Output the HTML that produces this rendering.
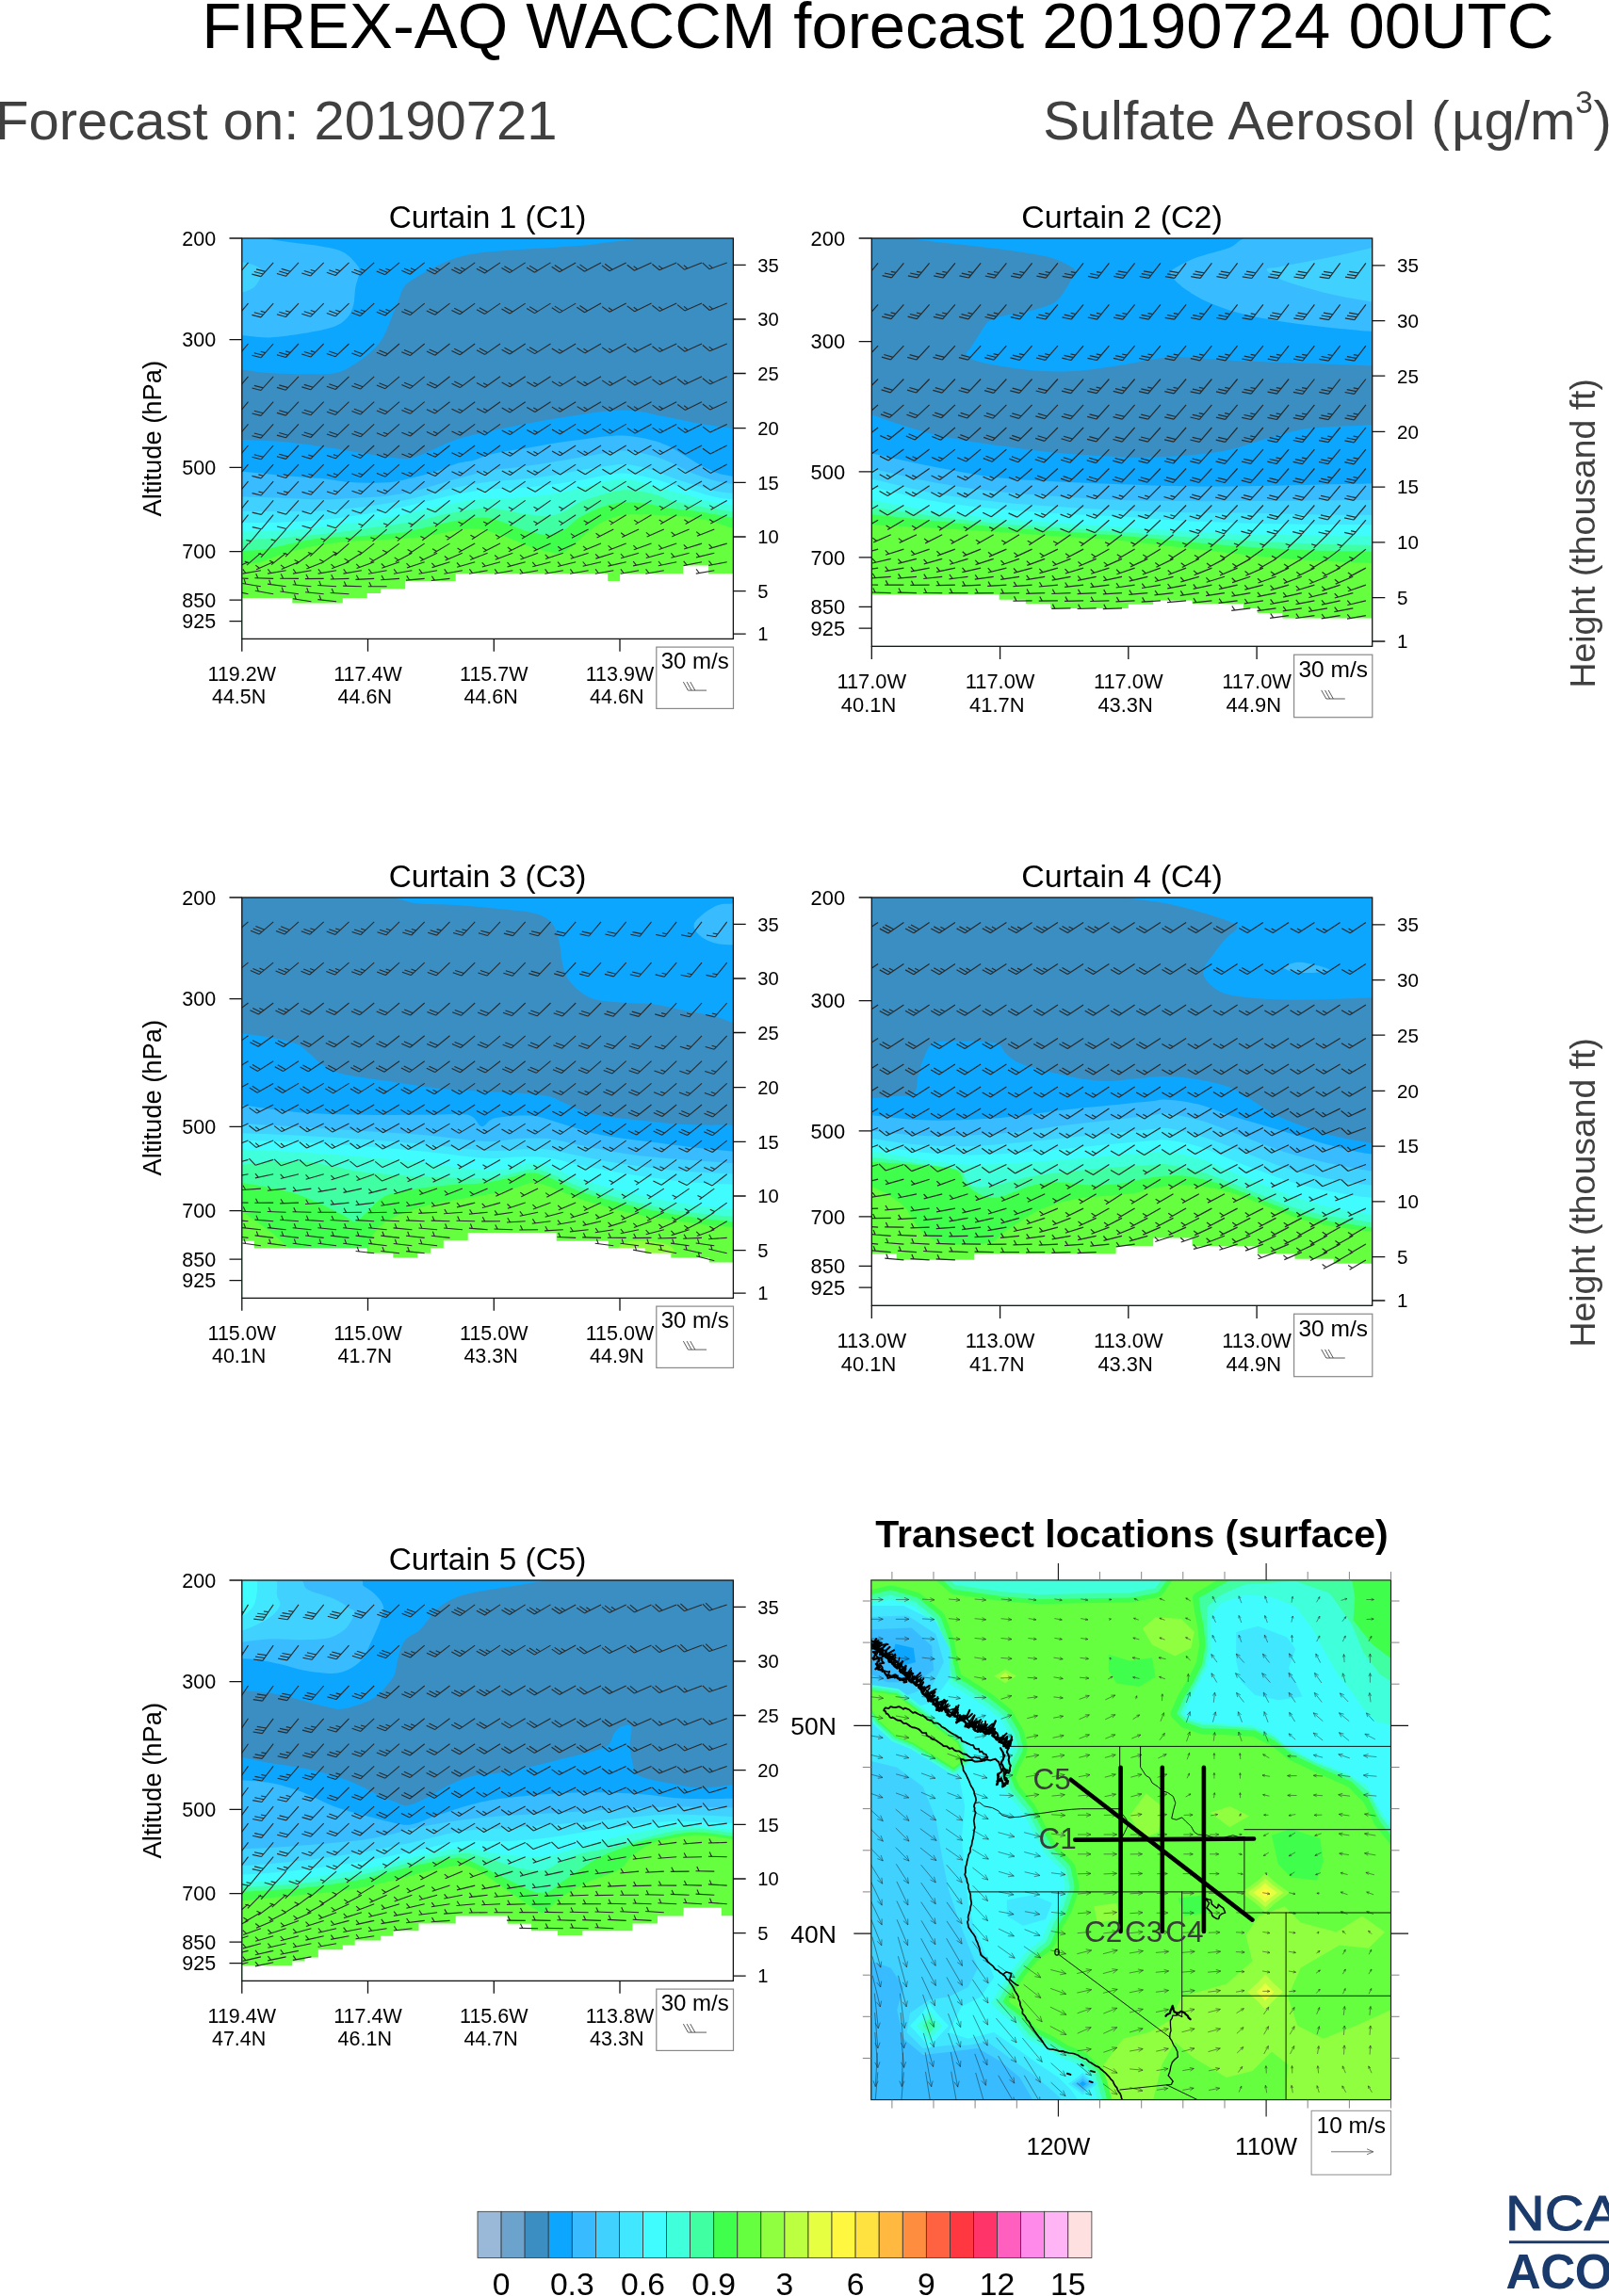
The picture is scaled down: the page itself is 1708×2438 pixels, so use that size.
<!DOCTYPE html>
<html><head><meta charset="utf-8"><title>FIREX-AQ WACCM forecast</title>
<style>html,body{margin:0;padding:0;background:#fff}svg{display:block;will-change:transform}text{font-family:"Liberation Sans",sans-serif}</style></head><body>
<svg width="1708" height="2438" viewBox="0 0 1708 2438">
<rect width="1708" height="2438" fill="#fff"/>
<text x="214.3" y="51.3" font-size="68.8" text-anchor="start" fill="#000" >FIREX-AQ WACCM forecast 20190724 00UTC</text>
<text x="-5" y="148" font-size="58" text-anchor="start" fill="#404040" >Forecast on: 20190721</text>
<text x="1107.2" y="148" font-size="58.2" text-anchor="start" fill="#404040" letter-spacing="0.28">Sulfate Aerosol (</text>
<text x="1541" y="148" font-size="58.2" text-anchor="start" fill="#404040" >µ</text>
<text x="1575.5" y="148" font-size="58.2" text-anchor="start" fill="#404040" >g/m</text>
<text x="1672.3" y="120.3" font-size="33.5" text-anchor="start" fill="#404040" >3</text>
<text x="1691.5" y="148" font-size="58.2" text-anchor="start" fill="#404040" >)</text>
<g transform="translate(256.8 253)">
<clipPath id="cp1"><rect x="0" y="0" width="521.6" height="425.4"/></clipPath>
<g clip-path="url(#cp1)">
<rect x="0" y="0" width="521.6" height="425.4" fill="#0DA6FF"/>
<path d="M0 -6.5 C7.6 -5 25.4 0.2 38.9 2.6 C52.4 5 69.7 6.1 81 8.1 C92.4 10.1 100.2 11.3 107 14.6 C113.7 17.8 118.6 24 121.6 27.6 C124.5 31.1 125 31.6 124.8 35.7 C124.6 39.7 121.7 45.9 120.6 51.9 C119.5 57.8 119.8 65.9 118.3 71.3 C116.9 76.7 115.4 80.5 111.8 84.3 C108.3 88.1 105.1 91.2 97.3 94 C89.4 96.8 76.2 99.3 64.8 101.1 C53.5 103 40 105 29.2 105.4 C18.4 105.7 5.9 103.5 0 103.1 C-5.9 102.7 -5.4 121.4 -6.5 103.1 C-7.6 84.8 -7.6 11.8 -6.5 -6.5 C-5.4 -24.7 -7.6 -8 0 -6.5Z" fill="#38BCFF"/>
<path d="M-6.5 25.3 C-5.4 19.9 -3.2 24.7 0 25.3 C3.2 25.8 9.5 27.1 13 28.5 C16.5 30 20 31.8 21.1 34 C22.2 36.3 20.8 39.2 19.5 42.1 C18.1 45.1 16.2 49.3 13 51.9 C9.7 54.5 3.2 56.7 0 57.7 C-3.2 58.7 -5.4 63.1 -6.5 57.7 C-7.6 52.3 -7.6 30.7 -6.5 25.3Z" fill="#40D1FF"/>
<path d="M431.2 -3.9 C413.3 -3.6 431.7 -1.4 424.7 0 C417.6 1.4 400.4 2.9 389 4.2 C377.7 5.6 372.8 6.8 356.6 8.1 C340.4 9.5 309 11.1 291.8 12.3 C274.5 13.6 263.7 14.1 252.9 15.6 C242.1 17 235.6 18.3 226.9 21.1 C218.3 23.9 208.6 28.6 201 32.4 C193.4 36.2 186.4 40.5 181.5 43.8 C176.7 47 174.5 47.8 171.8 51.9 C169.1 55.9 167.5 62.7 165.3 68.1 C163.2 73.5 161.3 78.3 158.8 84.3 C156.4 90.2 154 98.1 150.7 103.7 C147.5 109.4 144 113.7 139.4 118.3 C134.8 122.9 129.1 127.3 123.2 131.3 C117.2 135.2 110.8 139.8 103.7 142 C96.7 144.2 92.9 144 81 144.3 C69.2 144.5 45.9 144.1 32.4 143.3 C18.9 142.5 7 140 0 139.4 C-7 138.7 -8.1 127 -9.7 139.4 C-11.3 151.8 -11.3 201.5 -9.7 214 C-8.1 226.4 -9.7 213.5 0 214 C9.7 214.4 32.4 215 48.6 216.5 C64.8 218.1 82.7 220.9 97.3 223 C111.8 225.2 123.7 227.7 136.2 229.5 C148.6 231.4 163.7 233.6 171.8 234.1 C179.9 234.5 179.9 233.6 184.8 232.1 C189.6 230.7 194 228.3 201 225.3 C208 222.3 216.9 217.3 226.9 214 C237 210.6 251.5 207.5 261.3 205.2 C271.1 202.9 277.5 202 285.6 200.3 C293.7 198.7 301.8 197 309.9 195.5 C318 194 326.2 192.6 334.2 191.3 C342.3 189.9 350.2 188.6 358.2 187.4 C366.3 186.2 375 184.9 382.5 184.1 C390.1 183.3 396.8 182.5 403.6 182.5 C410.4 182.5 417.1 183.3 423.1 184.1 C429 184.9 432.5 186 439.3 187.4 C446 188.7 455.5 190.6 463.6 192.2 C471.7 193.9 478.2 195.5 487.9 197.1 C497.6 198.7 514.3 201 521.6 202 C528.9 202.9 530 236.5 531.6 202.6 C533.3 168.7 548.4 32.8 531.6 -1.6 C514.9 -36 449 -4.2 431.2 -3.9Z" fill="#3B8EC2"/>
<path d="M-10 247.7 C-8.3 247.7 -8.9 247 0 247.7 C8.9 248.4 29.2 250.6 43.4 251.9 C57.6 253.1 74.1 254 85.3 255.1 C96.4 256.3 102.1 257.9 110.5 258.7 C119 259.4 127.4 259.7 135.8 259.7 C144.3 259.7 154.1 259.4 161.1 258.7 C168.1 257.9 170.7 256.8 177.6 255.1 C184.6 253.5 194.5 251.3 202.9 248.6 C211.4 246 221.2 241.3 228.2 239.2 C235.2 237.1 239.6 237.5 245.1 236 C250.6 234.5 254.5 231.9 261.3 230.2 C268 228.4 277.5 226.8 285.6 225.3 C293.7 223.8 301.8 222.8 309.9 221.4 C318 220.1 326.2 218.4 334.2 217.2 C342.3 216 350.2 215 358.2 214 C366.3 212.9 375 211.5 382.5 210.7 C390.1 210 396.8 209.3 403.6 209.4 C410.4 209.6 417.1 210.7 423.1 211.7 C429 212.7 433.9 213.8 439.3 215.6 C444.7 217.3 450.1 219.4 455.5 222.1 C460.9 224.8 466.3 228.5 471.7 231.8 C477.1 235 482.5 238.6 487.9 241.5 C493.2 244.4 498.2 247.1 503.8 249 C509.4 250.9 517 252.2 521.6 252.9 C526.2 253.5 529.9 252.9 531.6 252.9 L531.6 430.4 L-10 430.4 Z" fill="#38BCFF"/>
<path d="M-10 274.6 C-8.3 274.6 -8.9 274.4 0 274.6 C8.9 274.8 29.2 275.4 43.4 275.9 C57.6 276.3 72.7 277.2 85.3 277.2 C97.8 277.2 109.1 276.3 119 275.9 C128.8 275.4 135.8 275.3 144.3 274.6 C152.7 273.8 161.2 272.9 169.5 271.3 C177.9 269.8 186.1 267.4 194.5 265.2 C202.9 262.9 211.4 260.1 219.8 257.7 C228.2 255.3 238.2 252.7 245.1 250.9 C252 249.1 253.2 248 261.3 246.7 C269.4 245.4 282.9 244.5 293.7 243.1 C304.5 241.7 315.4 240 326.1 238.3 C336.9 236.5 348.8 234.4 358.2 232.8 C367.6 231.1 375 229.7 382.5 228.5 C390.1 227.4 396.8 225.7 403.6 225.6 C410.4 225.5 417.1 226.9 423.1 227.9 C429 228.9 433.9 230.1 439.3 231.8 C444.7 233.5 450.1 235.8 455.5 238.3 C460.9 240.7 466.3 243.9 471.7 246.4 C477.1 248.8 482.5 251 487.9 252.9 C493.2 254.7 498.2 256.4 503.8 257.7 C509.4 259.1 517 260.4 521.6 261 C526.2 261.5 529.9 261 531.6 261 L531.6 430.4 L-10 430.4 Z" fill="#40D1FF"/>
<path d="M-10 289.8 C-8.3 289.8 -8.9 289.8 0 289.8 C8.9 289.9 29.2 290.2 43.4 290.1 C57.6 290.1 72.7 290.1 85.3 289.5 C97.8 288.8 109.1 287.3 119 286.2 C128.8 285.2 135.8 284.2 144.3 283 C152.7 281.8 161.2 280.5 169.5 278.8 C177.9 277.1 186.1 275.1 194.5 273 C202.9 270.8 211.4 268.1 219.8 266.1 C228.2 264.2 238.2 262.5 245.1 261.3 C252 260 253.2 259.6 261.3 258.7 C269.4 257.8 282.9 257.2 293.7 256.1 C304.5 255 315.4 253.8 326.1 252.2 C336.9 250.6 348.8 248 358.2 246.4 C367.6 244.8 375 243.6 382.5 242.5 C390.1 241.4 396.8 239.9 403.6 239.9 C410.4 239.9 417.1 241.2 423.1 242.5 C429 243.7 433.9 245.5 439.3 247.3 C444.7 249.2 450.1 251.8 455.5 253.8 C460.9 255.8 466.3 257.6 471.7 259.3 C477.1 261.1 482.5 262.7 487.9 264.2 C493.2 265.7 498.2 267.3 503.8 268.4 C509.4 269.5 517 270.3 521.6 270.7 C526.2 271.1 529.9 270.7 531.6 270.7 L531.6 430.4 L-10 430.4 Z" fill="#40E7FF"/>
<path d="M-10 302.1 C-8.3 302.1 -8.9 302.2 0 302.1 C8.9 302 29.2 302 43.4 301.5 C57.6 300.9 72.7 300 85.3 298.9 C97.8 297.8 109.1 296.1 119 294.7 C128.8 293.3 135.8 292 144.3 290.5 C152.7 288.9 161.2 287.4 169.5 285.6 C177.9 283.8 186.1 281.8 194.5 279.8 C202.9 277.8 211.4 275.4 219.8 273.6 C228.2 271.8 238.2 269.9 245.1 268.7 C252 267.6 253.2 267.1 261.3 266.5 C269.4 265.9 282.9 265.9 293.7 265.2 C304.5 264.4 315.4 263.3 326.1 261.9 C336.9 260.6 348.8 258.7 358.2 257.1 C367.6 255.5 375 253.5 382.5 252.2 C390.1 251 396.8 249.6 403.6 249.6 C410.4 249.6 417.1 251.1 423.1 252.2 C429 253.3 433.9 254.6 439.3 256.1 C444.7 257.6 450.1 259.3 455.5 261 C460.9 262.6 466.3 264.2 471.7 265.8 C477.1 267.4 482.5 269.2 487.9 270.7 C493.2 272.2 498.2 273.8 503.8 274.9 C509.4 276 517 276.8 521.6 277.2 C526.2 277.5 529.9 277.2 531.6 277.2 L531.6 430.4 L-10 430.4 Z" fill="#40FCFF"/>
<path d="M-10 311.5 C-8.3 311.5 -8.9 311.7 0 311.5 C8.9 311.3 29.2 311 43.4 310.2 C57.6 309.4 72.7 308 85.3 306.7 C97.8 305.3 109.1 303.5 119 302.1 C128.8 300.7 135.8 299.6 144.3 298.2 C152.7 296.9 161.2 295.8 169.5 294 C177.9 292.3 186.1 289.8 194.5 287.9 C202.9 286 211.4 284.4 219.8 282.7 C228.2 281 238.2 278.8 245.1 277.8 C252 276.8 253.2 276.9 261.3 276.5 C269.4 276.1 282.9 276.3 293.7 275.6 C304.5 274.8 315.4 273.9 326.1 272.3 C336.9 270.7 348.8 268 358.2 265.8 C367.6 263.7 375 261.1 382.5 259.3 C390.1 257.6 396.8 255.6 403.6 255.5 C410.4 255.3 417.1 257.3 423.1 258.7 C429 260 433.9 261.9 439.3 263.6 C444.7 265.2 450.1 267 455.5 268.4 C460.9 269.9 466.3 270.8 471.7 272.3 C477.1 273.8 482.5 275.7 487.9 277.2 C493.2 278.6 498.2 280 503.8 281.1 C509.4 282.1 517 283.2 521.6 283.7 C526.2 284.1 529.9 283.7 531.6 283.7 L531.6 430.4 L-10 430.4 Z" fill="#40FFDB"/>
<path d="M-10 320 C-8.3 320 -8.9 320.2 0 320 C8.9 319.7 29.2 319.3 43.4 318.3 C57.6 317.4 72.7 315.5 85.3 314.1 C97.8 312.7 109.1 311.2 119 309.9 C128.8 308.6 135.8 307.5 144.3 306.3 C152.7 305.2 161.2 304.5 169.5 303.1 C177.9 301.8 186.1 300.1 194.5 298.2 C202.9 296.4 211.4 293.8 219.8 292.1 C228.2 290.4 238.2 288.8 245.1 287.9 C252 287 255.9 286.5 261.3 286.6 C266.7 286.7 272.1 287.7 277.5 288.5 C282.9 289.4 288.3 290.8 293.7 291.8 C299.1 292.7 304.5 293.5 309.9 294 C315.3 294.6 320.7 295.6 326.1 295 C331.5 294.4 337 292.6 342.3 290.1 C347.7 287.7 351.5 283.4 358.2 280.4 C364.9 277.4 375 274.5 382.5 272.3 C390.1 270.1 396.8 268 403.6 267.4 C410.4 266.9 417.1 268.3 423.1 269.1 C429 269.9 433.9 270.7 439.3 272.3 C444.7 273.9 450.1 277.2 455.5 278.8 C460.9 280.4 466.3 281 471.7 282 C477.1 283.1 482.5 284.4 487.9 285.3 C493.2 286.2 498.2 286.7 503.8 287.5 C509.4 288.4 517 289.7 521.6 290.1 C526.2 290.6 529.9 290.1 531.6 290.1 L531.6 430.4 L-10 430.4 Z" fill="#40FFA2"/>
<path d="M-10 332 C-8.3 332 -6.1 332.3 0 332 C6.1 331.6 16.5 331.6 26.6 330 C36.6 328.4 50.5 324.5 60.3 322.6 C70.1 320.6 75.5 319.3 85.3 318.3 C95 317.4 109.1 317.3 119 316.7 C128.8 316.1 135.8 315.5 144.3 314.8 C152.7 314.1 161.2 313.7 169.5 312.5 C177.9 311.3 186.1 309.2 194.5 307.3 C202.9 305.5 211.4 303.2 219.8 301.5 C228.2 299.8 238.2 298 245.1 297.3 C252 296.5 255.9 296.2 261.3 296.9 C266.7 297.6 272.1 299.6 277.5 301.5 C282.9 303.3 288.3 306.1 293.7 308 C299.1 309.9 304.5 311.7 309.9 312.8 C315.3 314 320.7 315.3 326.1 314.8 C331.5 314.2 337 312.6 342.3 309.6 C347.7 306.6 351.5 300.7 358.2 296.6 C364.9 292.6 375 288 382.5 285.3 C390.1 282.6 396.8 281.1 403.6 280.4 C410.4 279.7 417.1 280.5 423.1 281.1 C429 281.6 433.9 282.7 439.3 283.7 C444.7 284.6 450.1 286.1 455.5 286.9 C460.9 287.7 466.3 287.9 471.7 288.5 C477.1 289.2 482.5 290 487.9 290.8 C493.2 291.6 498.2 292.4 503.8 293.4 C509.4 294.4 517 296.1 521.6 296.6 C526.2 297.2 529.9 296.6 531.6 296.6 L531.6 430.4 L-10 430.4 Z" fill="#40FF4C"/>
<path d="M-10 345.9 C-8.3 345.9 -4.7 346.2 0 345.9 C4.7 345.6 10.9 346.1 18.2 344.3 C25.4 342.5 35 337.8 43.4 335.2 C51.9 332.6 60.4 330.2 68.7 328.4 C77.1 326.6 85.3 325.3 93.7 324.2 C102.1 323 110.5 322.2 119 321.6 C127.4 321 135.8 321 144.3 320.6 C152.7 320.2 161.2 319.6 169.5 319 C177.9 318.3 186.1 318 194.5 316.7 C202.9 315.5 211.4 312.9 219.8 311.5 C228.2 310.2 238.2 308.7 245.1 308.6 C252 308.5 255.9 309.6 261.3 310.9 C266.7 312.1 272.1 314.1 277.5 316.1 C282.9 318 288.3 320.4 293.7 322.6 C299.1 324.7 304.5 327.3 309.9 329 C315.3 330.8 321.3 332.1 326.1 332.9 C331 333.7 335.1 334.8 339.1 333.9 C343.1 333 345.6 330.9 350.1 327.4 C354.6 323.9 360.9 317.2 366.3 312.8 C371.7 308.5 376.3 304.6 382.5 301.5 C388.7 298.4 396.8 295.4 403.6 294 C410.4 292.7 417.1 293.4 423.1 293.4 C429 293.3 433.9 293.4 439.3 293.7 C444.7 294 450.1 294.7 455.5 295 C460.9 295.3 466.3 295.1 471.7 295.6 C477.1 296.2 482.5 297.2 487.9 298.2 C493.2 299.3 498.2 300.5 503.8 302.1 C509.4 303.8 517 307 521.6 308 C526.2 308.9 529.9 308 531.6 308 L531.6 430.4 L-10 430.4 Z" fill="#65FF40"/>
<path d="M-5 430.4 L-5 381.9 L53.5 381.9 L53.5 387.4 L107 387.4 L107 381.9 L132.9 381.9 L132.9 377 L147.5 377 L147.5 372.2 L173.4 372.2 L173.4 364.1 L226.9 364.1 L226.9 355.9 L388.4 355.9 L388.4 364.1 L401.3 364.1 L401.3 355.9 L468.4 355.9 L468.4 347.5 L495.3 347.5 L495.3 355.9 L526.6 355.9 L526.6 430.4 Z" fill="#fff"/>
<path d="M6.7 25.9L-6.1 41M-6.1 41L-15.8 38.7M-3.9 38.3L-13.5 36.1M-1.6 35.7L-11.2 33.4M33.4 25.9L20.2 40.6M20.2 40.6L10.6 38.1M22.5 38L13 35.5M24.9 35.4L15.3 32.9M60.2 25.9L46.6 40.3M46.6 40.3L37.1 37.5M49 37.7L39.5 35M51.4 35.2L41.9 32.4M86.9 25.9L72.9 39.9M72.9 39.9L63.5 36.9M75.4 37.4L66 34.4M77.9 35L72.9 33.4M113.7 25.9L99.3 39.5M99.3 39.5L90 36.2M101.9 37.1L92.5 33.8M104.4 34.7L99.5 33M140.4 25.9L125.7 39.1M125.7 39.1L116.4 35.6M128.3 36.8L119.1 33.3M130.9 34.5L126 32.6M167.2 25.9L152.1 38.7M152.1 38.7L142.9 35M154.8 36.5L145.6 32.7M157.4 34.2L152.6 32.2M193.9 25.9L178.5 38.3M178.5 38.3L169.5 34.3M181.2 36.1L172.2 32.1M184 33.9L179.2 31.8M220.7 25.9L204.9 37.9M204.9 37.9L196 33.6M207.7 35.8L198.8 31.5M210.5 33.7L205.8 31.4M247.4 25.9L231.4 37.5M231.4 37.5L222.5 33M234.2 35.4L225.4 30.9M237 33.4L232.4 31M274.2 25.9L257.8 37M257.8 37L249.1 32.3M260.7 35.1L252 30.3M300.9 25.9L284.3 36.6M284.3 36.6L275.7 31.6M287.2 34.7L278.6 29.7M327.7 25.9L310.7 36.2M310.7 36.2L302.3 31M313.7 34.3L305.3 29.1M354.4 25.9L337.2 35.7M337.2 35.7L328.9 30.3M340.2 34L332 28.5M381.2 25.9L363.7 35.2M363.7 35.2L355.6 29.6M366.8 33.6L358.7 27.9M407.9 25.9L390.2 34.8M390.2 34.8L382.2 28.9M393.3 33.2L385.4 27.3M434.7 25.9L416.7 34.3M416.7 34.3L408.9 28.2M419.9 32.8L415.8 29.6M461.4 25.9L443.3 33.8M443.3 33.8L435.6 27.5M446.5 32.4L442.4 29.1M488.2 25.9L469.8 33.3M469.8 33.3L462.3 26.8M473 32L469.1 28.6M514.9 25.9L496.4 32.8M496.4 32.8L489 26.1M499.6 31.6L495.8 28.1M6.7 69.1L-6.1 84.2M-6.1 84.2L-15.8 82M-3.9 81.6L-13.5 79.3M-1.6 78.9L-6.7 77.7M33.4 69.1L20.2 83.9M20.2 83.9L10.6 81.4M22.6 81.3L13 78.8M24.9 78.7L19.9 77.4M60.2 69.1L46.6 83.5M46.6 83.5L37.1 80.8M49 81L39.5 78.2M51.4 78.5L46.4 77M86.9 69.1L73 83.2M73 83.2L63.5 80.2M75.4 80.7L66 77.7M77.9 78.2L72.9 76.6M113.7 69.1L99.3 82.8M99.3 82.8L90 79.5M101.9 80.4L92.5 77.1M104.4 78L99.5 76.3M140.4 69.1L125.7 82.4M125.7 82.4L116.5 78.9M128.3 80.1L119.1 76.6M130.9 77.7L126.1 75.9M167.2 69.1L152.1 82M152.1 82L143 78.3M154.8 79.8L145.6 76M157.5 77.5L152.6 75.5M193.9 69.1L178.6 81.6M178.6 81.6L169.5 77.7M181.3 79.4L172.2 75.4M220.7 69.1L205 81.2M205 81.2L196 77M207.8 79.1L198.8 74.9M247.4 69.1L231.4 80.8M231.4 80.8L222.6 76.4M234.3 78.7L225.4 74.3M274.2 69.1L257.9 80.4M257.9 80.4L249.2 75.7M260.8 78.4L252 73.7M300.9 69.1L284.4 80M284.4 80L275.7 75.1M287.3 78.1L278.7 73.2M327.7 69.1L310.8 79.6M310.8 79.6L302.4 74.5M313.8 77.7L305.3 72.6M354.4 69.1L337.3 79.1M337.3 79.1L329 73.8M340.4 77.4L332 72.1M381.2 69.1L363.8 78.7M363.8 78.7L355.6 73.2M366.9 77L358.7 71.5M407.9 69.1L390.4 78.3M390.4 78.3L382.3 72.6M393.5 76.7L389.2 73.7M434.7 69.1L416.9 77.8M416.9 77.8L408.9 71.9M420 76.3L415.9 73.2M461.4 69.1L443.4 77.4M443.4 77.4L435.6 71.3M446.6 75.9L442.5 72.7M488.2 69.1L470 76.9M470 76.9L462.3 70.6M473.2 75.6L469.2 72.3M514.9 69.1L496.5 76.5M496.5 76.5L489.1 70M499.8 75.2L495.9 71.8M6.7 112L-6.1 127.1M-6.1 127.1L-15.8 124.9M-3.9 124.5L-13.5 122.2M-1.6 121.8L-6.7 120.6M33.4 112L20.2 126.8M20.2 126.8L10.6 124.3M22.6 124.2L13 121.7M24.9 121.6L19.9 120.3M60.2 112L46.6 126.5M46.6 126.5L37.1 123.7M49 123.9L39.5 121.2M51.4 121.4L46.4 119.9M86.9 112L73 126.1M73 126.1L63.5 123.1M75.5 123.6L66 120.6M77.9 121.1L73 119.6M113.7 112L99.4 125.7M99.4 125.7L90 122.5M101.9 123.3L92.5 120.1M140.4 112L125.8 125.4M125.8 125.4L116.5 121.9M128.4 123L119.1 119.5M167.2 112L152.2 125M152.2 125L143 121.3M154.8 122.7L145.7 119M193.9 112L178.6 124.6M178.6 124.6L169.5 120.7M181.3 122.4L172.2 118.4M220.7 112L205 124.2M205 124.2L196.1 120M207.8 122L198.8 117.9M247.4 112L231.5 123.8M231.5 123.8L222.6 119.4M234.3 121.7L225.4 117.3M274.2 112L258 123.4M258 123.4L249.2 118.8M260.8 121.4L252.1 116.8M300.9 112L284.4 123M284.4 123L275.8 118.2M287.4 121.1L278.7 116.3M327.7 112L310.9 122.6M310.9 122.6L302.4 117.6M313.9 120.8L305.4 115.8M354.4 112L337.5 122.3M337.5 122.3L329 117M340.5 120.4L336 117.7M381.2 112L364 121.9M364 121.9L355.7 116.5M367 120.1L362.7 117.3M407.9 112L390.5 121.5M390.5 121.5L382.3 115.9M393.6 119.8L389.3 116.9M434.7 112L417 121.1M417 121.1L409 115.3M420.2 119.5L415.9 116.4M461.4 112L443.6 120.6M443.6 120.6L435.7 114.7M446.7 119.1L442.6 116M488.2 112L470.1 120.2M470.1 120.2L462.4 114.1M473.3 118.8L469.2 115.6M514.9 112L496.7 119.8M496.7 119.8L489.1 113.5M499.9 118.4L495.9 115.1M6.7 146.8L-6.1 161.8M-6.1 161.8L-15.8 159.6M-3.9 159.2L-13.5 156.9M33.4 146.8L20.2 161.5M20.2 161.5L10.7 159M22.6 158.9L13 156.4M60.2 146.8L46.6 161.2M46.6 161.2L37.1 158.4M49 158.6L39.5 155.9M86.9 146.8L73 160.8M73 160.8L63.6 157.9M75.5 158.3L66 155.4M113.7 146.8L99.4 160.5M99.4 160.5L90 157.3M101.9 158.1L92.6 154.8M140.4 146.8L125.8 160.1M125.8 160.1L116.5 156.7M128.4 157.8L119.1 154.3M167.2 146.8L152.2 159.7M152.2 159.7L143 156.1M154.9 157.4L145.7 153.8M193.9 146.8L178.7 159.4M178.7 159.4L169.6 155.4M181.4 157.1L172.3 153.2M220.7 146.8L205.1 159M205.1 159L196.1 154.8M207.8 156.8L198.9 152.7M247.4 146.8L231.5 158.6M231.5 158.6L222.7 154.2M234.3 156.5L225.5 152.1M274.2 146.8L258 158.2M258 158.2L249.2 153.6M260.9 156.2L256.3 153.8M300.9 146.8L284.5 157.8M284.5 157.8L275.8 153.1M287.4 155.9L282.9 153.4M327.7 146.8L311 157.5M311 157.5L302.5 152.5M314 155.6L309.5 153M354.4 146.8L337.6 157.1M337.6 157.1L329.1 152M340.5 155.3L336.1 152.6M381.2 146.8L364.1 156.8M364.1 156.8L355.7 151.5M367.1 155L362.7 152.2M407.9 146.8L390.6 156.4M390.6 156.4L382.4 150.9M393.7 154.7L389.4 151.8M434.7 146.8L417.2 156M417.2 156L409 150.4M420.3 154.4L416 151.4M461.4 146.8L443.7 155.6M443.7 155.6L435.7 149.8M446.9 154.1L442.7 151M488.2 146.8L470.3 155.3M470.3 155.3L462.4 149.3M473.4 153.8L469.3 150.6M514.9 146.8L496.9 154.9M496.9 154.9L489.1 148.7M500 153.4L496 150.2M6.7 173.7L-6.1 188.8M-6.1 188.8L-15.8 186.5M-3.9 186.1L-13.5 183.9M33.4 173.7L20.2 188.4M20.2 188.4L10.7 186M22.6 185.8L13 183.3M60.2 173.7L46.6 188.1M46.6 188.1L37.1 185.4M49 185.6L39.5 182.8M86.9 173.7L73 187.8M73 187.8L63.6 184.8M75.5 185.3L66 182.3M113.7 173.7L99.4 187.4M99.4 187.4L90.1 184.2M101.9 185L92.6 181.8M140.4 173.7L125.8 187.1M125.8 187.1L116.6 183.6M128.4 184.7L119.1 181.3M167.2 173.7L152.3 186.7M152.3 186.7L143.1 183M154.9 184.4L145.7 180.7M193.9 173.7L178.7 186.3M178.7 186.3L169.6 182.4M181.4 184.1L172.3 180.2M220.7 173.7L205.1 185.9M205.1 185.9L196.1 181.8M207.9 183.8L203.1 181.6M247.4 173.7L231.6 185.6M231.6 185.6L222.7 181.2M234.4 183.5L229.7 181.2M274.2 173.7L258.1 185.2M258.1 185.2L249.3 180.7M260.9 183.2L256.3 180.8M300.9 173.7L284.6 184.9M284.6 184.9L275.9 180.1M287.5 182.9L282.9 180.4M327.7 173.7L311.1 184.5M311.1 184.5L302.5 179.6M314 182.6L309.5 180M354.4 173.7L337.6 184.2M337.6 184.2L329.1 179.1M340.6 182.3L336.1 179.7M381.2 173.7L364.2 183.8M364.2 183.8L355.8 178.6M367.2 182.1L362.8 179.3M407.9 173.7L390.7 183.5M390.7 183.5L382.4 178.1M393.8 181.8L389.4 178.9M434.7 173.7L417.3 183.2M417.3 183.2L409.1 177.6M420.4 181.5L416.1 178.6M461.4 173.7L443.8 182.8M443.8 182.8L435.8 177.1M446.9 181.2L442.7 178.2M488.2 173.7L470.4 182.4M470.4 182.4L462.5 176.5M473.5 180.9L469.4 177.8M514.9 173.7L497 182.1M497 182.1L489.1 176M500.2 180.6L496 177.4M6.7 197.4L-6.1 212.5M-6.1 212.5L-15.8 210.2M-3.9 209.8L-13.5 207.5M33.4 197.4L20.2 212.1M20.2 212.1L10.7 209.7M22.6 209.5L13 207M60.2 197.4L46.6 211.8M46.6 211.8L37.1 209.1M49 209.3L39.5 206.5M86.9 197.4L73 211.5M73 211.5L63.6 208.5M75.5 209L66 206M113.7 197.4L99.4 211.1M99.4 211.1L90.1 207.9M102 208.7L92.6 205.5M140.4 197.4L125.9 210.8M125.9 210.8L116.6 207.4M128.4 208.4L119.1 205M167.2 197.4L152.3 210.4M152.3 210.4L143.1 206.8M154.9 208.1L150.1 206.2M193.9 197.4L178.7 210M178.7 210L169.6 206.2M181.4 207.8L176.6 205.8M220.7 197.4L205.2 209.7M205.2 209.7L196.1 205.6M207.9 207.5L203.2 205.3M247.4 197.4L231.6 209.3M231.6 209.3L222.7 205M234.4 207.2L229.7 204.9M274.2 197.4L258.1 208.9M258.1 208.9L249.3 204.4M260.9 206.9L256.3 204.5M300.9 197.4L284.6 208.6M284.6 208.6L275.9 204M287.5 206.6L282.9 204.2M327.7 197.4L311.2 208.3M311.2 208.3L302.5 203.5M314.1 206.4L309.6 203.9M354.4 197.4L337.7 208M337.7 208L329.2 203M340.7 206.1L336.2 203.5M381.2 197.4L364.3 207.7M364.3 207.7L355.8 202.6M367.3 205.9L362.8 203.2M407.9 197.4L390.8 207.4M390.8 207.4L382.5 202.1M393.9 205.6L389.5 202.8M434.7 197.4L417.4 207.1M417.4 207.1L409.1 201.6M420.5 205.3L416.1 202.5M461.4 197.4L444 206.7M444 206.7L435.8 201.1M447.1 205.1L442.8 202.1M488.2 197.4L470.5 206.4M470.5 206.4L462.5 200.6M473.7 204.8L469.4 201.8M514.9 197.4L497.1 206.1M497.1 206.1L489.2 200.1M6.7 220L-6.1 235.1M-6.1 235.1L-15.8 232.8M-3.9 232.4L-13.5 230.2M33.4 220L20.3 234.8M20.3 234.8L10.7 232.3M22.6 232.2L13 229.7M60.2 220L46.7 234.4M46.7 234.4L37.1 231.7M49 231.9L39.5 229.2M86.9 220L73.1 234.1M73.1 234.1L63.6 231.2M75.5 231.6L70.5 230.1M113.7 220L99.5 233.8M99.5 233.8L90.1 230.6M102 231.3L97.1 229.7M140.4 220L125.9 233.4M125.9 233.4L116.6 230M128.5 231L123.6 229.3M167.2 220L152.3 233.1M152.3 233.1L143.1 229.4M154.9 230.8L150.1 228.8M193.9 220L178.7 232.7M178.7 232.7L169.6 228.9M181.4 230.5L176.6 228.4M220.7 220L205.2 232.3M205.2 232.3L196.2 228.3M207.9 230.1L203.2 228M247.4 220L231.6 231.9M231.6 231.9L222.7 227.7M234.4 229.8L229.7 227.6M274.2 220L258.2 231.6M258.2 231.6L249.3 227.2M261 229.6L256.3 227.2M300.9 220L284.7 231.3M284.7 231.3L275.9 226.7M287.6 229.3L283 226.9M327.7 220L311.3 231.1M311.3 231.1L302.6 226.3M314.2 229.1L309.6 226.6M354.4 220L337.8 230.8M337.8 230.8L329.2 225.9M340.8 228.9L336.2 226.3M381.2 220L364.4 230.5M364.4 230.5L355.9 225.4M367.3 228.6L362.9 226M407.9 220L391 230.2M391 230.2L382.5 225M393.9 228.4L389.5 225.7M434.7 220L417.5 229.9M417.5 229.9L409.2 224.5M420.6 228.1L416.2 225.3M461.4 220L444.1 229.6M444.1 229.6L435.9 224.1M447.2 227.9L442.8 225M488.2 220L470.7 229.3M470.7 229.3L462.6 223.7M514.9 220L497.3 229M497.3 229L489.2 223.2M6.7 240.1L-6.1 255.2M-6.1 255.2L-15.8 252.9M-3.9 252.5L-8.9 251.3M33.4 240.1L20.3 254.9M20.3 254.9L10.7 252.4M22.6 252.2L17.6 250.9M60.2 240.1L46.7 254.5M46.7 254.5L37.1 251.8M49.1 252L44 250.6M86.9 240.1L73.1 254.2M73.1 254.2L63.6 251.3M75.5 251.7L70.6 250.2M113.7 240.1L99.5 253.9M99.5 253.9L90.1 250.7M102 251.4L97.1 249.8M140.4 240.1L125.9 253.5M125.9 253.5L116.6 250.1M128.5 251.2L123.6 249.4M167.2 240.1L152.3 253.2M152.3 253.2L143.1 249.6M155 250.9L150.1 249M193.9 240.1L178.8 252.8M178.8 252.8L169.6 249M181.5 250.6L176.7 248.6M220.7 240.1L205.2 252.5M205.2 252.5L196.2 248.4M208 250.3L203.2 248.1M247.4 240.1L231.7 252.1M231.7 252.1L222.7 247.8M234.5 250L229.8 247.7M274.2 240.1L258.2 251.8M258.2 251.8L249.3 247.3M261 249.7L256.4 247.4M300.9 240.1L284.8 251.5M284.8 251.5L276 246.9M287.6 249.5L283 247.1M327.7 240.1L311.3 251.2M311.3 251.2L302.6 246.5M314.2 249.3L309.6 246.8M354.4 240.1L337.9 251M337.9 251L329.3 246.1M381.2 240.1L364.5 250.7M364.5 250.7L355.9 245.7M407.9 240.1L391.1 250.5M391.1 250.5L382.6 245.3M434.7 240.1L417.6 250.2M417.6 250.2L409.3 244.9M461.4 240.1L444.2 249.9M444.2 249.9L435.9 244.5M488.2 240.1L470.8 249.6M470.8 249.6L462.6 244.1M514.9 240.1L497.4 249.4M497.4 249.4L489.3 243.7M6.7 258.1L-6 273.3M-6 273.3L-15.6 271.1M-3.7 270.6L-8.8 269.5M33.4 258.1L20.4 273M20.4 273L10.8 270.6M22.7 270.3L17.7 269.1M60.2 258.1L46.8 272.6M46.8 272.6L37.2 270M49.2 270.1L44.1 268.7M86.9 258.1L73.2 272.3M73.2 272.3L63.7 269.4M75.6 269.8L70.6 268.3M113.7 258.1L99.6 271.9M99.6 271.9L90.2 268.9M102.1 269.5L97.1 267.9M140.4 258.1L126 271.6M126 271.6L116.7 268.3M128.5 269.2L123.6 267.5M167.2 258.1L152.4 271.2M152.4 271.2L143.2 267.7M155 268.9L150.2 267M193.9 258.1L178.8 270.9M178.8 270.9L169.7 267.1M220.7 258.1L205.3 270.5M205.3 270.5L196.2 266.5M247.4 258.1L231.7 270.1M231.7 270.1L222.8 265.9M274.2 258.1L258.2 269.8M258.2 269.8L249.4 265.4M300.9 258.1L284.8 269.5M284.8 269.5L276 265M327.7 258.1L311.4 269.3M311.4 269.3L302.7 264.6M354.4 258.1L338 269.1M338 269.1L329.3 264.3M381.2 258.1L364.6 268.8M364.6 268.8L356 263.9M407.9 258.1L391.1 268.6M391.1 268.6L382.6 263.5M434.7 258.1L417.7 268.3M417.7 268.3L409.3 263.2M461.4 258.1L444.3 268.1M444.3 268.1L436 262.8M488.2 258.1L470.9 267.8M470.9 267.8L462.7 262.4M514.9 258.1L497.6 267.6M497.6 267.6L489.4 262M6.7 278.4L-5.8 293.7M-5.8 293.7L-15.5 291.7M33.4 278.4L20.6 293.4M20.6 293.4L10.9 291.1M60.2 278.4L46.9 293.1M46.9 293.1L37.4 290.5M86.9 278.4L73.3 292.7M73.3 292.7L63.8 289.9M113.7 278.4L99.7 292.4M99.7 292.4L90.3 289.3M140.4 278.4L126.1 292M126.1 292L116.7 288.7M167.2 278.4L152.5 291.6M152.5 291.6L143.2 288.1M193.9 278.4L178.9 291.2M178.9 291.2L169.7 287.5M220.7 278.4L205.3 290.8M205.3 290.8L196.2 286.9M247.4 278.4L231.7 290.4M234.5 288.3L229.8 286.1M274.2 278.4L258.3 290.1M261.1 288.1L256.4 285.8M300.9 278.4L284.9 289.9M287.7 287.9L283.1 285.5M327.7 278.4L311.5 289.7M314.3 287.7L309.7 285.3M354.4 278.4L338.1 289.5M340.9 287.5L336.4 285M381.2 278.4L364.7 289.3M367.6 287.3L363 284.8M407.9 278.4L391.3 289.1M394.2 287.2L389.7 284.6M434.7 278.4L417.9 288.8M420.8 287L416.4 284.3M461.4 278.4L444.5 288.6M447.5 286.8L443 284.1M488.2 278.4L471.1 288.4M474.1 286.6L469.7 283.8M514.9 278.4L497.7 288.2M500.7 286.4L496.4 283.6M6.7 293.7L-5.7 309.2M-5.7 309.2L-15.4 307.2M33.4 293.7L20.7 308.8M20.7 308.8L11 306.6M60.2 293.7L47 308.5M47 308.5L37.4 306M86.9 293.7L73.3 308.1M73.3 308.1L63.8 305.3M113.7 293.7L99.7 307.7M99.7 307.7L90.2 304.7M140.4 293.7L126 307.3M128.6 304.9L123.7 303.2M167.2 293.7L152.4 306.9M155 304.6L150.2 302.7M193.9 293.7L178.8 306.5M181.5 304.2L176.7 302.2M220.7 293.7L205.2 306.1M207.9 303.9L203.2 301.7M247.4 293.7L231.6 305.6M234.4 303.5L229.7 301.2M274.2 293.7L258.1 305.3M260.9 303.2L256.3 300.9M300.9 293.7L284.7 305M287.6 303L283 300.6M327.7 293.7L311.3 304.8M314.2 302.9L309.6 300.4M354.4 293.7L337.9 304.6M340.8 302.7L336.3 300.1M381.2 293.7L364.5 304.3M367.4 302.5L362.9 299.8M407.9 293.7L391.1 304.1M394 302.3L389.6 299.6M434.7 293.7L417.7 303.9M420.7 302.1L416.3 299.3M461.4 293.7L444.3 303.6M447.3 301.9L442.9 299M488.2 293.7L470.9 303.4M473.9 301.7L469.6 298.8M514.9 293.7L497.5 303.1M500.6 301.5L496.3 298.5M20.1 309.1L7.4 324.3M9.6 321.6L4.5 320.5M46.8 309.1L33.6 323.8M35.9 321.2L30.9 319.9M73.6 309.1L59.9 323.4M62.3 320.8L57.3 319.4M100.3 309.1L86.1 322.9M88.6 320.5L83.7 318.8M127.1 309.1L112.4 322.4M115 320.1L110.1 318.2M153.8 309.1L138.7 321.9M141.4 319.6L136.6 317.7M180.6 309.1L165 321.4M167.8 319.2L163 317.1M207.3 309.1L191.4 320.8M194.2 318.8L189.5 316.5M234.1 309.1L217.7 320.3M220.6 318.3L216 315.8M260.8 309.1L244.1 319.7M247.1 317.8L242.6 315.2M287.5 309.1L270.6 319.4M273.6 317.5L269.2 314.8M314.3 309.1L297.2 319M300.2 317.2L295.8 314.4M341 309.1L323.7 318.6M326.8 316.9L322.5 314M367.8 309.1L350.2 318.2M353.3 316.6L349.1 313.6M394.5 309.1L376.8 317.9M379.9 316.3L375.8 313.2M421.3 309.1L403.4 317.5M406.5 316L402.4 312.8M448 309.1L429.9 317.1M433.1 315.7L429.1 312.4M474.8 309.1L456.5 316.7M459.7 315.3L455.8 312M501.5 309.1L483.1 316.3M486.4 315L482.5 311.6M6.7 324.1L-5.9 339.3M-3.7 336.6L-8.8 335.5M33.4 324.1L20.2 338.8M22.5 336.2L17.5 334.8M60.2 324.1L46.3 338.2M48.8 335.7L43.8 334.2M86.9 324.1L72.5 337.6M75 335.2L70.1 333.5M113.7 324.1L98.7 337M101.3 334.7L96.5 332.8M140.4 324.1L124.9 336.4M127.6 334.2L122.9 332M167.2 324.1L151.2 335.7M154 333.6L149.3 331.3M193.9 324.1L177.4 335M180.3 333.1L175.8 330.5M220.7 324.1L203.7 334.3M206.7 332.5L202.3 329.8M247.4 324.1L230.1 333.6M233.1 331.9L228.8 329M274.2 324.1L256.5 333M259.6 331.5L255.4 328.4M300.9 324.1L283.1 332.7M286.2 331.2L282.1 328M327.7 324.1L309.7 332.3M312.9 330.8L308.8 327.6M354.4 324.1L336.2 331.9M339.5 330.5L335.4 327.2M381.2 324.1L362.8 331.6M366.1 330.2L362.1 326.8M407.9 324.1L389.4 331.2M392.7 329.9L388.8 326.4M434.7 324.1L416 330.8M419.3 329.6L415.5 326.1M461.4 324.1L442.7 330.4M446 329.3L442.2 325.7M488.2 324.1L469.3 330M472.6 329L469 325.3M514.9 324.1L495.9 329.6M499.3 328.6L495.7 324.9M20.1 334.2L5.1 347.1M7.7 344.9L2.9 342.9M46.8 334.2L31.3 346.6M34.1 344.4L29.3 342.3M73.6 334.2L57.6 346M60.5 343.9L55.8 341.6M100.3 334.2L84 345.4M86.8 343.4L82.3 340.9M127.1 334.2L110.3 344.8M113.3 342.9L108.8 340.2M153.8 334.2L136.7 344.1M139.7 342.4L135.3 339.6M180.6 334.2L163.1 343.5M166.1 341.8L161.9 338.9M207.3 334.2L189.5 342.8M192.6 341.3L188.5 338.2M234.1 334.2L215.9 342.1M219.1 340.7L215.1 337.5M260.8 334.2L242.4 341.5M245.6 340.2L241.7 336.7M287.5 334.2L269 341.2M272.3 339.9L268.4 336.5M314.3 334.2L295.7 340.9M299 339.7L295.2 336.2M341 334.2L322.3 340.6M325.6 339.5L321.9 335.9M367.8 334.2L349 340.3M352.3 339.3L348.6 335.6M394.5 334.2L375.6 340.1M379 339L375.3 335.3M421.3 334.2L402.3 339.8M405.6 338.8L402.1 335M448 334.2L429 339.5M432.3 338.6L428.8 334.7M474.8 334.2L455.6 339.2M459 338.3L455.6 334.4M501.5 334.2L482.3 338.9M485.7 338.1L482.3 334.1M6.7 343.8L-11.3 352M-8.1 350.6L-12.2 347.4M33.4 343.8L15.3 351.7M18.5 350.3L14.5 347.1M60.2 343.8L41.9 351.4M45.2 350.1L41.2 346.8M86.9 343.8L68.6 351.1M71.8 349.8L67.9 346.4M113.7 343.8L95.2 350.8M98.5 349.6L94.6 346.1M140.4 343.8L121.8 350.5M125.1 349.3L121.3 345.8M167.2 343.8L148.5 350.2M151.8 349.1L148 345.5M193.9 343.8L175.1 349.9M178.4 348.8L174.7 345.2M220.7 343.8L201.8 349.6M205.1 348.6L201.5 344.9M247.4 343.8L228.4 349.3M231.8 348.3L228.2 344.5M274.2 343.8L255.1 349M258.5 348.1L254.9 344.3M300.9 343.8L281.8 348.9M285.2 348L281.7 344.1M327.7 343.8L308.5 348.7M311.9 347.8L308.4 343.9M354.4 343.8L335.2 348.5M338.6 347.7L335.2 343.7M381.2 343.8L361.9 348.3M365.3 347.5L361.9 343.5M407.9 343.8L388.6 348.1M392 347.3L388.7 343.4M434.7 343.8L415.3 347.9M418.7 347.2L415.4 343.2M461.4 343.8L442 347.7M445.4 347L442.2 343M488.2 343.8L468.7 347.6M472.2 346.9L468.9 342.8M514.9 343.8L495.4 347.4M498.9 346.7L495.7 342.6M20.1 352.7L0.6 356.1M4 355.5L0.9 351.4M46.8 352.7L27.3 356.1M30.8 355.5L27.6 351.4M73.6 352.7L54.1 356.1M57.5 355.5L54.4 351.4M100.3 352.7L80.8 356.1M84.3 355.5L81.1 351.4M127.1 352.7L107.6 356.1M111 355.5L107.9 351.4M153.8 352.7L134.3 356.2M137.8 355.5L134.6 351.4M180.6 352.7L161.1 356.2M164.5 355.5L161.4 351.4M207.3 352.7L187.8 356.2M191.3 355.6L188.1 351.4M234.1 352.7L214.6 356.2M218 355.6L214.9 351.4M260.8 352.7L241.3 356.2M244.8 355.6L241.6 351.4M287.5 352.7L268.1 356.2M271.5 355.6L268.4 351.4M314.3 352.7L294.8 356.2M298.2 355.6L295.1 351.4M341 352.7L321.6 356.2M325 355.6L321.8 351.4M367.8 352.7L348.3 356.2M351.7 355.6L348.6 351.4M394.5 352.7L375 356.2M378.5 355.5L375.3 351.4M421.3 352.7L401.8 356.2M405.2 355.5L402.1 351.4M448 352.7L428.5 356.2M432 355.5L428.8 351.4M501.5 352.7L482 356.1M485.5 355.5L482.3 351.4M6.7 361.4L-13.1 360.4M-9.6 360.6L-11.7 355.8M33.4 361.4L13.6 360.8M17.1 360.9L14.9 356.2M60.2 361.4L40.4 361.2M43.9 361.2L41.5 356.6M86.9 361.4L67.1 361.6M70.6 361.5L68.2 356.9M113.7 361.4L93.9 362M97.4 361.9L94.9 357.3M140.4 361.4L120.7 362.4M124.2 362.2L121.5 357.7M167.2 361.4L147.4 362.7M150.9 362.5L148.2 358.1M193.9 361.4L174.2 363.1M177.7 362.8L174.9 358.4M220.7 361.4L201 363.5M204.5 363.1L201.6 358.8M20.1 369.7L0.5 366.5M4 367L2.4 362.1M46.8 369.7L27.2 367.1M30.7 367.6L28.9 362.7M73.6 369.7L53.9 367.8M57.3 368.1L55.4 363.3M100.3 369.7L80.5 368.5M84 368.7L82 363.9M127.1 369.7L107.3 369.1M110.8 369.2L108.5 364.5M153.8 369.7L134 369.8M137.5 369.8L135.1 365.2M6.7 377.8L-12.6 373.5M-9.2 374.3L-10.5 369.3M33.4 377.8L14 374.3M17.4 374.9L15.9 369.9M60.2 377.8L40.6 375M44.1 375.5L42.4 370.6M86.9 377.8L67.2 375.8M70.7 376.1L68.9 371.3M113.7 377.8L93.9 376.5M97.4 376.7L95.4 372M73.6 385.7L54 382.8M57.4 383.3L55.8 378.4M100.3 385.7L80.6 383.6M84.1 384L82.2 379.1" fill="none" stroke="#2a2a2a" stroke-width="1.1" stroke-linecap="butt"/>
</g>
<rect x="0" y="0" width="521.6" height="425.4" fill="none" stroke="#111" stroke-width="1.3"/>
<text x="-27.7" y="7.6" font-size="21.5" text-anchor="end" fill="#000" >200</text>
<text x="-27.7" y="115.3" font-size="21.5" text-anchor="end" fill="#000" >300</text>
<text x="-27.7" y="250.9" font-size="21.5" text-anchor="end" fill="#000" >500</text>
<text x="-27.7" y="340.2" font-size="21.5" text-anchor="end" fill="#000" >700</text>
<text x="-27.7" y="391.8" font-size="21.5" text-anchor="end" fill="#000" >850</text>
<text x="-27.7" y="414.2" font-size="21.5" text-anchor="end" fill="#000" >925</text>
<text x="547.5" y="35.5" font-size="20.2" text-anchor="start" fill="#000" >35</text>
<text x="547.5" y="93.2" font-size="20.2" text-anchor="start" fill="#000" >30</text>
<text x="547.5" y="150.7" font-size="20.2" text-anchor="start" fill="#000" >25</text>
<text x="547.5" y="208.8" font-size="20.2" text-anchor="start" fill="#000" >20</text>
<text x="547.5" y="266.5" font-size="20.2" text-anchor="start" fill="#000" >15</text>
<text x="547.5" y="324.2" font-size="20.2" text-anchor="start" fill="#000" >10</text>
<text x="547.5" y="381.9" font-size="20.2" text-anchor="start" fill="#000" >5</text>
<text x="547.5" y="427.4" font-size="20.2" text-anchor="start" fill="#000" >1</text>
<text x="0" y="469.7" font-size="21.5" text-anchor="middle" fill="#000" >119.2W</text>
<text x="-3.2" y="493.8" font-size="21.5" text-anchor="middle" fill="#000" >44.5N</text>
<text x="133.7" y="469.7" font-size="21.5" text-anchor="middle" fill="#000" >117.4W</text>
<text x="130.5" y="493.8" font-size="21.5" text-anchor="middle" fill="#000" >44.6N</text>
<text x="267.5" y="469.7" font-size="21.5" text-anchor="middle" fill="#000" >115.7W</text>
<text x="264.3" y="493.8" font-size="21.5" text-anchor="middle" fill="#000" >44.6N</text>
<text x="401.2" y="469.7" font-size="21.5" text-anchor="middle" fill="#000" >113.9W</text>
<text x="398" y="493.8" font-size="21.5" text-anchor="middle" fill="#000" >44.6N</text>
<path d="M-13.3 0L0 0M-13.3 107.7L0 107.7M-13.3 243.3L0 243.3M-13.3 332.6L0 332.6M-13.3 384.2L0 384.2M-13.3 406.6L0 406.6M521.6 28.3L534.9 28.3M521.6 86L534.9 86M521.6 143.5L534.9 143.5M521.6 201.6L534.9 201.6M521.6 259.3L534.9 259.3M521.6 317L534.9 317M521.6 374.7L534.9 374.7M521.6 420.2L534.9 420.2M0 425.4L0 438.7M133.7 425.4L133.7 438.7M267.5 425.4L267.5 438.7M401.2 425.4L401.2 438.7" fill="none" stroke="#111" stroke-width="1.3"/>
<text x="260.8" y="-10.7" font-size="33.4" text-anchor="middle" fill="#000" >Curtain 1 (C1)</text>
<rect x="440" y="434.1" width="81.7" height="65.3" fill="#fff" stroke="#888" stroke-width="1.2"/>
<text x="480.9" y="457" font-size="24" text-anchor="middle" fill="#000" >30 m/s</text>
<path d="M493.2 480.1L473.6 480.1" fill="none" stroke="#777" stroke-width="1.2"/>
<path d="M473.6 480.1L468.6 471.1M477.3 480.1L472.3 471.1M481 480.1L476 471.1" fill="none" stroke="#444" stroke-width="0.9"/>
</g>
<g transform="translate(925.3 253)">
<clipPath id="cp2"><rect x="0" y="0" width="531.4" height="433.3"/></clipPath>
<g clip-path="url(#cp2)">
<rect x="0" y="0" width="531.4" height="433.3" fill="#0DA6FF"/>
<path d="M-9.9 -3.3 C-2.8 -34.8 24.5 -4.5 33 -4 C41.6 -3.4 35.2 -1.3 41.3 0 C47.3 1.3 59.7 2.8 69.4 4 C79 5.2 85.9 5.7 99.1 7.3 C112.3 8.8 134.3 11.2 148.6 13.2 C162.9 15.2 175.6 17 184.9 19.2 C194.3 21.4 199.5 23.8 204.8 26.4 C210 29 215.2 31.7 216.3 34.7 C217.4 37.7 213.3 41 211.4 44.6 C209.4 48.2 207.5 52.3 204.8 56.1 C202 60 199.3 64.7 194.9 67.7 C190.5 70.7 184.4 72.4 178.3 74.3 C172.3 76.2 165.1 77.9 158.5 79.3 C151.9 80.6 144.5 81 138.7 82.6 C132.9 84.1 128 85.2 123.9 88.5 C119.7 91.8 117 97.9 113.9 102.4 C110.9 106.9 107.9 112 105.7 115.6 C103.5 119.2 99.6 121.4 100.7 123.9 C101.8 126.3 106 128.4 112.3 130.5 C118.6 132.5 128.8 134.4 138.7 136.1 C148.6 137.7 160.7 139.5 171.7 140.4 C182.7 141.2 193.8 141.6 204.8 141.4 C215.8 141.1 226.8 140 237.8 138.7 C248.8 137.4 260.9 135.4 270.8 133.8 C280.7 132.1 289.5 130.1 297.2 128.8 C304.9 127.5 308.8 126.4 317.1 126.2 C325.3 125.9 333.6 126.4 346.8 127.2 C360 127.9 377.1 129.5 396.3 130.5 C415.6 131.4 439.9 131.9 462.4 132.8 C484.9 133.6 518.2 135 531.4 135.4 C544.6 135.8 539.9 125 541.6 135.4 C543.3 145.9 543.3 187.7 541.6 198.2 C539.9 208.6 539.1 197.9 531.4 198.2 C523.7 198.4 506.9 199.2 495.4 199.8 C483.9 200.5 472.3 200.7 462.4 202.1 C452.5 203.5 444.2 206 436 208.1 C427.7 210.2 422.2 211.9 412.8 214.7 C403.5 217.4 390.8 222.1 379.8 224.6 C368.8 227.1 357.8 228.3 346.8 229.5 C335.8 230.7 324.8 231.3 313.8 231.8 C302.7 232.4 291.7 232.9 280.7 232.8 C269.7 232.7 261.5 232 247.7 231.2 C233.9 230.4 214.7 229.4 198.2 227.9 C181.6 226.3 165.1 224.1 148.6 221.9 C132.1 219.7 113.9 217.3 99.1 214.7 C84.2 212.1 71.6 209.4 59.4 206.4 C47.3 203.4 36.3 199.6 26.4 196.5 C16.5 193.4 6.1 189.5 0 187.6 C-6.1 185.7 -8.3 216.8 -9.9 184.9 C-11.6 153.1 -17.1 28.2 -9.9 -3.3Z" fill="#3B8EC2"/>
<path d="M412.8 -3.3 C385.9 -1.1 390.8 6.1 379.8 9.9 C368.8 13.8 355.9 16.5 346.8 19.8 C337.7 23.1 330.3 27 325.3 29.7 C320.4 32.5 317.6 33.9 317.1 36.3 C316.5 38.8 319.3 41.6 322 44.6 C324.8 47.6 327.8 50.6 333.6 54.5 C339.3 58.3 347.3 63.6 356.7 67.7 C366 71.8 377.6 76 389.7 79.3 C401.8 82.6 414.5 85 429.3 87.5 C444.2 90 461.9 92.2 478.9 94.1 C495.9 96.1 520.9 98.3 531.4 99.1 C541.9 99.9 539.9 116.1 541.6 99.1 C543.3 82 563.1 13.8 541.6 -3.3 C520.2 -20.4 439.8 -5.5 412.8 -3.3Z" fill="#38BCFF"/>
<path d="M541.6 8.3 C539.9 -1.5 539.1 8.3 531.4 9.9 C523.7 11.6 506.9 15.7 495.4 18.2 C483.9 20.6 472.8 22.7 462.4 24.8 C451.9 26.8 439.8 29 432.7 30.4 C425.5 31.8 419.4 30.9 419.4 33 C419.4 35.1 425.5 39.6 432.7 42.9 C439.8 46.2 451.9 49.8 462.4 52.8 C472.8 55.9 483.9 58.6 495.4 61.1 C506.9 63.6 523.7 66.4 531.4 67.7 C539.1 69 539.9 78.6 541.6 68.7 C543.3 58.8 543.3 18.1 541.6 8.3Z" fill="#40D1FF"/>
<path d="M-10 228.5 C-8.3 228.5 -12.7 226.2 0 228.5 C12.7 230.9 44 238.5 66.1 242.7 C88.1 247 110.1 251.3 132.1 254 C154.1 256.6 176.1 257.4 198.2 258.6 C220.2 259.8 242.2 260.5 264.2 261.2 C286.2 262 308.2 262.9 330.3 263.2 C352.3 263.6 374.3 263.4 396.3 263.2 C418.3 263 439.9 262.3 462.4 261.9 C484.9 261.5 518.2 260.8 531.4 260.6 C544.6 260.4 539.7 260.6 541.4 260.6 L541.4 438.3 L-10 438.3 Z" fill="#38BCFF"/>
<path d="M-10 244.7 C-8.3 244.7 -12.7 242.3 0 244.7 C12.7 247.1 44 255.2 66.1 259.3 C88.1 263.3 110.1 266.4 132.1 268.8 C154.1 271.3 176.1 272.6 198.2 274.1 C220.2 275.7 242.2 277.3 264.2 278.1 C286.2 278.9 308.2 278.9 330.3 279.1 C352.3 279.2 374.3 279.2 396.3 279.1 C418.3 279 439.9 278.6 462.4 278.4 C484.9 278.3 518.2 278.1 531.4 278.1 C544.6 278 539.7 278.1 541.4 278.1 L541.4 438.3 L-10 438.3 Z" fill="#40D1FF"/>
<path d="M-10 255.6 C-8.3 255.6 -12.7 253.1 0 255.6 C12.7 258.2 44 266.8 66.1 270.8 C88.1 274.8 110.1 277.4 132.1 279.7 C154.1 282.1 176.1 283.5 198.2 285 C220.2 286.6 242.2 287.9 264.2 289 C286.2 290 308.2 290.9 330.3 291.3 C352.3 291.7 374.3 291.3 396.3 291.6 C418.3 292 439.9 292.9 462.4 293.3 C484.9 293.7 518.2 293.8 531.4 293.9 C544.6 294 539.7 293.9 541.4 293.9 L541.4 438.3 L-10 438.3 Z" fill="#40E7FF"/>
<path d="M-10 263.9 C-8.3 263.9 -12.7 261.4 0 263.9 C12.7 266.4 44 275.2 66.1 279.1 C88.1 283 110.1 285.1 132.1 287.3 C154.1 289.5 176.1 290.9 198.2 292.3 C220.2 293.7 242.2 294.3 264.2 295.6 C286.2 296.9 308.2 298.7 330.3 299.9 C352.3 301 374.3 301.9 396.3 302.5 C418.3 303.2 439.9 303.6 462.4 303.8 C484.9 304.1 518.2 304.1 531.4 304.2 C544.6 304.2 539.7 304.2 541.4 304.2 L541.4 438.3 L-10 438.3 Z" fill="#40FCFF"/>
<path d="M-10 278.1 C-8.3 278.1 -12.7 276.1 0 278.1 C12.7 280.1 44 286.8 66.1 290 C88.1 293.2 110.1 295.2 132.1 297.2 C154.1 299.3 176.1 300.7 198.2 302.2 C220.2 303.7 242.2 305 264.2 306.5 C286.2 308 308.2 309.8 330.3 311.1 C352.3 312.4 374.3 313.4 396.3 314.1 C418.3 314.8 439.9 315.1 462.4 315.4 C484.9 315.7 518.2 315.7 531.4 315.7 C544.6 315.8 539.7 315.7 541.4 315.7 L541.4 438.3 L-10 438.3 Z" fill="#40FFDB"/>
<path d="M-10 285.7 C-8.3 285.7 -12.7 284.1 0 285.7 C12.7 287.2 44 292.1 66.1 294.9 C88.1 297.7 110.1 300.5 132.1 302.5 C154.1 304.6 176.1 305.6 198.2 307.1 C220.2 308.7 242.2 310.1 264.2 311.8 C286.2 313.4 308.2 315.5 330.3 317.1 C352.3 318.6 374.3 319.8 396.3 321 C418.3 322.2 439.9 323.5 462.4 324.3 C484.9 325.1 518.2 325.7 531.4 326 C544.6 326.2 539.7 326 541.4 326 L541.4 438.3 L-10 438.3 Z" fill="#40FFA2"/>
<path d="M-10 293.3 C-8.3 293.3 -12.7 292.2 0 293.3 C12.7 294.4 44 297.7 66.1 299.9 C88.1 302.1 110.1 304.6 132.1 306.5 C154.1 308.4 176.1 309.6 198.2 311.1 C220.2 312.7 242.2 313.9 264.2 315.7 C286.2 317.6 308.2 320 330.3 322 C352.3 324 374.3 326.1 396.3 327.6 C418.3 329.2 439.9 330.4 462.4 331.3 C484.9 332.1 518.2 332.4 531.4 332.6 C544.6 332.8 539.7 332.6 541.4 332.6 L541.4 438.3 L-10 438.3 Z" fill="#40FF4C"/>
<path d="M-10 304.2 C-8.3 304.2 -12.7 303.6 0 304.2 C12.7 304.8 44 306.5 66.1 307.8 C88.1 309.1 110.1 310.3 132.1 311.8 C154.1 313.2 176.1 314.9 198.2 316.4 C220.2 317.9 242.2 319 264.2 321 C286.2 323.1 308.2 326.1 330.3 328.6 C352.3 331.1 374.3 333.7 396.3 335.9 C418.3 338.1 439.9 340.3 462.4 341.8 C484.9 343.4 518.2 344.6 531.4 345.1 C544.6 345.7 539.7 345.1 541.4 345.1 L541.4 438.3 L-10 438.3 Z" fill="#65FF40"/>
<path d="M-5 438.3 L-5 378.2 L135.4 378.2 L135.4 383.8 L163.5 383.8 L163.5 388.1 L189.9 388.1 L189.9 393 L272.5 393 L272.5 388.7 L298.9 388.7 L298.9 384.4 L340.2 384.4 L340.2 388.1 L394.7 388.1 L394.7 393 L409.5 393 L409.5 398 L436 398 L436 403.6 L536.4 403.6 L536.4 438.3 Z" fill="#fff"/>
<path d="M6.8 26.4L-6.1 41.8M-6.1 41.8L-16 39.6M-3.9 39.1L-13.7 36.9M-1.6 36.4L-6.7 35.2M34.1 26.4L21.2 41.9M21.2 41.9L11.3 39.7M23.4 39.2L13.6 37M25.7 36.4L20.5 35.3M61.3 26.4L48.5 41.9M48.5 41.9L38.6 39.8M50.7 39.2L40.9 37M53 36.4L47.8 35.3M88.6 26.4L75.8 42M75.8 42L65.9 39.9M78 39.2L68.2 37.1M80.3 36.5L75.1 35.4M115.8 26.4L103.1 42M103.1 42L93.2 39.9M105.3 39.3L95.5 37.2M107.6 36.5L102.4 35.4M143.1 26.4L130.4 42.1M130.4 42.1L120.5 40M132.6 39.3L122.8 37.3M134.9 36.5L129.7 35.5M170.3 26.4L157.7 42.1M157.7 42.1L147.8 40.1M159.9 39.3L150 37.3M162.2 36.6L157 35.5M197.6 26.4L185 42.2M185 42.2L175.1 40.2M187.2 39.4L177.3 37.4M189.4 36.6L184.3 35.5M224.8 26.4L212.3 42.2M212.3 42.2L202.4 40.3M214.5 39.4L204.6 37.5M216.7 36.6L211.5 35.6M252.1 26.4L239.6 42.3M239.6 42.3L229.7 40.3M241.8 39.5L231.9 37.5M244 36.6L238.8 35.6M279.3 26.4L266.9 42.3M266.9 42.3L257 40.4M269.1 39.5L259.2 37.6M271.3 36.7L261.4 34.8M306.6 26.4L294.2 42.3M294.2 42.3L284.3 40.5M296.4 39.5L286.5 37.7M298.6 36.7L288.7 34.9M333.8 26.4L321.5 42.4M321.5 42.4L311.6 40.6M323.7 39.6L313.8 37.8M325.9 36.7L316 34.9M361.1 26.4L348.9 42.4M348.9 42.4L338.9 40.7M351 39.6L341.1 37.8M353.2 36.8L343.2 35M388.3 26.4L376.2 42.5M376.2 42.5L366.2 40.7M378.3 39.6L368.4 37.9M380.5 36.8L370.5 35.1M415.6 26.4L403.5 42.5M403.5 42.5L393.5 40.8M405.6 39.7L395.7 38M407.8 36.8L397.8 35.1M442.8 26.4L430.8 42.6M430.8 42.6L420.8 40.9M432.9 39.7L423 38M435 36.8L425.1 35.2M470.1 26.4L458.1 42.6M458.1 42.6L448.1 41M460.2 39.7L450.3 38.1M462.3 36.9L452.4 35.2M497.3 26.4L485.4 42.7M485.4 42.7L475.4 41.1M487.5 39.8L477.6 38.2M489.6 36.9L479.7 35.3M524.6 26.4L512.7 42.7M512.7 42.7L502.7 41.1M514.8 39.8L504.8 38.3M516.9 36.9L506.9 35.4M6.8 70.4L-6.6 85.5M-6.6 85.5L-16.4 83M-4.2 82.8L-14 80.3M-1.9 80.2L-7 78.8M34.1 70.4L20.7 85.6M20.7 85.6L10.9 83.1M23.1 82.9L13.3 80.4M25.4 80.2L20.3 78.9M61.3 70.4L48 85.6M48 85.6L38.3 83.2M50.4 82.9L40.6 80.5M52.7 80.3L47.6 79M88.6 70.4L75.4 85.7M75.4 85.7L65.6 83.3M77.7 83L67.9 80.6M80 80.3L74.9 79M115.8 70.4L102.7 85.8M102.7 85.8L92.9 83.4M105 83L95.2 80.7M107.3 80.3L102.2 79.1M143.1 70.4L130 85.8M130 85.8L120.2 83.5M132.3 83.1L122.5 80.8M134.6 80.4L129.5 79.2M170.3 70.4L157.4 85.9M157.4 85.9L147.5 83.7M159.6 83.2L149.8 80.9M161.9 80.4L156.8 79.2M197.6 70.4L184.7 86M184.7 86L174.8 83.8M187 83.2L177.1 81M189.2 80.5L184.1 79.3M224.8 70.4L212 86M212 86L202.2 83.9M214.3 83.3L204.4 81.1M216.5 80.5L211.4 79.4M252.1 70.4L239.3 86.1M239.3 86.1L229.5 84M241.6 83.3L231.7 81.2M243.8 80.5L238.7 79.4M279.3 70.4L266.7 86.1M266.7 86.1L256.8 84.1M268.9 83.4L259 81.3M271.1 80.6L266 79.5M306.6 70.4L294 86.2M294 86.2L284.1 84.2M296.2 83.4L286.3 81.4M298.4 80.6L293.2 79.6M333.8 70.4L321.3 86.2M321.3 86.2L311.4 84.3M323.5 83.4L313.6 81.5M325.7 80.7L320.5 79.6M361.1 70.4L348.6 86.3M348.6 86.3L338.7 84.4M350.8 83.5L340.9 81.6M353 80.7L347.8 79.7M388.3 70.4L375.9 86.3M375.9 86.3L366 84.5M378.1 83.5L368.2 81.7M380.3 80.7L375.1 79.7M415.6 70.4L403.3 86.4M403.3 86.4L393.3 84.6M405.4 83.6L395.5 81.7M407.6 80.8L402.4 79.8M442.8 70.4L430.6 86.5M430.6 86.5L420.6 84.7M432.7 83.6L422.8 81.8M434.9 80.8L425 79M470.1 70.4L457.9 86.5M457.9 86.5L448 84.8M460 83.7L450.1 81.9M462.2 80.8L452.3 79.1M497.3 70.4L485.2 86.6M485.2 86.6L475.3 84.8M487.4 83.7L477.4 82M489.5 80.9L479.6 79.1M524.6 70.4L512.5 86.6M512.5 86.6L502.6 84.9M514.7 83.7L504.7 82.1M516.8 80.9L506.8 79.2M6.8 114.1L-7 128.8M-7 128.8L-16.7 126M-4.6 126.2L-14.3 123.4M34.1 114.1L20.3 128.9M20.3 128.9L10.6 126.1M22.7 126.3L13 123.5M61.3 114.1L47.6 129M47.6 129L37.9 126.3M50.1 126.3L40.3 123.6M88.6 114.1L75 129M75 129L65.2 126.4M77.4 126.4L67.6 123.8M115.8 114.1L102.3 129.1M102.3 129.1L92.6 126.6M104.7 126.5L95 123.9M143.1 114.1L129.7 129.2M129.7 129.2L119.9 126.7M132 126.5L122.3 124M134.4 123.9L129.3 122.6M170.3 114.1L157 129.3M157 129.3L147.2 126.8M159.4 126.6L149.6 124.2M161.7 123.9L156.6 122.6M197.6 114.1L184.4 129.4M184.4 129.4L174.6 127M186.7 126.7L176.9 124.3M189 124L183.9 122.7M224.8 114.1L211.7 129.5M211.7 129.5L201.9 127.1M214 126.7L204.2 124.4M216.3 124L211.2 122.8M252.1 114.1L239.1 129.5M239.1 129.5L229.2 127.3M241.4 126.8L231.5 124.6M243.7 124.1L238.5 122.9M279.3 114.1L266.4 129.6M266.4 129.6L256.6 127.4M268.7 126.9L258.8 124.7M271 124.1L265.8 123M306.6 114.1L293.7 129.7M293.7 129.7L283.9 127.5M296 126.9L286.1 124.8M298.3 124.2L293.1 123M333.8 114.1L321.1 129.7M321.1 129.7L311.2 127.6M323.3 127L313.4 124.9M325.6 124.2L320.4 123.1M361.1 114.1L348.4 129.8M348.4 129.8L338.5 127.7M350.6 127L340.8 125M352.9 124.3L347.7 123.2M388.3 114.1L375.7 129.9M375.7 129.9L365.8 127.8M377.9 127.1L368.1 125.1M380.2 124.3L375 123.2M415.6 114.1L403 129.9M403 129.9L393.1 128M405.3 127.1L395.4 125.2M407.5 124.3L402.3 123.3M442.8 114.1L430.4 130M430.4 130L420.5 128.1M432.6 127.2L422.7 125.3M434.8 124.4L429.6 123.4M470.1 114.1L457.7 130M457.7 130L447.8 128.2M459.9 127.2L450 125.4M462.1 124.4L456.9 123.4M497.3 114.1L485 130.1M485 130.1L475.1 128.3M487.2 127.3L477.3 125.5M489.4 124.5L484.2 123.5M524.6 114.1L512.4 130.2M512.4 130.2L502.4 128.4M514.5 127.3L504.6 125.6M516.7 124.5L511.5 123.6M6.8 149.5L-7.4 163.8M-7.4 163.8L-17 160.8M-4.9 161.3L-14.5 158.2M34.1 149.5L20 163.9M20 163.9L10.3 160.9M22.5 161.4L12.8 158.4M61.3 149.5L47.3 164M47.3 164L37.7 161.1M49.8 161.4L40.1 158.5M88.6 149.5L74.7 164.1M74.7 164.1L65 161.3M77.1 161.5L67.5 158.7M115.8 149.5L102 164.2M102 164.2L92.3 161.5M104.5 161.6L94.8 158.8M143.1 149.5L129.4 164.3M129.4 164.3L119.7 161.6M131.8 161.7L122.1 159M170.3 149.5L156.8 164.4M156.8 164.4L147 161.8M159.2 161.8L149.4 159.2M197.6 149.5L184.1 164.5M184.1 164.5L174.4 162M186.5 161.9L176.7 159.3M224.8 149.5L211.5 164.6M211.5 164.6L201.7 162.1M213.8 161.9L204.1 159.5M252.1 149.5L238.8 164.7M238.8 164.7L229 162.3M241.2 162L231.4 159.6M243.5 159.3L238.4 158.1M279.3 149.5L266.2 164.8M266.2 164.8L256.4 162.4M268.5 162.1L258.7 159.7M270.8 159.4L265.7 158.1M306.6 149.5L293.5 164.9M293.5 164.9L283.7 162.6M295.8 162.1L286 159.9M298.1 159.4L293 158.2M333.8 149.5L320.9 164.9M320.9 164.9L311 162.7M323.2 162.2L313.3 160M325.4 159.5L320.3 158.3M361.1 149.5L348.2 165M348.2 165L338.3 162.8M350.5 162.3L340.6 160.1M352.7 159.5L347.6 158.4M388.3 149.5L375.5 165.1M375.5 165.1L365.7 162.9M377.8 162.3L367.9 160.2M380.1 159.6L374.9 158.4M415.6 149.5L402.9 165.1M402.9 165.1L393 163.1M405.1 162.4L395.2 160.3M407.4 159.6L402.2 158.5M442.8 149.5L430.2 165.2M430.2 165.2L420.3 163.2M432.4 162.4L422.6 160.4M434.7 159.6L429.5 158.6M470.1 149.5L457.5 165.3M457.5 165.3L447.6 163.3M459.8 162.5L449.9 160.5M462 159.7L456.8 158.7M497.3 149.5L484.9 165.3M484.9 165.3L475 163.4M487.1 162.5L477.2 160.6M489.3 159.7L484.1 158.7M524.6 149.5L512.2 165.4M512.2 165.4L502.3 163.5M514.4 162.6L504.5 160.7M516.6 159.8L511.4 158.8M6.8 176.9L-8.3 190.2M-8.3 190.2L-17.7 186.6M-5.6 187.9L-15 184.2M34.1 176.9L19.1 190.4M19.1 190.4L9.7 186.9M21.8 188.1L12.3 184.5M61.3 176.9L46.5 190.6M46.5 190.6L37.1 187.2M49.2 188.2L39.7 184.8M88.6 176.9L74 190.8M74 190.8L64.4 187.5M76.6 188.4L67 185.1M115.8 176.9L101.4 191M101.4 191L91.8 187.9M104 188.5L94.4 185.4M143.1 176.9L128.9 191.2M128.9 191.2L119.2 188.2M131.4 188.7L121.8 185.6M170.3 176.9L156.3 191.4M156.3 191.4L146.6 188.5M158.8 188.8L149.1 185.9M197.6 176.9L183.7 191.6M183.7 191.6L174 188.8M186.2 189L176.5 186.2M224.8 176.9L211.2 191.8M211.2 191.8L201.5 189.1M213.6 189.1L203.9 186.5M252.1 176.9L238.6 192M238.6 192L228.9 189.4M241 189.3L231.2 186.8M279.3 176.9L266 192.1M266 192.1L256.2 189.6M268.4 189.4L258.6 187M306.6 176.9L293.4 192.2M293.4 192.2L283.6 189.8M295.7 189.5L285.9 187.1M333.8 176.9L320.7 192.2M320.7 192.2L310.9 189.9M323 189.5L313.2 187.2M361.1 176.9L348 192.3M348 192.3L338.2 190M350.4 189.6L340.5 187.3M352.7 186.9L347.5 185.7M388.3 176.9L375.4 192.4M375.4 192.4L365.6 190.2M377.7 189.6L367.8 187.4M380 186.9L374.8 185.7M415.6 176.9L402.7 192.5M402.7 192.5L392.9 190.3M405 189.7L395.2 187.5M407.3 187L402.1 185.8M442.8 176.9L430.1 192.5M430.1 192.5L420.2 190.4M432.3 189.8L422.5 187.7M434.6 187L429.4 185.9M470.1 176.9L457.4 192.6M457.4 192.6L447.5 190.6M459.7 189.8L449.8 187.8M461.9 187.1L456.7 186M497.3 176.9L484.8 192.7M484.8 192.7L474.9 190.7M487 189.9L477.1 187.9M489.2 187.1L484 186.1M524.6 176.9L512.1 192.8M512.1 192.8L502.2 190.8M514.3 189.9L504.4 188M516.5 187.1L511.3 186.1M6.8 201L-9.1 213.4M-9.1 213.4L-18.3 209.1M-6.3 211.2L-11.1 208.9M34.1 201L18.3 213.7M18.3 213.7L9.1 209.6M21.1 211.4L16.3 209.3M61.3 201L45.8 214M45.8 214L36.5 210M48.6 211.7L39.3 207.8M88.6 201L73.3 214.3M73.3 214.3L64 210.5M76 211.9L66.7 208.2M115.8 201L100.8 214.6M100.8 214.6L91.4 211M103.5 212.2L94.1 208.6M143.1 201L128.4 214.8M128.4 214.8L118.9 211.4M131 212.4L121.5 209M170.3 201L155.9 215.1M155.9 215.1L146.3 211.9M158.4 212.6L148.9 209.4M197.6 201L183.4 215.4M183.4 215.4L173.8 212.4M185.9 212.8L176.3 209.8M224.8 201L210.9 215.7M210.9 215.7L201.2 212.8M213.4 213.1L203.7 210.2M252.1 201L238.5 215.9M238.5 215.9L228.7 213.3M240.9 213.3L231.1 210.6M279.3 201L265.9 216.1M265.9 216.1L256.1 213.5M268.3 213.4L258.5 210.9M306.6 201L293.2 216.2M293.2 216.2L283.5 213.7M295.6 213.5L285.8 211M333.8 201L320.6 216.2M320.6 216.2L310.8 213.8M322.9 213.6L313.1 211.1M361.1 201L347.9 216.3M347.9 216.3L338.1 214M350.2 213.6L340.4 211.3M388.3 201L375.3 216.4M375.3 216.4L365.4 214.1M377.6 213.7L367.8 211.4M415.6 201L402.6 216.5M402.6 216.5L392.8 214.3M404.9 213.8L395.1 211.5M407.2 211L402 209.9M442.8 201L430 216.6M430 216.6L420.1 214.4M432.2 213.8L422.4 211.6M434.5 211.1L429.3 209.9M470.1 201L457.3 216.6M457.3 216.6L447.4 214.5M459.6 213.9L449.7 211.8M461.8 211.1L456.6 210M497.3 201L484.7 216.7M484.7 216.7L474.8 214.7M486.9 214L477 211.9M489.1 211.2L484 210.1M524.6 201L512 216.8M512 216.8L502.1 214.8M514.2 214L504.3 212M516.5 211.2L511.3 210.2M6.8 224.1L-9.8 235.5M-9.8 235.5L-18.7 230.8M-6.8 233.5L-11.5 231M34.1 224.1L17.7 235.9M17.7 235.9L8.7 231.4M20.6 233.8L15.9 231.4M61.3 224.1L45.3 236.3M45.3 236.3L36.2 231.9M48.1 234.1L43.3 231.8M88.6 224.1L72.8 236.6M72.8 236.6L63.6 232.5M75.6 234.4L70.7 232.2M115.8 224.1L100.3 237M100.3 237L91 233M103.1 234.7L98.2 232.6M143.1 224.1L127.9 237.3M127.9 237.3L118.5 233.6M130.5 235L121.2 231.2M170.3 224.1L155.4 237.7M155.4 237.7L146 234.1M158 235.3L148.6 231.7M197.6 224.1L183 238M183 238L173.4 234.7M185.5 235.5L176 232.2M224.8 224.1L210.5 238.3M210.5 238.3L200.9 235.2M213.1 235.8L203.5 232.7M252.1 224.1L238.1 238.6M238.1 238.6L228.4 235.7M240.6 236.1L230.9 233.2M279.3 224.1L265.6 238.8M265.6 238.8L255.9 236.1M268 236.2L258.3 233.5M306.6 224.1L292.9 238.9M292.9 238.9L283.2 236.3M295.4 236.3L285.6 233.6M333.8 224.1L320.3 239M320.3 239L310.6 236.5M322.7 236.4L313 233.8M361.1 224.1L347.7 239.2M347.7 239.2L337.9 236.6M350 236.5L340.3 234M388.3 224.1L375 239.3M375 239.3L365.3 236.8M377.4 236.6L367.6 234.1M415.6 224.1L402.4 239.4M402.4 239.4L392.6 237M404.7 236.7L394.9 234.3M442.8 224.1L429.8 239.5M429.8 239.5L420 237.2M432.1 236.7L422.3 234.5M434.4 234L429.2 232.8M470.1 224.1L457.2 239.6M457.2 239.6L447.3 237.4M459.4 236.8L449.6 234.6M461.7 234.1L456.6 232.9M497.3 224.1L484.5 239.7M484.5 239.7L474.7 237.5M486.8 236.9L476.9 234.8M489.1 234.2L483.9 233M524.6 224.1L511.9 239.8M511.9 239.8L502 237.7M514.1 237L504.3 234.9M516.4 234.2L511.2 233.1M6.8 244.5L-10.3 255.2M-10.3 255.2L-19 250.1M-7.3 253.3L-11.8 250.6M34.1 244.5L17.2 255.7M17.2 255.7L8.4 250.7M20.2 253.7L15.6 251.1M61.3 244.5L44.8 256.1M44.8 256.1L35.9 251.3M47.7 254L43 251.6M88.6 244.5L72.3 256.5M72.3 256.5L63.3 252M75.2 254.4L70.4 252M115.8 244.5L99.9 256.9M99.9 256.9L90.7 252.6M102.7 254.7L97.9 252.5M143.1 244.5L127.4 257.3M127.4 257.3L118.2 253.2M130.2 255L125.3 252.9M170.3 244.5L155 257.7M155 257.7L145.7 253.9M157.7 255.3L152.8 253.3M197.6 244.5L182.6 258M182.6 258L173.2 254.5M185.2 255.7L175.8 252.1M224.8 244.5L210.2 258.4M210.2 258.4L200.7 255.1M212.8 256L203.3 252.6M252.1 244.5L237.8 258.8M237.8 258.8L228.2 255.7M240.3 256.3L230.7 253.2M279.3 244.5L265.3 259M265.3 259L255.6 256.1M267.8 256.5L258.1 253.5M306.6 244.5L292.7 259.1M292.7 259.1L283 256.3M295.1 256.6L285.5 253.7M333.8 244.5L320.1 259.3M320.1 259.3L310.4 256.5M322.5 256.7L312.8 253.9M361.1 244.5L347.4 259.4M347.4 259.4L337.7 256.7M349.9 256.8L340.1 254.1M388.3 244.5L374.8 259.5M374.8 259.5L365.1 257M377.2 256.9L367.5 254.3M415.6 244.5L402.2 259.7M402.2 259.7L392.5 257.2M404.6 257L394.8 254.5M442.8 244.5L429.6 259.8M429.6 259.8L419.8 257.4M432 257.1L422.2 254.7M470.1 244.5L457 259.9M457 259.9L447.2 257.6M459.3 257.2L449.5 254.9M497.3 244.5L484.4 260M484.4 260L474.6 257.8M486.7 257.3L476.9 255.1M489 254.6L483.8 253.4M524.6 244.5L511.8 260.2M511.8 260.2L502 258M514.1 257.4L504.2 255.3M516.3 254.6L511.2 253.5M6.8 262.8L-10.5 273.2M-10.5 273.2L-19.1 267.9M-7.4 271.4L-11.9 268.6M34.1 262.8L17 273.6M17 273.6L8.3 268.5M20 271.7L15.5 269M61.3 262.8L44.5 274.1M44.5 274.1L35.7 269.2M47.5 272.1L42.9 269.5M88.6 262.8L72.1 274.5M72.1 274.5L63.1 269.8M75 272.4L70.3 270M115.8 262.8L99.6 274.9M99.6 274.9L90.6 270.4M102.5 272.8L97.7 270.4M143.1 262.8L127.2 275.3M127.2 275.3L118 271.1M130 273.1L125.2 270.9M170.3 262.8L154.8 275.7M154.8 275.7L145.5 271.7M157.5 273.4L152.6 271.3M197.6 262.8L182.3 276.1M182.3 276.1L173 272.3M185 273.7L180.1 271.8M224.8 262.8L209.9 276.4M209.9 276.4L200.5 272.9M212.6 274L207.6 272.2M252.1 262.8L237.5 276.8M237.5 276.8L228 273.5M240.1 274.3L235.1 272.6M279.3 262.8L265 277.1M265 277.1L255.4 274M267.5 274.6L262.5 272.9M306.6 262.8L292.4 277.2M292.4 277.2L282.8 274.2M294.9 274.7L289.9 273.1M333.8 262.8L319.8 277.4M319.8 277.4L310.2 274.5M322.3 274.8L317.2 273.3M361.1 262.8L347.2 277.5M347.2 277.5L337.6 274.7M349.7 274.9L340 272.1M388.3 262.8L374.7 277.7M374.7 277.7L364.9 275M377.1 275.1L367.4 272.4M415.6 262.8L402.1 277.8M402.1 277.8L392.3 275.2M404.5 275.2L394.7 272.6M442.8 262.8L429.5 278M429.5 278L419.7 275.5M431.8 275.3L422.1 272.8M470.1 262.8L456.9 278.1M456.9 278.1L447.1 275.7M459.2 275.4L449.4 273M497.3 262.8L484.3 278.3M484.3 278.3L474.5 276M486.6 275.5L476.8 273.3M524.6 262.8L511.7 278.4M511.7 278.4L501.9 276.2M514 275.7L504.2 273.5M6.8 283.5L-10.6 293.6M-10.6 293.6L-19.1 288.2M34.1 283.5L16.9 294.1M16.9 294.1L8.2 288.8M61.3 283.5L44.4 294.5M44.4 294.5L35.6 289.5M88.6 283.5L71.9 294.9M71.9 294.9L63 290.1M115.8 283.5L99.4 295.3M99.4 295.3L90.5 290.7M143.1 283.5L127 295.7M127 295.7L117.9 291.3M170.3 283.5L154.5 296.1M154.5 296.1L145.3 291.9M197.6 283.5L182.1 296.4M182.1 296.4L172.8 292.5M184.8 294.2L179.9 292.1M224.8 283.5L209.7 296.8M209.7 296.8L200.3 293.1M212.3 294.5L207.4 292.5M252.1 283.5L237.2 297.2M237.2 297.2L227.8 293.7M239.9 294.8L234.9 292.9M279.3 283.5L264.7 297.4M264.7 297.4L255.2 294.1M267.3 295L262.3 293.3M306.6 283.5L292.2 297.6M292.2 297.6L282.6 294.4M294.7 295.1L289.7 293.5M333.8 283.5L319.6 297.8M319.6 297.8L310 294.7M322.1 295.3L317.1 293.7M361.1 283.5L347 298M347 298L337.4 295M349.5 295.4L344.4 293.9M388.3 283.5L374.5 298.2M374.5 298.2L364.8 295.3M376.9 295.6L371.8 294.1M415.6 283.5L401.9 298.3M401.9 298.3L392.2 295.6M404.3 295.7L399.2 294.3M442.8 283.5L429.3 298.5M429.3 298.5L419.6 295.9M431.7 295.9L422 293.3M470.1 283.5L456.8 298.7M456.8 298.7L447 296.2M459.1 296L449.3 293.5M497.3 283.5L484.2 298.8M484.2 298.8L474.4 296.5M486.5 296.1L476.7 293.8M524.6 283.5L511.7 299M511.7 299L501.8 296.8M513.9 296.3L504.1 294.1M6.8 299.2L-10.7 309.1M-7.6 307.4L-12.1 304.5M34.1 299.2L16.8 309.5M19.8 307.7L15.3 304.9M61.3 299.2L44.3 309.9M47.3 308L42.7 305.3M88.6 299.2L71.8 310.3M74.7 308.4L70.1 305.8M115.8 299.2L99.3 310.7M102.2 308.7L97.5 306.2M143.1 299.2L126.8 311.1M129.7 309L124.9 306.6M170.3 299.2L154.4 311.5M154.4 311.5L145.2 307.2M197.6 299.2L181.9 311.9M181.9 311.9L172.7 307.8M224.8 299.2L209.5 312.2M209.5 312.2L200.1 308.4M252.1 299.2L237 312.6M237 312.6L227.6 309M279.3 299.2L264.5 312.9M264.5 312.9L255 309.4M306.6 299.2L292 313.1M294.5 310.6L289.5 308.9M333.8 299.2L319.4 313.3M322 310.8L316.9 309.1M361.1 299.2L346.9 313.5M346.9 313.5L337.2 310.4M349.4 310.9L344.3 309.3M388.3 299.2L374.3 313.7M374.3 313.7L364.7 310.7M376.8 311.1L371.7 309.6M415.6 299.2L401.8 313.9M401.8 313.9L392.1 311.1M404.2 311.3L399.1 309.8M442.8 299.2L429.2 314.1M429.2 314.1L419.5 311.4M431.6 311.4L426.5 310M470.1 299.2L456.7 314.2M456.7 314.2L446.9 311.7M459 311.6L453.9 310.3M497.3 299.2L484.1 314.4M484.1 314.4L474.3 312M486.5 311.7L481.3 310.5M524.6 299.2L511.6 314.6M511.6 314.6L501.8 312.4M513.9 311.9L508.7 310.7M20.4 314.8L1.9 322.9M5.2 321.5L1.1 318.1M47.7 314.8L29.4 323.4M32.7 321.9L28.5 318.6M74.9 314.8L56.9 323.9M60.1 322.3L55.8 319.1M102.2 314.8L84.4 324.4M87.6 322.7L83.2 319.7M129.4 314.8L111.9 324.8M115 323.1L110.6 320.2M156.7 314.8L139.5 325.3M142.5 323.4L138 320.7M183.9 314.8L167 325.8M170 323.8L165.4 321.2M211.2 314.8L194.6 326.2M197.5 324.2L192.8 321.7M238.4 314.8L222.1 326.7M225 324.6L220.3 322.2M265.7 314.8L249.7 327.1M252.5 324.9L247.7 322.7M293 314.8L277.1 327.3M279.9 325.1L275.1 322.9M320.2 314.8L304.6 327.6M307.3 325.3L302.5 323.2M347.5 314.8L332 327.8M334.7 325.5L329.9 323.5M374.7 314.8L359.5 328M362.2 325.7L357.2 323.7M402 314.8L386.9 328.3M389.6 325.9L384.6 324M429.2 314.8L414.4 328.5M417 326.1L412 324.2M456.5 314.8L441.8 328.7M444.4 326.3L439.4 324.5M483.7 314.8L469.3 328.9M471.8 326.4L466.8 324.8M511 314.8L496.8 329.1M499.3 326.6L494.2 325M6.8 330.1L-12.6 335.7M-9.1 334.7L-12.8 330.8M34.1 330.1L14.8 336.2M18.2 335.1L14.5 331.3M61.3 330.1L42.2 336.7M45.6 335.5L41.8 331.8M88.6 330.1L69.7 337.1M73 335.9L69.1 332.3M115.8 330.1L97.1 337.6M100.4 336.3L96.4 332.8M143.1 330.1L124.6 338.1M127.8 336.7L123.7 333.3M170.3 330.1L152 338.6M155.3 337.1L151.1 333.8M197.6 330.1L179.5 339M182.7 337.5L178.4 334.3M224.8 330.1L207 339.5M210.1 337.8L205.8 334.8M252.1 330.1L234.5 339.9M237.6 338.2L233.2 335.3M279.3 330.1L261.9 340.3M265 338.5L260.5 335.7M306.6 330.1L289.4 340.6M292.4 338.7L287.9 336M333.8 330.1L316.8 340.9M319.8 339L315.2 336.3M361.1 330.1L344.2 341.1M347.2 339.2L342.6 336.6M388.3 330.1L371.6 341.4M374.6 339.4L369.9 336.9M415.6 330.1L399.1 341.7M402 339.6L397.3 337.1M442.8 330.1L426.5 341.9M429.4 339.8L424.7 337.4M470.1 330.1L453.9 342.2M456.8 340L452 337.7M497.3 330.1L481.4 342.4M484.2 340.2L479.4 338M524.6 330.1L508.8 342.7M511.6 340.5L506.8 338.3M20.4 340.4L0.8 345M4.3 344.2L0.8 340.2M47.7 340.4L28.1 345.4M31.6 344.5L28.1 340.6M74.9 340.4L55.5 345.8M58.9 344.9L55.3 341M102.2 340.4L82.9 346.2M86.3 345.2L82.6 341.4M129.4 340.4L110.3 346.6M113.6 345.5L109.9 341.8M156.7 340.4L137.6 347M141 345.9L137.2 342.2M183.9 340.4L165 347.4M168.4 346.2L164.5 342.6M211.2 340.4L192.4 347.8M195.8 346.5L191.8 343M238.4 340.4L219.9 348.2M223.1 346.9L219.1 343.5M265.7 340.4L247.3 348.6M250.5 347.2L246.4 343.9M293 340.4L274.7 348.9M277.9 347.4L273.7 344.2M320.2 340.4L302.1 349.2M305.3 347.7L301 344.5M347.5 340.4L329.5 349.5M332.6 347.9L328.4 344.8M374.7 340.4L356.9 349.8M360 348.2L355.7 345.1M402 340.4L384.3 350.1M387.4 348.4L383 345.4M429.2 340.4L411.7 350.4M414.8 348.6L410.3 345.8M456.5 340.4L439.1 350.7M442.2 348.9L437.7 346.1M483.7 340.4L466.5 351M469.6 349.1L465 346.4M511 340.4L494 351.3M497 349.4L492.4 346.7M6.8 350.1L-13.1 353.2M-9.6 352.7L-12.7 348.4M34.1 350.1L14.2 353.6M17.7 353L14.5 348.7M61.3 350.1L41.5 353.9M45 353.3L41.7 349.1M88.6 350.1L68.8 354.3M72.3 353.5L69 349.4M115.8 350.1L96.1 354.6M99.6 353.8L96.2 349.8M143.1 350.1L123.5 355M126.9 354.1L123.5 350.1M170.3 350.1L150.8 355.3M154.3 354.4L150.7 350.5M197.6 350.1L178.2 355.6M181.6 354.7L178 350.8M224.8 350.1L205.5 356M208.9 355L205.2 351.1M252.1 350.1L232.9 356.3M236.3 355.2L232.5 351.5M279.3 350.1L260.2 356.7M263.6 355.5L259.8 351.8M306.6 350.1L287.6 357M291 355.8L287.1 352.2M333.8 350.1L315 357.3M318.3 356.1L314.4 352.5M361.1 350.1L342.4 357.7M345.7 356.3L341.7 352.9M388.3 350.1L369.7 358M373 356.6L369 353.2M415.6 350.1L397.1 358.3M400.4 356.9L396.3 353.5M442.8 350.1L424.5 358.6M427.8 357.1L423.6 353.9M470.1 350.1L451.9 359M455.1 357.4L450.9 354.2M497.3 350.1L479.3 359.3M482.5 357.7L478.2 354.6M524.6 350.1L506.8 359.6M509.9 357.9L505.6 354.9M20.4 359.3L0.3 360.8M3.9 360.5L1.1 356M47.7 359.3L27.6 361.1M31.2 360.8L28.3 356.3M74.9 359.3L54.9 361.5M58.4 361.1L55.5 356.7M102.2 359.3L82.2 361.8M85.7 361.3L82.7 357M129.4 359.3L109.5 362.1M113 361.6L109.9 357.3M156.7 359.3L136.8 362.4M140.3 361.9L137.2 357.6M183.9 359.3L164.1 362.7M167.6 362.1L164.4 357.9M211.2 359.3L191.4 363.1M194.9 362.4L191.6 358.2M238.4 359.3L218.7 363.4M222.2 362.7L218.9 358.5M265.7 359.3L246 363.7M249.5 362.9L246.1 358.9M293 359.3L273.4 364.1M276.8 363.2L273.3 359.2M320.2 359.3L300.7 364.5M304.2 363.5L300.6 359.6M347.5 359.3L328.1 364.8M331.5 363.9L327.9 360M374.7 359.3L355.4 365.2M358.8 364.2L355.1 360.4M402 359.3L382.8 365.6M386.2 364.5L382.4 360.8M429.2 359.3L410.2 366M413.6 364.8L409.7 361.2M456.5 359.3L437.6 366.4M440.9 365.1L437 361.5M483.7 359.3L465 366.7M468.3 365.4L464.3 361.9M511 359.3L492.4 367.1M495.7 365.7L491.6 362.3M6.8 368.1L-13.4 367.8M-9.8 367.8L-12.1 363.1M34.1 368.1L13.9 368.1M17.5 368.1L15 363.4M61.3 368.1L41.1 368.4M44.7 368.4L42.2 363.7M88.6 368.1L68.4 368.7M72 368.6L69.4 364M115.8 368.1L95.7 369.1M99.2 368.9L96.6 364.3M143.1 368.1L122.9 369.4M126.5 369.2L123.8 364.6M170.3 368.1L150.2 369.7M153.8 369.4L151 364.9M197.6 368.1L177.5 370M181 369.7L178.2 365.2M224.8 368.1L204.8 370.3M208.3 369.9L205.4 365.5M252.1 368.1L232.1 370.7M235.6 370.2L232.6 365.8M279.3 368.1L259.4 371M262.9 370.5L259.8 366.2M306.6 368.1L286.7 371.5M290.2 370.9L287 366.6M333.8 368.1L314 371.9M317.5 371.2L314.3 367M361.1 368.1L341.4 372.3M344.8 371.6L341.5 367.5M388.3 368.1L368.7 372.7M372.2 371.9L368.7 367.9M415.6 368.1L396.1 373.2M399.5 372.3L396 368.3M442.8 368.1L423.4 373.6M426.9 372.6L423.2 368.7M470.1 368.1L450.8 374M454.2 372.9L450.5 369.1M497.3 368.1L478.2 374.4M481.6 373.3L477.8 369.6M524.6 368.1L505.6 374.8M508.9 373.6L505.1 370M20.4 376.6L0.3 376M3.8 376.1L1.5 371.4M47.7 376.6L27.5 376.2M31.1 376.3L28.7 371.6M74.9 376.6L54.8 376.5M58.3 376.5L55.9 371.8M102.2 376.6L82 376.7M85.6 376.6L83.1 371.9M129.4 376.6L109.3 376.9M112.8 376.8L110.4 372.1M156.7 376.6L136.5 377.1M140.1 377L137.6 372.3M183.9 376.6L163.8 377.3M167.3 377.2L164.8 372.5M211.2 376.6L191 377.5M194.6 377.3L192 372.7M238.4 376.6L218.3 377.7M221.9 377.5L219.2 372.9M265.7 376.6L245.6 377.9M249.1 377.7L246.4 373.1M293 376.6L272.9 378.3M276.4 378L273.6 373.6M320.2 376.6L300.2 378.8M303.7 378.4L300.8 374M347.5 376.6L327.5 379.3M331 378.8L328 374.4M374.7 376.6L354.8 379.7M358.3 379.2L355.2 374.9M402 376.6L382.1 380.2M385.6 379.5L382.4 375.3M429.2 376.6L409.4 380.6M412.9 379.9L409.6 375.8M456.5 376.6L436.8 381.1M440.3 380.3L436.9 376.2M483.7 376.6L464.1 381.5M467.6 380.6L464.1 376.7M511 376.6L491.5 382M495 381L491.4 377.1M170.3 384.9L150.1 385.1M153.7 385L151.2 380.3M197.6 384.9L177.4 385.2M181 385.1L178.5 380.5M224.8 384.9L204.7 385.4M208.2 385.3L205.7 380.6M252.1 384.9L231.9 385.5M235.5 385.4L232.9 380.8M279.3 384.9L259.2 385.8M262.7 385.6L260.1 381M306.6 384.9L286.4 386.2M290 386L287.3 381.4M333.8 384.9L313.7 386.6M317.3 386.3L314.5 381.8M361.1 384.9L341 387M344.6 386.6L341.7 382.2M388.3 384.9L368.3 387.4M371.9 387L368.9 382.6M415.6 384.9L395.6 387.9M399.2 387.3L396.1 383M442.8 384.9L423 388.3M426.5 387.7L423.3 383.4M470.1 384.9L450.3 388.7M453.8 388L450.5 383.8M497.3 384.9L477.6 389.1M481.1 388.4L477.7 384.3M524.6 384.9L505 389.5M508.4 388.7L505 384.7M211.2 392.9L191 393.3M194.6 393.2L192.1 388.6M238.4 392.9L218.3 393.5M221.8 393.4L219.3 388.7M265.7 392.9L245.5 393.6M249.1 393.5L246.5 388.8M402 392.9L381.9 395.3M385.5 394.8L382.5 390.5M429.2 392.9L409.2 395.6M412.8 395.1L409.7 390.8M456.5 392.9L436.5 395.9M440 395.4L436.9 391.1M483.7 392.9L463.8 396.3M467.3 395.7L464.2 391.4M511 392.9L491.1 396.6M494.6 395.9L491.4 391.7M442.8 400.7L422.8 403.3M426.4 402.8L423.4 398.4M470.1 400.7L450.1 403.5M453.6 403L450.6 398.7M497.3 400.7L477.4 403.8M480.9 403.3L477.8 399M524.6 400.7L504.7 404.1M508.2 403.5L505 399.3" fill="none" stroke="#2a2a2a" stroke-width="1.2" stroke-linecap="butt"/>
</g>
<rect x="0" y="0" width="531.4" height="433.3" fill="none" stroke="#111" stroke-width="1.3"/>
<text x="-28.2" y="7.7" font-size="21.9" text-anchor="end" fill="#000" >200</text>
<text x="-28.2" y="117.4" font-size="21.9" text-anchor="end" fill="#000" >300</text>
<text x="-28.2" y="255.5" font-size="21.9" text-anchor="end" fill="#000" >500</text>
<text x="-28.2" y="346.5" font-size="21.9" text-anchor="end" fill="#000" >700</text>
<text x="-28.2" y="399" font-size="21.9" text-anchor="end" fill="#000" >850</text>
<text x="-28.2" y="421.9" font-size="21.9" text-anchor="end" fill="#000" >925</text>
<text x="557.8" y="36.1" font-size="20.6" text-anchor="start" fill="#000" >35</text>
<text x="557.8" y="94.9" font-size="20.6" text-anchor="start" fill="#000" >30</text>
<text x="557.8" y="153.5" font-size="20.6" text-anchor="start" fill="#000" >25</text>
<text x="557.8" y="212.7" font-size="20.6" text-anchor="start" fill="#000" >20</text>
<text x="557.8" y="271.4" font-size="20.6" text-anchor="start" fill="#000" >15</text>
<text x="557.8" y="330.2" font-size="20.6" text-anchor="start" fill="#000" >10</text>
<text x="557.8" y="389" font-size="20.6" text-anchor="start" fill="#000" >5</text>
<text x="557.8" y="435.3" font-size="20.6" text-anchor="start" fill="#000" >1</text>
<text x="0" y="478.4" font-size="21.9" text-anchor="middle" fill="#000" >117.0W</text>
<text x="-3.3" y="503" font-size="21.9" text-anchor="middle" fill="#000" >40.1N</text>
<text x="136.3" y="478.4" font-size="21.9" text-anchor="middle" fill="#000" >117.0W</text>
<text x="133" y="503" font-size="21.9" text-anchor="middle" fill="#000" >41.7N</text>
<text x="272.5" y="478.4" font-size="21.9" text-anchor="middle" fill="#000" >117.0W</text>
<text x="269.3" y="503" font-size="21.9" text-anchor="middle" fill="#000" >43.3N</text>
<text x="408.8" y="478.4" font-size="21.9" text-anchor="middle" fill="#000" >117.0W</text>
<text x="405.5" y="503" font-size="21.9" text-anchor="middle" fill="#000" >44.9N</text>
<path d="M-13.6 0L0 0M-13.6 109.7L0 109.7M-13.6 247.8L0 247.8M-13.6 338.8L0 338.8M-13.6 391.3L0 391.3M-13.6 414.2L0 414.2M531.4 28.8L545 28.8M531.4 87.6L545 87.6M531.4 146.2L545 146.2M531.4 205.3L545 205.3M531.4 264.1L545 264.1M531.4 322.9L545 322.9M531.4 381.7L545 381.7M531.4 428L545 428M0 433.3L0 446.9M136.3 433.3L136.3 446.9M272.5 433.3L272.5 446.9M408.8 433.3L408.8 446.9" fill="none" stroke="#111" stroke-width="1.3"/>
<text x="265.7" y="-10.9" font-size="34" text-anchor="middle" fill="#000" >Curtain 2 (C2)</text>
<rect x="448.3" y="442.2" width="83.2" height="66.5" fill="#fff" stroke="#888" stroke-width="1.2"/>
<text x="489.9" y="465.5" font-size="24.5" text-anchor="middle" fill="#000" >30 m/s</text>
<path d="M502.5 489L482.5 489" fill="none" stroke="#777" stroke-width="1.2"/>
<path d="M482.5 489L477.4 479.9M486.3 489L481.2 479.9M490 489L484.9 479.9" fill="none" stroke="#444" stroke-width="0.9"/>
</g>
<g transform="translate(256.8 953)">
<clipPath id="cp3"><rect x="0" y="0" width="521.6" height="425.4"/></clipPath>
<g clip-path="url(#cp3)">
<rect x="0" y="0" width="521.6" height="425.4" fill="#0DA6FF"/>
<path d="M-9.7 -3.2 C17.3 -27.7 123.7 -4.4 152.4 -3.9 C181 -3.3 158.3 -1.3 162.1 0 C165.9 1.3 170.7 2.8 175.1 3.9 C179.4 5 179.4 5.8 188 6.5 C196.7 7.2 212.3 7.1 226.9 8.1 C241.5 9.1 262 11 275.6 12.3 C289.1 13.7 299.9 14.5 308 16.2 C316.1 17.9 320.1 20 324.2 22.7 C328.2 25.4 330.1 28.1 332.3 32.4 C334.4 36.7 335.8 42.1 337.1 48.6 C338.5 55.1 338.8 64.8 340.4 71.3 C342 77.8 343.6 82.7 346.9 87.5 C350.1 92.4 355 97 359.8 100.5 C364.7 104 368.5 106.7 376 108.6 C383.6 110.5 395 111 405.2 111.8 C415.5 112.7 426.8 112.1 437.6 113.5 C448.4 114.8 459.3 117.8 470.1 119.9 C480.9 122.1 493.9 124.3 502.5 126.4 C511.1 128.6 516.7 131.6 521.6 132.9 C526.5 134.3 530 116.4 531.6 134.5 C533.3 152.6 533.3 223.7 531.6 241.5 C530 259.3 529.2 241.5 521.6 241.5 C514 241.5 497.6 241.8 486.3 241.5 C475 241.2 464.7 240.7 453.8 239.9 C443 239.1 432.2 237.8 421.4 236.6 C410.6 235.5 398.7 234.4 389 232.8 C379.3 231.1 371.2 229.5 363.1 226.9 C355 224.3 346.9 219.9 340.4 217.2 C333.9 214.5 332.3 212.3 324.2 210.7 C316.1 209.1 302.6 208.3 291.8 207.5 C281 206.7 270.1 206.4 259.3 205.9 C248.5 205.3 237.7 205 226.9 204.2 C216.1 203.4 205.3 202.3 194.5 201 C183.7 199.6 172.9 197.7 162.1 196.1 C151.3 194.5 139.4 192.9 129.7 191.3 C119.9 189.6 111.3 188.8 103.7 186.4 C96.2 184 89.7 180.2 84.3 176.7 C78.9 173.2 75.6 168.8 71.3 165.3 C67 161.8 64.8 158.3 58.4 155.6 C51.9 152.9 42.1 151 32.4 149.1 C22.7 147.2 7 145.3 0 144.3 C-7 143.2 -8.1 167.2 -9.7 142.6 C-11.3 118.1 -36.7 21.2 -9.7 -3.2Z" fill="#3B8EC2"/>
<path d="M531.6 5.8 C530 -1.5 525.9 6.1 521.6 6.5 C517.3 6.9 511.1 6.2 505.7 8.1 C500.4 10 493.8 14.3 489.5 17.8 C485.2 21.3 480.3 25.4 479.8 29.2 C479.2 33 482.5 37.3 486.3 40.5 C490 43.8 496.6 47 502.5 48.6 C508.4 50.2 516.7 50 521.6 50.2 C526.5 50.5 530 57.6 531.6 50.2 C533.3 42.8 533.3 13.1 531.6 5.8Z" fill="#38BCFF"/>
<path d="M-10 220.4 C-8.3 220.4 -12.5 219.1 0 220.4 C12.5 221.8 43.2 226.8 64.8 228.5 C86.4 230.3 108.1 230.4 129.7 230.8 C151.3 231.2 176.1 230.8 194.5 230.8 C212.9 230.8 229.9 228.8 239.9 230.8 C249.9 232.9 249.6 242.6 254.5 243.1 C259.3 243.7 260.2 235.9 269.1 234.1 C278 232.2 296.1 230.7 308 231.8 C319.9 232.9 329.6 237.5 340.4 240.5 C351.2 243.6 362 247.7 372.8 250.3 C383.6 252.9 394.4 254.5 405.2 256.1 C416 257.7 426.8 258.6 437.6 260 C448.4 261.3 456.1 262.6 470.1 264.2 C484 265.8 511.3 268.8 521.6 269.7 C531.9 270.6 529.9 269.7 531.6 269.7 L531.6 430.4 L-10 430.4 Z" fill="#38BCFF"/>
<path d="M-10 239.9 C-8.3 239.9 -12.5 239.2 0 239.9 C12.5 240.5 43.2 242.4 64.8 243.8 C86.4 245.1 108.1 246.6 129.7 248 C151.3 249.4 172.9 250.4 194.5 252.2 C216.1 254 243.1 258.4 259.3 259 C275.6 259.7 281 256.6 291.8 256.1 C302.6 255.6 313.4 255 324.2 256.1 C335 257.2 345.8 260.4 356.6 262.6 C367.4 264.7 378.2 267.2 389 269.1 C399.8 271 410.6 272.6 421.4 273.9 C432.2 275.3 443 276.3 453.8 277.2 C464.7 278.1 475 278.6 486.3 279.4 C497.6 280.3 514 281.6 521.6 282 C529.2 282.5 529.9 282 531.6 282 L531.6 430.4 L-10 430.4 Z" fill="#40D1FF"/>
<path d="M-10 250.3 C-8.3 250.3 -12.5 249.8 0 250.3 C12.5 250.7 43.2 251.8 64.8 252.9 C86.4 253.9 108.1 255.2 129.7 256.7 C151.3 258.3 172.9 259.9 194.5 261.9 C216.1 263.9 243.1 267.8 259.3 268.7 C275.6 269.7 281 267.7 291.8 267.4 C302.6 267.2 313.4 266.4 324.2 267.4 C335 268.5 345.8 271.8 356.6 273.9 C367.4 276.1 378.2 278.5 389 280.4 C399.8 282.3 410.6 283.8 421.4 285.3 C432.2 286.7 443 288.1 453.8 289.2 C464.7 290.2 475 291.1 486.3 291.8 C497.6 292.5 514 293.1 521.6 293.4 C529.2 293.6 529.9 293.4 531.6 293.4 L531.6 430.4 L-10 430.4 Z" fill="#40E7FF"/>
<path d="M-10 257.7 C-8.3 257.7 -12.5 257.3 0 257.7 C12.5 258.1 43.2 258.9 64.8 260 C86.4 261.1 108.1 262.6 129.7 264.2 C151.3 265.8 172.9 267.6 194.5 269.7 C216.1 271.8 243.1 275.9 259.3 276.8 C275.6 277.8 281 275.7 291.8 275.6 C302.6 275.4 313.4 274.8 324.2 276.2 C335 277.5 345.8 281.3 356.6 283.7 C367.4 286 378.2 288.1 389 290.1 C399.8 292.1 410.6 294 421.4 295.6 C432.2 297.3 443 298.6 453.8 299.9 C464.7 301.1 475 302.3 486.3 303.1 C497.6 303.9 514 304.5 521.6 304.7 C529.2 305 529.9 304.7 531.6 304.7 L531.6 430.4 L-10 430.4 Z" fill="#40FCFF"/>
<path d="M-10 267.4 C-8.3 267.4 -12.5 266.9 0 267.4 C12.5 268 43.2 269.3 64.8 270.7 C86.4 272 108.1 273.7 129.7 275.6 C151.3 277.4 172.9 279.7 194.5 282 C216.1 284.4 243.1 289.3 259.3 289.8 C275.6 290.4 283.7 286.6 291.8 285.3 C299.9 284 302.6 282 308 282 C313.4 282 316.1 282.6 324.2 285.3 C332.3 288 345.8 294.5 356.6 298.2 C367.4 302 378.2 305 389 308 C399.8 310.9 410.6 313.6 421.4 316.1 C432.2 318.5 443 320.7 453.8 322.6 C464.7 324.4 475 326.1 486.3 327.4 C497.6 328.8 514 330.1 521.6 330.7 C529.2 331.2 529.9 330.7 531.6 330.7 L531.6 430.4 L-10 430.4 Z" fill="#40FFDB"/>
<path d="M-10 283.7 C-8.3 283.7 -7.1 284.2 0 283.7 C7.1 283.1 21.6 281 32.4 280.4 C43.2 279.9 54 279.6 64.8 280.4 C75.6 281.2 86.4 283.4 97.3 285.3 C108.1 287.2 113.5 289.9 129.7 291.8 C145.9 293.6 172.9 295.6 194.5 296.6 C216.1 297.6 243.1 298.7 259.3 297.9 C275.6 297.1 283.7 293.3 291.8 291.8 C299.9 290.2 302.6 288.5 308 288.5 C313.4 288.5 316.1 288.8 324.2 291.8 C332.3 294.7 345.8 302.3 356.6 306.3 C367.4 310.4 378.2 313.1 389 316.1 C399.8 319 410.6 321.7 421.4 324.2 C432.2 326.6 443 328.8 453.8 330.7 C464.7 332.6 475 334.2 486.3 335.5 C497.6 336.9 514 338.2 521.6 338.8 C529.2 339.3 529.9 338.8 531.6 338.8 L531.6 430.4 L-10 430.4 Z" fill="#40FFA2"/>
<path d="M-10 303.1 C-8.3 303.1 -9.8 301.6 0 303.1 C9.8 304.6 35.1 308.7 48.6 312.2 C62.1 315.7 71.3 320 81 324.2 C90.8 328.3 100.5 333.8 107 337.1 C113.5 340.5 116.2 344.3 119.9 344.3 C123.7 344.3 125.3 341 129.7 337.1 C134 333.3 140.5 324.8 145.9 320.9 C151.3 317 154 316 162.1 313.8 C170.2 311.6 183.7 309.5 194.5 308 C205.3 306.5 216.1 305.6 226.9 304.7 C237.7 303.9 248.5 304.3 259.3 302.8 C270.1 301.3 283.7 297.4 291.8 295.6 C299.9 293.9 302.6 292.2 308 292.4 C313.4 292.6 316.1 293.5 324.2 296.6 C332.3 299.8 345.8 307.2 356.6 311.2 C367.4 315.3 378.2 318 389 320.9 C399.8 323.9 410.6 326.6 421.4 329 C432.2 331.5 443 333.6 453.8 335.5 C464.7 337.4 475 338.9 486.3 340.4 C497.6 341.8 514 343.6 521.6 344.3 C529.2 344.9 529.9 344.3 531.6 344.3 L531.6 430.4 L-10 430.4 Z" fill="#40FF4C"/>
<path d="M-6.5 333.3 L0 333.3 L16.2 344.6 L32.4 356.6 L48.6 371.2 L48.6 427.9 L-6.5 427.9Z" fill="#65FF40"/>
<path d="M134.2 427.9 C68 418.7 132.8 385.2 134.2 372.8 C135.6 360.4 139.3 358.2 142.6 353.4 C145.9 348.5 149.4 346.6 154 343.6 C158.6 340.7 163.4 338.2 170.2 335.5 C176.9 332.8 185.1 329.8 194.5 327.4 C204 325 216 322.9 226.9 320.9 C237.9 318.9 249.5 317.6 260.3 315.4 C271.1 313.3 283.8 310 291.8 308 C299.7 305.9 302.6 303.4 308 303.1 C313.4 302.8 316.1 303.6 324.2 306.3 C332.3 309 345.8 315.5 356.6 319.3 C367.4 323.1 378.2 326.1 389 329 C399.8 332 410.6 335 421.4 337.1 C432.2 339.3 443 340.4 453.8 342 C464.7 343.6 475 345.5 486.3 346.9 C497.6 348.2 514 349.5 521.6 350.1 C529.2 350.8 530 337.8 531.6 350.8 C533.3 363.7 597.9 415.1 531.6 427.9 C465.4 440.8 200.4 437.1 134.2 427.9Z" fill="#65FF40"/>
<path d="M398.7 372.8 C400.4 370.5 403.1 367 408.5 365.7 C413.9 364.3 423.6 364.1 431.2 364.7 C438.7 365.3 450.1 367.1 453.8 369.6 C457.6 372 463 377.7 453.8 379.3 C444.7 380.9 407.9 380.4 398.7 379.3 C389.6 378.2 397.1 375.1 398.7 372.8Z" fill="#90FF40"/>
<path d="M-5 430.4 L-5 364.7 L13 364.7 L13 372.2 L132.9 372.2 L132.9 377.7 L160.5 377.7 L160.5 382.5 L186.4 382.5 L186.4 377.7 L200.3 377.7 L200.3 372.2 L214 372.2 L214 364.1 L239.9 364.1 L239.9 355.9 L333.9 355.9 L333.9 364.7 L389 364.7 L389 372.2 L427.9 372.2 L427.9 377.7 L455.5 377.7 L455.5 382.5 L496 382.5 L496 387.4 L526.6 387.4 L526.6 430.4 Z" fill="#fff"/>
<path d="M6.7 25.9L-8.4 38.7M-8.4 38.7L-17.6 34.9M-5.8 36.4L-14.9 32.6M-3.1 34.2L-12.2 30.4M33.4 25.9L18.5 38.9M18.5 38.9L9.3 35.2M21.1 36.6L11.9 32.9M23.8 34.3L14.6 30.6M60.2 25.9L45.4 39.1M45.4 39.1L36.2 35.5M48 36.7L38.8 33.2M50.6 34.4L41.4 30.8M86.9 25.9L72.3 39.2M72.3 39.2L63 35.8M74.9 36.9L65.6 33.4M77.5 34.5L72.6 32.7M113.7 25.9L99.2 39.4M99.2 39.4L89.9 36.1M101.8 37L92.5 33.7M104.3 34.6L99.4 32.9M140.4 25.9L126.1 39.6M126.1 39.6L116.8 36.4M128.7 37.2L119.3 34M131.2 34.8L126.3 33.1M167.2 25.9L153.1 39.8M153.1 39.8L143.7 36.7M155.6 37.3L146.2 34.2M158 34.9L153.1 33.2M193.9 25.9L180 40M180 40L170.5 37M182.4 37.5L173 34.5M184.9 35L180 33.4M220.7 25.9L206.9 40.1M206.9 40.1L197.4 37.3M209.3 37.6L199.9 34.7M211.8 35.1L206.8 33.6M247.4 25.9L233.8 40.3M233.8 40.3L224.3 37.5M236.2 37.8L226.7 35M238.6 35.2L233.6 33.8M274.2 25.9L260.7 40.5M260.7 40.5L251.2 37.8M263.1 37.9L253.6 35.2M300.9 25.9L287.7 40.6M287.7 40.6L278.1 38.1M290 38L280.4 35.5M327.7 25.9L314.6 40.7M314.6 40.7L305 38.3M316.9 38.1L307.3 35.7M354.4 25.9L341.5 40.9M341.5 40.9L331.9 38.6M343.8 38.2L334.1 35.9M381.2 25.9L368.4 41M368.4 41L358.7 38.8M370.6 38.4L361 36.1M407.9 25.9L395.3 41.2M395.3 41.2L385.6 39M397.5 38.5L387.9 36.3M434.7 25.9L422.2 41.3M422.2 41.3L412.5 39.3M424.4 38.6L414.7 36.6M461.4 25.9L449.1 41.4M449.1 41.4L439.4 39.5M451.3 38.7L446.2 37.7M488.2 25.9L476 41.6M476 41.6L466.3 39.7M478.2 38.8L473.1 37.8M514.9 25.9L503 41.7M503 41.7L493.2 40M505.1 38.9L499.9 38M6.7 69.1L-8.8 81.5M-8.8 81.5L-17.8 77.4M-6.1 79.3L-15.1 75.2M-3.3 77.1L-8.1 75M33.4 69.1L18.1 81.6M18.1 81.6L9 77.6M20.8 79.4L11.7 75.4M23.5 77.2L18.7 75.1M60.2 69.1L45 81.8M45 81.8L35.8 77.9M47.6 79.6L38.5 75.7M50.3 77.3L45.6 75.3M86.9 69.1L71.8 82M71.8 82L62.7 78.2M74.5 79.7L65.4 75.9M77.2 77.4L72.4 75.5M113.7 69.1L98.7 82.1M98.7 82.1L89.5 78.5M101.4 79.8L92.2 76.2M104 77.5L99.2 75.6M140.4 69.1L125.6 82.3M125.6 82.3L116.4 78.7M128.3 80L119 76.4M130.9 77.7L126 75.8M167.2 69.1L152.5 82.5M152.5 82.5L143.3 79M155.1 80.1L145.9 76.7M157.7 77.8L152.8 75.9M193.9 69.1L179.4 82.6M179.4 82.6L170.1 79.3M182 80.3L172.7 76.9M184.6 77.9L179.7 76.1M220.7 69.1L206.3 82.8M206.3 82.8L197 79.5M208.9 80.4L199.5 77.1M247.4 69.1L233.2 83M233.2 83L223.9 79.8M235.7 80.5L226.4 77.4M274.2 69.1L260.1 83.1M260.1 83.1L250.7 80.1M262.6 80.7L253.2 77.6M300.9 69.1L287.1 83.3M287.1 83.3L277.6 80.3M289.5 80.8L280.1 77.8M327.7 69.1L314 83.4M314 83.4L304.5 80.6M316.4 80.9L306.9 78.1M354.4 69.1L340.9 83.6M340.9 83.6L331.4 80.9M343.3 81L333.8 78.3M381.2 69.1L367.8 83.7M367.8 83.7L358.2 81.1M370.2 81.2L360.6 78.6M407.9 69.1L394.7 83.9M394.7 83.9L385.1 81.4M397 81.3L387.5 78.8M434.7 69.1L421.6 84M421.6 84L412 81.7M423.9 81.4L414.3 79M461.4 69.1L448.5 84.2M448.5 84.2L438.9 81.9M450.8 81.5L445.8 80.3M488.2 69.1L475.5 84.3M475.5 84.3L465.8 82.2M477.7 81.7L472.6 80.5M514.9 69.1L502.4 84.5M502.4 84.5L492.7 82.4M504.6 81.8L499.5 80.7M6.7 112L-9.2 123.9M-9.2 123.9L-18.1 119.5M-6.4 121.8L-15.3 117.4M-3.6 119.7L-8.2 117.4M33.4 112L17.7 124M17.7 124L8.7 119.8M20.5 121.9L11.5 117.6M23.2 119.8L18.6 117.5M60.2 112L44.5 124.2M44.5 124.2L35.6 120M47.3 122L38.3 117.9M50.1 119.9L45.4 117.7M86.9 112L71.4 124.3M71.4 124.3L62.4 120.3M74.2 122.2L65.1 118.1M113.7 112L98.3 124.5M98.3 124.5L89.2 120.5M101 122.3L92 118.3M140.4 112L125.2 124.7M125.2 124.7L116.1 120.7M127.9 122.4L118.8 118.5M167.2 112L152 124.8M152 124.8L142.9 121M154.7 122.5L145.6 118.7M193.9 112L178.9 125M178.9 125L169.7 121.2M181.6 122.7L172.4 118.9M220.7 112L205.8 125.1M205.8 125.1L196.6 121.5M208.4 122.8L199.2 119.2M247.4 112L232.7 125.3M232.7 125.3L223.4 121.7M235.3 122.9L226 119.4M274.2 112L259.6 125.4M259.6 125.4L250.3 122M262.2 123.1L252.9 119.6M300.9 112L286.5 125.6M286.5 125.6L277.2 122.3M289 123.2L279.7 119.9M327.7 112L313.4 125.8M313.4 125.8L304 122.5M315.9 123.3L306.6 120.1M354.4 112L340.3 125.9M340.3 125.9L330.9 122.8M342.8 123.5L333.4 120.4M381.2 112L367.2 126.1M367.2 126.1L357.8 123.1M369.7 123.6L360.3 120.6M407.9 112L394.1 126.3M394.1 126.3L384.7 123.4M396.6 123.8L387.1 120.9M434.7 112L421.1 126.4M421.1 126.4L411.6 123.7M423.5 123.9L414 121.1M461.4 112L448 126.6M448 126.6L438.4 123.9M450.4 124L445.3 122.6M488.2 112L474.9 126.8M474.9 126.8L465.3 124.2M477.3 124.2L472.2 122.8M514.9 112L501.8 126.9M501.8 126.9L492.2 124.5M504.1 124.3L499.1 123M6.7 146.8L-9.5 158.2M-9.5 158.2L-18.3 153.6M-6.6 156.2L-15.4 151.6M33.4 146.8L17.4 158.3M17.4 158.3L8.6 153.8M20.2 156.3L11.4 151.8M60.2 146.8L44.2 158.5M44.2 158.5L35.4 154.1M47 156.4L38.2 152M86.9 146.8L71.1 158.6M71.1 158.6L62.2 154.3M73.9 156.5L65 152.2M113.7 146.8L97.9 158.8M97.9 158.8L89 154.5M100.7 156.6L91.8 152.4M140.4 146.8L124.8 158.9M124.8 158.9L115.8 154.7M127.6 156.8L118.6 152.6M167.2 146.8L151.7 159M151.7 159L142.6 155M154.4 156.9L145.4 152.8M193.9 146.8L178.5 159.2M178.5 159.2L169.5 155.2M181.2 157L172.2 153M220.7 146.8L205.4 159.3M205.4 159.3L196.3 155.4M208.1 157.1L199 153.2M247.4 146.8L232.2 159.5M232.2 159.5L223.1 155.6M234.9 157.2L225.8 153.4M274.2 146.8L259.1 159.6M259.1 159.6L250 155.9M261.8 157.4L252.6 153.6M300.9 146.8L286 159.8M286 159.8L276.8 156.2M288.7 157.5L279.5 153.9M327.7 146.8L313 160M313 160L303.7 156.5M315.6 157.7L306.3 154.1M354.4 146.8L339.9 160.2M339.9 160.2L330.6 156.8M342.4 157.8L333.1 154.4M381.2 146.8L366.8 160.4M366.8 160.4L357.4 157.1M369.3 158L360 154.7M407.9 146.8L393.7 160.5M393.7 160.5L384.3 157.4M396.2 158.1L386.8 154.9M434.7 146.8L420.6 160.7M420.6 160.7L411.2 157.7M423.1 158.2L413.7 155.2M461.4 146.8L447.5 160.9M447.5 160.9L438.1 158M450 158.4L445 156.8M488.2 146.8L474.5 161.1M474.5 161.1L465 158.2M476.9 158.5L471.9 157.1M514.9 146.8L501.4 161.2M501.4 161.2L491.9 158.5M503.8 158.7L498.8 157.3M6.7 173.7L-10 184.3M-10 184.3L-18.6 179.2M-7.1 182.4L-15.6 177.4M33.4 173.7L16.8 184.4M16.8 184.4L8.2 179.5M19.7 182.5L11.2 177.6M60.2 173.7L43.7 184.6M43.7 184.6L35 179.8M46.6 182.7L38 177.8M86.9 173.7L70.5 184.8M70.5 184.8L61.9 180M73.4 182.8L64.7 178.1M113.7 173.7L97.4 184.9M97.4 184.9L88.7 180.3M100.3 183L91.5 178.3M140.4 173.7L124.3 185.1M124.3 185.1L115.5 180.5M127.1 183.1L118.3 178.5M167.2 173.7L151.1 185.3M151.1 185.3L142.3 180.8M154 183.2L145.1 178.7M193.9 173.7L178 185.4M178 185.4L169.1 181M180.8 183.4L171.9 179M220.7 173.7L204.9 185.6M204.9 185.6L196 181.3M207.7 183.5L198.7 179.2M247.4 173.7L231.7 185.8M231.7 185.8L222.8 181.5M234.5 183.6L225.6 179.4M274.2 173.7L258.6 185.9M258.6 185.9L249.6 181.8M261.4 183.8L252.4 179.7M300.9 173.7L285.5 186.1M285.5 186.1L276.5 182.1M288.3 183.9L279.2 179.9M327.7 173.7L312.4 186.3M312.4 186.3L303.3 182.4M315.1 184.1L306 180.2M354.4 173.7L339.3 186.5M339.3 186.5L330.2 182.8M342 184.3L332.9 180.5M381.2 173.7L366.3 186.7M366.3 186.7L357.1 183.1M368.9 184.4L359.7 180.8M407.9 173.7L393.2 186.9M393.2 186.9L383.9 183.4M395.8 184.6L386.5 181M434.7 173.7L420.1 187.1M420.1 187.1L410.8 183.7M422.7 184.7L413.4 181.3M461.4 173.7L447 187.3M447 187.3L437.7 184M449.6 184.9L444.7 183.1M488.2 173.7L473.9 187.4M473.9 187.4L464.6 184.3M476.4 185L471.5 183.3M514.9 173.7L500.9 187.6M500.9 187.6L491.4 184.6M503.3 185.2L498.4 183.5M6.7 197.4L-10.5 207.1M-10.5 207.1L-18.8 201.7M-7.5 205.4L-11.8 202.5M33.4 197.4L16.3 207.3M16.3 207.3L8 202M19.3 205.6L11 200.2M60.2 197.4L43.2 207.5M43.2 207.5L34.8 202.3M46.2 205.7L37.8 200.5M86.9 197.4L70 207.7M70 207.7L61.6 202.6M73 205.9L64.6 200.7M113.7 197.4L96.9 207.9M96.9 207.9L88.4 202.9M99.9 206L91.4 201M140.4 197.4L123.8 208.1M123.8 208.1L115.2 203.1M126.7 206.2L118.2 201.3M167.2 197.4L150.7 208.3M150.7 208.3L142 203.4M153.6 206.4L145 201.5M193.9 197.4L177.5 208.5M177.5 208.5L168.9 203.7M180.4 206.5L171.7 201.8M220.7 197.4L204.4 208.7M204.4 208.7L195.7 204M207.3 206.7L202.7 204.2M247.4 197.4L231.3 208.9M231.3 208.9L222.5 204.3M234.1 206.8L229.5 204.4M274.2 197.4L258.2 209.1M258.2 209.1L249.3 204.6M261 207L256.4 204.7M300.9 197.4L285.1 209.3M285.1 209.3L276.2 204.9M287.9 207.2L283.2 204.9M327.7 197.4L312 209.5M312 209.5L303 205.2M314.8 207.3L310.1 205.1M354.4 197.4L338.9 209.6M338.9 209.6L329.9 205.5M341.6 207.5L336.9 205.3M381.2 197.4L365.8 209.8M365.8 209.8L356.7 205.9M368.5 207.6L363.8 205.5M407.9 197.4L392.7 210M392.7 210L383.6 206.2M395.4 207.8L386.3 203.9M434.7 197.4L419.6 210.2M419.6 210.2L410.5 206.5M422.3 208L413.1 204.2M461.4 197.4L446.5 210.4M446.5 210.4L437.3 206.8M449.2 208.1L444.3 206.2M488.2 197.4L473.4 210.6M473.4 210.6L464.2 207.1M476 208.3L471.2 206.4M514.9 197.4L500.4 210.8M500.4 210.8L491.1 207.4M502.9 208.4L498 206.6M6.7 220L-11 228.9M-11 228.9L-19 223.1M-7.9 227.3L-12.1 224.3M33.4 220L15.9 229.1M15.9 229.1L7.8 223.4M19 227.5L14.7 224.5M60.2 220L42.7 229.4M42.7 229.4L34.6 223.7M45.8 227.7L41.5 224.8M86.9 220L69.6 229.6M69.6 229.6L61.4 224.1M72.7 227.9L68.4 225M113.7 220L96.5 229.8M96.5 229.8L88.2 224.4M99.5 228.1L95.2 225.2M140.4 220L123.4 230M123.4 230L115 224.7M126.4 228.3L122 225.5M167.2 220L150.2 230.2M150.2 230.2L141.8 225.1M153.2 228.4L148.8 225.7M193.9 220L177.1 230.5M177.1 230.5L168.6 225.4M180.1 228.6L175.6 225.9M220.7 220L204 230.7M204 230.7L195.4 225.7M207 228.8L202.5 226.2M247.4 220L230.9 230.9M230.9 230.9L222.3 226M233.8 229L229.3 226.4M274.2 220L257.8 231.1M257.8 231.1L249.1 226.4M260.7 229.1L256.1 226.6M300.9 220L284.7 231.3M284.7 231.3L275.9 226.7M287.5 229.3L283 226.9M327.7 220L311.6 231.5M311.6 231.5L302.8 227M314.4 229.5L309.8 227.1M354.4 220L338.5 231.7M338.5 231.7L329.6 227.3M341.3 229.6L336.6 227.3M381.2 220L365.4 231.9M365.4 231.9L356.5 227.6M368.2 229.8L363.5 227.6M407.9 220L392.3 232.1M392.3 232.1L383.3 227.9M395 230L390.3 227.8M434.7 220L419.2 232.3M419.2 232.3L410.1 228.2M421.9 230.1L412.9 226.1M461.4 220L446.1 232.5M446.1 232.5L437 228.6M448.8 230.3L439.7 226.3M488.2 220L473 232.7M473 232.7L463.9 228.9M475.7 230.5L466.5 226.6M514.9 220L499.9 232.9M499.9 232.9L490.7 229.2M502.6 230.6L493.4 226.9M6.7 240.1L-11.5 248M-11.5 248L-19.1 241.8M-8.2 246.6L-12.3 243.3M33.4 240.1L15.4 248.3M15.4 248.3L7.6 242.2M18.6 246.8L14.5 243.6M60.2 240.1L42.3 248.6M42.3 248.6L34.4 242.6M45.5 247.1L41.3 243.9M86.9 240.1L69.2 248.8M69.2 248.8L61.2 243M72.3 247.3L68.1 244.2M113.7 240.1L96.1 249.1M96.1 249.1L88 243.3M99.2 247.5L95 244.5M140.4 240.1L123 249.4M123 249.4L114.8 243.7M126 247.7L121.8 244.8M167.2 240.1L149.8 249.7M149.8 249.7L141.6 244.1M152.9 248L148.6 245.1M193.9 240.1L176.7 249.9M176.7 249.9L168.4 244.5M179.8 248.2L175.4 245.3M220.7 240.1L203.6 250.2M203.6 250.2L195.3 244.9M206.7 248.4L202.3 245.6M247.4 240.1L230.6 250.4M230.6 250.4L222.1 245.3M233.5 248.6L229.1 245.9M274.2 240.1L257.5 250.7M257.5 250.7L248.9 245.7M260.4 248.8L255.9 246.2M300.9 240.1L284.4 250.9M284.4 250.9L275.7 246M287.3 249L282.8 246.4M327.7 240.1L311.3 251.1M311.3 251.1L302.6 246.4M314.2 249.2L309.6 246.7M354.4 240.1L338.2 251.4M338.2 251.4L329.4 246.7M341 249.4L336.4 246.9M381.2 240.1L365.1 251.6M365.1 251.6L356.3 247.1M367.9 249.6L363.3 247.2M407.9 240.1L392 251.8M392 251.8L383.1 247.4M394.8 249.7L390.1 247.4M434.7 240.1L418.9 252M418.9 252L410 247.7M421.7 249.9L417 247.7M461.4 240.1L445.8 252.3M445.8 252.3L436.8 248.1M448.6 250.1L439.6 245.9M488.2 240.1L472.7 252.5M472.7 252.5L463.7 248.4M475.4 250.3L466.4 246.2M514.9 240.1L499.6 252.7M499.6 252.7L490.5 248.8M502.3 250.5L493.2 246.5M6.7 258.1L-11.8 265M-11.8 265L-19.2 258.4M33.4 258.1L15 265.4M15 265.4L7.6 258.9M18.3 264.1L14.4 260.7M60.2 258.1L41.9 265.7M41.9 265.7L34.3 259.3M45.2 264.4L41.2 261M86.9 258.1L68.8 266M68.8 266L61.1 259.8M72 264.6L68 261.4M113.7 258.1L95.7 266.4M95.7 266.4L87.9 260.3M98.9 264.9L94.8 261.7M140.4 258.1L122.6 266.7M122.6 266.7L114.7 260.8M125.8 265.2L121.6 262.1M167.2 258.1L149.5 267.1M149.5 267.1L141.5 261.3M152.7 265.5L148.4 262.4M193.9 258.1L176.5 267.4M176.5 267.4L168.3 261.7M179.6 265.7L175.3 262.8M220.7 258.1L203.4 267.7M203.4 267.7L195.1 262.2M206.4 266L202.1 263.1M247.4 258.1L230.3 268M230.3 268L222 262.7M274.2 258.1L257.2 268.3M257.2 268.3L248.8 263.1M300.9 258.1L284.1 268.6M284.1 268.6L275.6 263.5M327.7 258.1L311.1 268.8M311.1 268.8L302.5 263.9M354.4 258.1L338 269.1M338 269.1L329.3 264.3M340.9 267.1L336.3 264.6M381.2 258.1L364.9 269.3M364.9 269.3L356.2 264.7M367.8 267.3L363.2 264.9M407.9 258.1L391.8 269.6M391.8 269.6L383 265M394.7 267.5L390 265.1M434.7 258.1L418.7 269.8M418.7 269.8L409.9 265.4M421.5 267.7L416.9 265.4M461.4 258.1L445.7 270M445.7 270L436.7 265.8M448.4 267.9L443.8 265.7M488.2 258.1L472.6 270.3M472.6 270.3L463.6 266.1M475.3 268.1L470.6 265.9M514.9 258.1L499.5 270.5M499.5 270.5L490.5 266.5M502.2 268.3L497.5 266.2M6.7 278.4L-12.4 283.8M-12.4 283.8L-19.1 276.6M33.4 278.4L14.5 284.3M14.5 284.3L7.6 277.2M60.2 278.4L41.4 284.7M41.4 284.7L34.3 277.9M86.9 278.4L68.4 285.2M68.4 285.2L61.1 278.5M113.7 278.4L95.3 285.7M95.3 285.7L87.8 279.1M140.4 278.4L122.2 286.1M122.2 286.1L114.6 279.8M167.2 278.4L149.2 286.6M149.2 286.6L141.4 280.4M193.9 278.4L176.1 287M176.1 287L168.2 281.1M220.7 278.4L203.1 287.4M203.1 287.4L195 281.7M247.4 278.4L230.1 287.9M233.1 286.2L228.8 283.3M274.2 278.4L257 288.2M260 286.5L255.7 283.7M300.9 278.4L283.9 288.5M286.9 286.7L282.5 284M327.7 278.4L310.8 288.8M313.8 286.9L309.4 284.3M354.4 278.4L337.8 289.1M337.8 289.1L329.2 284.1M381.2 278.4L364.7 289.3M364.7 289.3L356 284.5M407.9 278.4L391.6 289.6M391.6 289.6L382.9 284.9M434.7 278.4L418.6 289.9M418.6 289.9L409.8 285.3M461.4 278.4L445.5 290.1M445.5 290.1L436.6 285.7M448.3 288L443.7 285.7M488.2 278.4L472.4 290.4M472.4 290.4L463.5 286.2M475.2 288.3L470.5 286M514.9 278.4L499.4 290.6M499.4 290.6L490.4 286.6M502.1 288.5L497.4 286.3M6.7 293.7L-12.8 297.3M-9.4 296.6L-12.5 292.5M33.4 293.7L14.1 297.9M17.5 297.2L14.2 293.1M60.2 293.7L41 298.5M44.4 297.7L40.9 293.8M86.9 293.7L67.9 299.2M71.3 298.2L67.7 294.4M113.7 293.7L94.8 299.8M98.2 298.7L94.5 295.1M140.4 293.7L121.8 300.4M125.1 299.3L121.3 295.7M167.2 293.7L148.8 301.1M148.8 301.1L141.3 294.6M193.9 293.7L175.8 301.7M179 300.3L175 297M220.7 293.7L202.8 302.3M206 300.8L201.8 297.6M247.4 293.7L229.9 302.9M233 301.2L228.7 298.2M274.2 293.7L256.8 303.3M259.9 301.6L255.6 298.7M300.9 293.7L283.8 303.6M286.8 301.9L282.4 299M327.7 293.7L310.7 303.9M313.7 302.1L309.3 299.3M354.4 293.7L337.6 304.2M340.6 302.3L336.1 299.7M381.2 293.7L364.5 304.5M367.5 302.6L363 300M407.9 293.7L391.5 304.8M394.4 302.8L389.8 300.3M434.7 293.7L418.4 305.1M421.3 303.1L416.7 300.6M461.4 293.7L445.4 305.3M445.4 305.3L436.6 300.9M488.2 293.7L472.3 305.6M472.3 305.6L463.4 301.3M514.9 293.7L499.3 305.9M499.3 305.9L490.3 301.7M20.1 309.1L0.3 310.5M3.8 310.2L1.1 305.8M46.8 309.1L27.1 311.2M30.6 310.8L27.7 306.5M73.6 309.1L54 311.9M57.4 311.4L54.4 307.2M100.3 309.1L80.8 312.6M84.3 312L81.1 307.9M127.1 309.1L107.7 313.4M111.1 312.6L107.8 308.6M153.8 309.1L134.6 314.1M138 313.2L134.6 309.3M180.6 309.1L161.6 314.8M164.9 313.8L161.3 310M207.3 309.1L188.6 315.5M191.9 314.3L188.1 310.7M234.1 309.1L215.6 316.2M218.8 314.9L215 311.4M260.8 309.1L242.6 316.8M245.8 315.5L241.8 312.1M287.5 309.1L269.5 317.3M272.7 315.8L268.6 312.6M314.3 309.1L296.5 317.8M299.6 316.2L295.5 313.1M341 309.1L323.5 318.2M326.6 316.6L322.3 313.6M367.8 309.1L350.5 318.7M353.5 317L349.2 314.1M394.5 309.1L377.5 319.1M380.5 317.3L376.1 314.5M421.3 309.1L404.5 319.5M407.4 317.7L403 315M448 309.1L431.5 319.9M434.4 318L429.9 315.5M474.8 309.1L458.5 320.4M461.4 318.4L456.8 315.9M501.5 309.1L485.6 320.8M488.4 318.7L483.7 316.4M6.7 324.1L-13.1 323.8M-9.6 323.8L-11.9 319.2M33.4 324.1L13.6 324.3M17.1 324.3L14.7 319.7M60.2 324.1L40.4 324.9M43.9 324.8L41.3 320.2M86.9 324.1L67.2 325.5M70.7 325.2L68 320.8M113.7 324.1L94 326.1M97.5 325.7L94.6 321.3M140.4 324.1L120.8 326.6M124.3 326.2L121.3 321.9M167.2 324.1L147.6 327.2M151.1 326.6L148 322.5M193.9 324.1L174.5 327.8M177.9 327.1L174.7 323M220.7 324.1L201.3 328.3M204.8 327.6L201.4 323.6M247.4 324.1L228.2 328.9M231.6 328L228.2 324.1M274.2 324.1L255.1 329.5M258.5 328.6L254.9 324.8M300.9 324.1L282.1 330.3M285.4 329.2L281.7 325.5M327.7 324.1L309.1 331M312.4 329.7L308.6 326.2M354.4 324.1L336.1 331.7M339.4 330.3L335.4 327M381.2 324.1L363.2 332.4M366.4 330.9L362.3 327.7M407.9 324.1L390.3 333M393.4 331.4L389.2 328.4M434.7 324.1L417.4 333.7M420.4 332L416.1 329.1M461.4 324.1L444.5 334.3M447.5 332.5L443.1 329.8M488.2 324.1L471.6 335M474.6 333.1L470 330.5M514.9 324.1L498.8 335.6M501.7 333.6L497 331.2M20.1 334.2L0.3 333.2M3.8 333.4L1.6 328.6M46.8 334.2L27 333.5M30.5 333.6L28.3 328.9M73.6 334.2L53.8 333.8M57.3 333.9L55 329.2M100.3 334.2L80.5 334.2M84 334.2L81.6 329.5M127.1 334.2L107.3 334.5M110.8 334.4L108.3 329.8M153.8 334.2L134 334.8M137.5 334.7L135 330.1M180.6 334.2L160.8 335.1M164.3 335L161.7 330.4M207.3 334.2L187.5 335.4M191 335.2L188.4 330.8M234.1 334.2L214.3 335.8M217.8 335.5L215.1 331.1M260.8 334.2L241.1 336.1M244.6 335.8L241.8 331.4M287.5 334.2L268 337.1M271.4 336.6L268.4 332.4M314.3 334.2L294.9 338.2M298.3 337.5L295.1 333.4M341 334.2L321.9 339.2M325.3 338.3L321.8 334.5M367.8 334.2L348.9 340.2M352.3 339.2L348.6 335.5M394.5 334.2L376 341.2M379.3 340L375.4 336.5M421.3 334.2L403.2 342.2M406.4 340.8L402.3 337.5M448 334.2L430.4 343.2M433.5 341.6L429.3 338.6M474.8 334.2L457.7 344.1M460.7 342.4L456.3 339.6M501.5 334.2L485 345M487.9 343.1L483.4 340.5M6.7 343.8L-13 341.9M-9.5 342.3L-11.5 337.4M33.4 343.8L13.7 342.1M17.2 342.4L15.2 337.6M60.2 343.8L40.4 342.2M43.9 342.5L41.9 337.7M86.9 343.8L67.2 342.4M70.7 342.6L68.6 337.8M113.7 343.8L93.9 342.5M97.4 342.7L95.3 338M140.4 343.8L120.7 342.6M124.2 342.8L122 338.1M167.2 343.8L147.4 342.8M150.9 343L148.8 338.2M193.9 343.8L174.1 342.9M177.6 343.1L175.5 338.4M220.7 343.8L200.9 343.1M204.4 343.2L202.2 338.5M247.4 343.8L227.6 343.2M231.1 343.3L228.9 338.6M274.2 343.8L254.4 343.9M257.9 343.8L255.5 339.2M300.9 343.8L281.2 345M284.7 344.8L282 340.3M327.7 343.8L308 346.2M311.5 345.7L308.6 341.4M354.4 343.8L334.9 347.3M338.4 346.7L335.2 342.6M381.2 343.8L361.9 348.4M365.3 347.6L361.9 343.7M407.9 343.8L389 349.6M392.3 348.5L388.7 344.8M434.7 343.8L416.1 350.6M419.4 349.4L415.5 345.9M461.4 343.8L443.3 351.7M446.5 350.3L442.5 347M488.2 343.8L470.5 352.8M473.6 351.2L469.4 348.1M514.9 343.8L497.8 353.8M500.9 352L496.5 349.2M20.1 352.7L0.4 350.6M3.9 351L2 346.1M46.8 352.7L27.1 350.6M30.6 351L28.7 346.2M73.6 352.7L53.9 350.7M57.3 351L55.5 346.2M100.3 352.7L80.6 350.7M84.1 351.1L82.2 346.2M127.1 352.7L107.3 350.8M110.8 351.1L108.9 346.3M153.8 352.7L134.1 350.8M137.6 351.2L135.6 346.3M180.6 352.7L160.8 350.9M164.3 351.2L162.4 346.4M207.3 352.7L187.6 351M191.1 351.3L189.1 346.4M234.1 352.7L214.3 351M217.8 351.3L215.8 346.5M260.8 352.7L241.1 351.1M244.6 351.3L242.6 346.5M287.5 352.7L267.8 352M271.3 352.1L269 347.4M314.3 352.7L294.5 353M298 352.9L295.6 348.3M341 352.7L321.3 353.9M324.8 353.7L322.1 349.2M367.8 352.7L348.1 354.9M351.6 354.5L348.7 350.2M394.5 352.7L375 355.8M378.4 355.3L375.4 351.1M421.3 352.7L401.9 356.8M405.3 356.1L402.1 352M448 352.7L428.9 357.7M432.3 356.8L428.8 353M474.8 352.7L455.9 358.6M459.2 357.6L455.6 353.9M501.5 352.7L483 359.5M486.2 358.3L482.4 354.8M6.7 361.4L-13 358.9M-9.5 359.3L-11.3 354.5M33.4 361.4L13.8 358.9M17.3 359.4L15.5 354.5M60.2 361.4L40.5 359M44 359.4L42.2 354.5M86.9 361.4L67.3 359M70.7 359.4L68.9 354.6M113.7 361.4L94 359.1M97.5 359.5L95.7 354.6M140.4 361.4L120.8 359.1M124.2 359.5L122.4 354.6M167.2 361.4L147.5 359.1M151 359.5L149.1 354.7M193.9 361.4L174.2 359.2M177.7 359.6L175.9 354.7M220.7 361.4L201 359.2M204.5 359.6L202.6 354.7M354.4 361.4L334.6 360.5M338.1 360.7L336 356M381.2 361.4L361.4 360.9M364.9 361L362.6 356.3M407.9 361.4L388.1 361.3M391.6 361.3L389.3 356.6M434.7 361.4L414.9 361.6M418.4 361.6L415.9 357M461.4 361.4L441.6 362M445.1 361.9L442.6 357.3M488.2 361.4L468.4 362.3M471.9 362.2L469.3 357.7M514.9 361.4L495.2 362.7M498.6 362.4L496 358M20.1 369.7L0.4 367M3.9 367.5L2.2 362.6M46.8 369.7L27.2 367.1M30.7 367.6L28.9 362.7M73.6 369.7L53.9 367.2M57.4 367.6L55.6 362.7M100.3 369.7L80.7 367.2M84.1 367.7L82.4 362.8M127.1 369.7L107.4 367.3M110.9 367.7L109.1 362.9M153.8 369.7L134.1 367.4M137.6 367.8L135.8 362.9M180.6 369.7L160.9 367.5M164.4 367.9L162.5 363M207.3 369.7L187.6 367.5M191.1 367.9L189.3 363M394.5 369.7L374.9 367.3M378.4 367.7L376.6 362.8M421.3 369.7L401.7 367.2M405.1 367.7L403.4 362.8M448 369.7L428.4 367.1M431.9 367.6L430.1 362.7M474.8 369.7L455.2 367.1M458.6 367.5L456.9 362.6M501.5 369.7L481.9 367M485.4 367.5L483.7 362.6M140.4 377.8L120.8 375.5M124.2 375.9L122.4 371M167.2 377.8L147.5 375.5M151 375.9L149.2 371.1M193.9 377.8L174.3 375.6M177.7 376L175.9 371.1M434.7 377.8L415.2 374.1M418.7 374.7L417.2 369.7M461.4 377.8L442 373.8M445.5 374.5L444.1 369.5M488.2 377.8L468.8 373.5M472.3 374.3L470.9 369.3M514.9 377.8L495.6 373.3M499.1 374.1L497.8 369M501.5 385.7L482.4 380.8M485.7 381.7L484.6 376.6" fill="none" stroke="#2a2a2a" stroke-width="1.1" stroke-linecap="butt"/>
</g>
<rect x="0" y="0" width="521.6" height="425.4" fill="none" stroke="#111" stroke-width="1.3"/>
<text x="-27.7" y="7.6" font-size="21.5" text-anchor="end" fill="#000" >200</text>
<text x="-27.7" y="115.3" font-size="21.5" text-anchor="end" fill="#000" >300</text>
<text x="-27.7" y="250.9" font-size="21.5" text-anchor="end" fill="#000" >500</text>
<text x="-27.7" y="340.2" font-size="21.5" text-anchor="end" fill="#000" >700</text>
<text x="-27.7" y="391.8" font-size="21.5" text-anchor="end" fill="#000" >850</text>
<text x="-27.7" y="414.2" font-size="21.5" text-anchor="end" fill="#000" >925</text>
<text x="547.5" y="35.5" font-size="20.2" text-anchor="start" fill="#000" >35</text>
<text x="547.5" y="93.2" font-size="20.2" text-anchor="start" fill="#000" >30</text>
<text x="547.5" y="150.7" font-size="20.2" text-anchor="start" fill="#000" >25</text>
<text x="547.5" y="208.8" font-size="20.2" text-anchor="start" fill="#000" >20</text>
<text x="547.5" y="266.5" font-size="20.2" text-anchor="start" fill="#000" >15</text>
<text x="547.5" y="324.2" font-size="20.2" text-anchor="start" fill="#000" >10</text>
<text x="547.5" y="381.9" font-size="20.2" text-anchor="start" fill="#000" >5</text>
<text x="547.5" y="427.4" font-size="20.2" text-anchor="start" fill="#000" >1</text>
<text x="0" y="469.7" font-size="21.5" text-anchor="middle" fill="#000" >115.0W</text>
<text x="-3.2" y="493.8" font-size="21.5" text-anchor="middle" fill="#000" >40.1N</text>
<text x="133.7" y="469.7" font-size="21.5" text-anchor="middle" fill="#000" >115.0W</text>
<text x="130.5" y="493.8" font-size="21.5" text-anchor="middle" fill="#000" >41.7N</text>
<text x="267.5" y="469.7" font-size="21.5" text-anchor="middle" fill="#000" >115.0W</text>
<text x="264.3" y="493.8" font-size="21.5" text-anchor="middle" fill="#000" >43.3N</text>
<text x="401.2" y="469.7" font-size="21.5" text-anchor="middle" fill="#000" >115.0W</text>
<text x="398" y="493.8" font-size="21.5" text-anchor="middle" fill="#000" >44.9N</text>
<path d="M-13.3 0L0 0M-13.3 107.7L0 107.7M-13.3 243.3L0 243.3M-13.3 332.6L0 332.6M-13.3 384.2L0 384.2M-13.3 406.6L0 406.6M521.6 28.3L534.9 28.3M521.6 86L534.9 86M521.6 143.5L534.9 143.5M521.6 201.6L534.9 201.6M521.6 259.3L534.9 259.3M521.6 317L534.9 317M521.6 374.7L534.9 374.7M521.6 420.2L534.9 420.2M0 425.4L0 438.7M133.7 425.4L133.7 438.7M267.5 425.4L267.5 438.7M401.2 425.4L401.2 438.7" fill="none" stroke="#111" stroke-width="1.3"/>
<text x="260.8" y="-10.7" font-size="33.4" text-anchor="middle" fill="#000" >Curtain 3 (C3)</text>
<rect x="440" y="434.1" width="81.7" height="65.3" fill="#fff" stroke="#888" stroke-width="1.2"/>
<text x="480.9" y="457" font-size="24" text-anchor="middle" fill="#000" >30 m/s</text>
<path d="M493.2 480.1L473.6 480.1" fill="none" stroke="#777" stroke-width="1.2"/>
<path d="M473.6 480.1L468.6 471.1M477.3 480.1L472.3 471.1M481 480.1L476 471.1" fill="none" stroke="#444" stroke-width="0.9"/>
</g>
<g transform="translate(925.3 953)">
<clipPath id="cp4"><rect x="0" y="0" width="531.4" height="433.3"/></clipPath>
<g clip-path="url(#cp4)">
<rect x="0" y="0" width="531.4" height="433.3" fill="#0DA6FF"/>
<path d="M-9.9 -3.3 C35.2 -39.5 214.1 -4.5 260.9 -4 C307.7 -3.4 265.9 -1.2 270.8 0 C275.8 1.2 283.5 1.9 290.6 3 C297.8 4.1 304.4 4.6 313.8 6.6 C323.1 8.6 336.9 12.1 346.8 14.9 C356.7 17.6 366.3 20.4 373.2 23.1 C380.1 25.9 387.5 28.1 388.1 31.4 C388.6 34.7 380.6 38.3 376.5 42.9 C372.4 47.6 367.4 53.4 363.3 59.4 C359.2 65.5 351.7 73.2 351.7 79.3 C351.7 85.3 358.1 91.6 363.3 95.8 C368.5 99.9 372.1 101.9 383.1 104 C394.1 106.1 413.4 107.6 429.3 108.3 C445.3 109 461.9 108.7 478.9 108.3 C495.9 108 520.9 106.7 531.4 106.3 C541.9 106 539.9 80.3 541.6 106.3 C543.3 132.4 543.3 236.8 541.6 262.6 C539.9 288.3 539.1 262.3 531.4 260.9 C523.7 259.5 506.9 257.1 495.4 254.3 C483.9 251.6 473.4 248.3 462.4 244.4 C451.4 240.5 439.3 236.1 429.3 231.2 C419.4 226.2 411.2 219.6 402.9 214.7 C394.7 209.7 389.2 205 379.8 201.5 C370.4 197.9 357.8 195.1 346.8 193.2 C335.8 191.3 324.8 190.1 313.8 189.9 C302.7 189.7 291.7 191.4 280.7 192.2 C269.7 193 258.7 195.1 247.7 194.9 C236.7 194.6 225.7 192.8 214.7 190.9 C203.7 189 191.6 185.9 181.6 183.3 C171.7 180.7 161.8 178.1 155.2 175 C148.6 172 145.3 168.3 142 165.1 C138.7 161.9 138.7 157.8 135.4 155.9 C132.1 154 129.4 154.1 122.2 153.6 C115 153 101.8 152.4 92.5 152.6 C83.1 152.7 72.1 151.9 66.1 154.6 C60 157.2 58.9 162.8 56.1 168.4 C53.4 174.1 51.5 181.6 49.5 188.3 C47.6 194.9 49.5 204.2 44.6 208.1 C39.6 211.9 27.2 210.5 19.8 211.4 C12.4 212.2 5 212.7 0 213 C-5 213.3 -8.3 249.1 -9.9 213 C-11.6 177 -55 32.9 -9.9 -3.3Z" fill="#3B8EC2"/>
<path d="M437.6 74.3 C438.2 72.5 446.7 69.1 452.5 68.7 C458.2 68.3 466.5 70.5 472.3 72 C478.1 73.5 487.7 76.3 487.1 77.6 C486.6 78.9 475.3 79.6 469 79.9 C462.6 80.2 454.4 80.2 449.2 79.3 C443.9 78.3 437.1 76.1 437.6 74.3Z" fill="#38BCFF"/>
<path d="M-10 231.2 C-8.3 231.2 -9.9 230.4 0 231.2 C9.9 232 33 235.3 49.5 236.1 C66.1 237 82.6 236.7 99.1 236.1 C115.6 235.6 132.1 234.5 148.6 232.8 C165.1 231.2 181.6 228.2 198.2 226.2 C214.7 224.3 231.2 222.9 247.7 221.3 C264.2 219.6 286.2 217.4 297.2 216.3 C308.2 215.2 305.5 214.1 313.8 214.7 C322 215.2 335.8 216.9 346.8 219.6 C357.8 222.4 368.8 227.6 379.8 231.2 C390.8 234.8 401.8 237.8 412.8 241.1 C423.8 244.4 434.9 247.7 445.9 251 C456.9 254.3 467.9 257.9 478.9 260.9 C489.9 263.9 503.2 267.2 511.9 269.2 C520.7 271.1 526.5 271.9 531.4 272.5 C536.3 273 539.7 272.5 541.4 272.5 L541.4 438.3 L-10 438.3 Z" fill="#38BCFF"/>
<path d="M-10 247.7 C-8.3 247.7 -9.9 246.9 0 247.7 C9.9 248.5 33 251.8 49.5 252.7 C66.1 253.5 82.6 253.2 99.1 252.7 C115.6 252.1 132.1 251 148.6 249.4 C165.1 247.7 181.6 244.8 198.2 242.7 C214.7 240.7 231.2 239.1 247.7 237.1 C264.2 235.2 286.2 232.5 297.2 231.2 C308.2 229.9 305.5 228.7 313.8 229.5 C322 230.4 335.8 233.1 346.8 236.1 C357.8 239.2 368.8 243.6 379.8 247.7 C390.8 251.8 401.8 256.8 412.8 260.9 C423.8 265 434.9 269.2 445.9 272.5 C456.9 275.8 467.9 278.3 478.9 280.7 C489.9 283.2 503.2 285.7 511.9 287.3 C520.7 289 526.5 290.1 531.4 290.6 C536.3 291.2 539.7 290.6 541.4 290.6 L541.4 438.3 L-10 438.3 Z" fill="#40D1FF"/>
<path d="M-10 256 C-8.3 256 -9.9 254.9 0 256 C9.9 257.1 33 261.2 49.5 262.6 C66.1 263.9 82.6 264.5 99.1 264.2 C115.6 263.9 132.1 262.3 148.6 260.9 C165.1 259.5 181.6 257.6 198.2 256 C214.7 254.3 231.2 252.7 247.7 251 C264.2 249.4 286.2 247 297.2 246 C308.2 245.1 305.5 244 313.8 245.1 C322 246.2 335.8 249.5 346.8 252.7 C357.8 255.8 368.8 260.1 379.8 264.2 C390.8 268.3 401.8 273.3 412.8 277.4 C423.8 281.6 434.9 285.7 445.9 289 C456.9 292.3 467.9 294.9 478.9 297.2 C489.9 299.6 503.2 301.8 511.9 303.2 C520.7 304.6 526.5 305.1 531.4 305.5 C536.3 305.9 539.7 305.5 541.4 305.5 L541.4 438.3 L-10 438.3 Z" fill="#40E7FF"/>
<path d="M-10 262.6 C-8.3 262.6 -9.9 261.3 0 262.6 C9.9 263.8 33 268.3 49.5 270.2 C66.1 272 82.6 273.2 99.1 273.5 C115.6 273.7 132.1 272.5 148.6 271.5 C165.1 270.5 181.6 269 198.2 267.5 C214.7 266 231.2 264.1 247.7 262.6 C264.2 261 286.2 259.1 297.2 258.3 C308.2 257.4 305.5 256.6 313.8 257.6 C322 258.6 335.8 260.9 346.8 264.2 C357.8 267.5 368.8 273 379.8 277.4 C390.8 281.8 401.8 286.5 412.8 290.6 C423.8 294.8 434.9 298.9 445.9 302.2 C456.9 305.5 467.9 308.1 478.9 310.5 C489.9 312.8 503.2 315 511.9 316.4 C520.7 317.8 526.5 318.3 531.4 318.7 C536.3 319.1 539.7 318.7 541.4 318.7 L541.4 438.3 L-10 438.3 Z" fill="#40FCFF"/>
<path d="M-10 269.2 C-8.3 269.2 -9.9 267.8 0 269.2 C9.9 270.5 33 275.1 49.5 277.4 C66.1 279.8 82.6 282.5 99.1 283.4 C115.6 284.2 132.1 283.1 148.6 282.4 C165.1 281.7 181.6 280.3 198.2 279.1 C214.7 277.8 231.2 276.2 247.7 274.8 C264.2 273.4 286.2 271.6 297.2 270.8 C308.2 270 305.5 269.2 313.8 270.2 C322 271.1 335.8 273.5 346.8 276.8 C357.8 280.1 368.8 285.5 379.8 290 C390.8 294.5 401.8 299.3 412.8 303.8 C423.8 308.4 434.9 313.2 445.9 317.1 C456.9 320.9 467.9 324.2 478.9 327 C489.9 329.7 503.2 331.9 511.9 333.6 C520.7 335.2 526.5 336.3 531.4 336.9 C536.3 337.4 539.7 336.9 541.4 336.9 L541.4 438.3 L-10 438.3 Z" fill="#40FFDB"/>
<path d="M-10 275.8 C-8.3 275.8 -9.9 274.7 0 275.8 C9.9 276.9 34.1 280.2 49.5 282.4 C65 284.6 84.2 286.5 92.5 289 C100.7 291.5 96.3 294.2 99.1 297.2 C101.8 300.3 103.5 305.8 109 307.1 C114.5 308.5 122.7 307.1 132.1 305.5 C141.5 303.8 154.1 299.4 165.1 297.2 C176.1 295 184.4 293.9 198.2 292.3 C211.9 290.6 231.2 288.7 247.7 287.3 C264.2 286 286.2 284.7 297.2 284 C308.2 283.4 305.5 282.3 313.8 283.4 C322 284.5 335.8 287.5 346.8 290.6 C357.8 293.8 368.8 298.1 379.8 302.2 C390.8 306.3 401.8 311 412.8 315.4 C423.8 319.8 434.9 325 445.9 328.6 C456.9 332.2 467.9 334.7 478.9 336.9 C489.9 339.1 503.2 340.5 511.9 341.8 C520.7 343.2 526.5 344.6 531.4 345.1 C536.3 345.7 539.7 345.1 541.4 345.1 L541.4 438.3 L-10 438.3 Z" fill="#40FFA2"/>
<path d="M-10 280.7 C-8.3 280.7 -9.9 280.2 0 280.7 C9.9 281.3 34.7 282.7 49.5 284 C64.4 285.4 80.9 285.7 89.2 289 C97.4 292.3 94.7 299.4 99.1 303.8 C103.5 308.2 110.1 312.9 115.6 315.4 C121.1 317.9 126.6 319 132.1 318.7 C137.6 318.4 142 316 148.6 313.8 C155.2 311.6 163.5 307.4 171.7 305.5 C180 303.6 188.3 302.2 198.2 302.2 C208.1 302.2 220.2 305.2 231.2 305.5 C242.2 305.8 253.2 305.2 264.2 303.8 C275.2 302.5 286.2 298.6 297.2 297.2 C308.2 295.9 319.3 294.8 330.3 295.6 C341.3 296.4 352.3 299.2 363.3 302.2 C374.3 305.2 385.3 309.6 396.3 313.8 C407.3 317.9 418.3 322.8 429.3 327 C440.4 331.1 451.4 335.5 462.4 338.5 C473.4 341.6 483.9 343.2 495.4 345.1 C506.9 347.1 523.7 349.3 531.4 350.1 C539.1 350.9 539.7 350.1 541.4 350.1 L541.4 438.3 L-10 438.3 Z" fill="#40FF4C"/>
<path d="M-10 307.1 C-8.3 307.1 -5 305.5 0 307.1 C5 308.8 13.8 313.2 19.8 317.1 C25.9 320.9 31.4 324.8 36.3 330.3 C41.3 335.8 44.6 344.6 49.5 350.1 C54.5 355.6 58.9 360.3 66.1 363.3 C73.2 366.3 82.6 367.7 92.5 368.2 C102.4 368.8 117.8 368.5 125.5 366.6 C133.2 364.7 133.2 360.5 138.7 356.7 C144.2 352.8 151.4 347.9 158.5 343.5 C165.7 339.1 172.3 334.1 181.6 330.3 C191 326.4 203.7 322.6 214.7 320.4 C225.7 318.2 236.7 318.2 247.7 317.1 C258.7 316 272.5 315.1 280.7 313.8 C289 312.4 289 310.2 297.2 308.8 C305.5 307.4 319.3 305.5 330.3 305.5 C341.3 305.5 352.3 306.6 363.3 308.8 C374.3 311 385.3 314.9 396.3 318.7 C407.3 322.6 418.3 327.8 429.3 331.9 C440.4 336 451.4 340.5 462.4 343.5 C473.4 346.5 483.9 348.2 495.4 350.1 C506.9 352 523.7 354.2 531.4 355 C539.1 355.9 539.7 355 541.4 355 L541.4 438.3 L-10 438.3 Z" fill="#65FF40"/>
<path d="M-5 438.3 L-5 378.2 L26.4 378.2 L26.4 384.8 L109 384.8 L109 378.2 L259.3 378.2 L259.3 369.9 L298.9 369.9 L298.9 361.6 L340.2 361.6 L340.2 369.9 L409.5 369.9 L409.5 378.2 L449.2 378.2 L449.2 383.8 L490.4 383.8 L490.4 388.7 L536.4 388.7 L536.4 438.3 Z" fill="#fff"/>
<path d="M6.8 26.4L-9.7 37.9M-9.7 37.9L-18.6 33.2M-6.8 35.9L-15.7 31.2M-3.9 33.9L-12.8 29.1M34.1 26.4L17.5 37.9M17.5 37.9L8.6 33.1M20.4 35.9L11.5 31.1M23.3 33.8L14.4 29.1M61.3 26.4L44.7 37.8M44.7 37.8L35.8 33M47.6 35.8L38.8 31M50.6 33.8L41.7 29M88.6 26.4L71.9 37.8M71.9 37.8L63 33M74.9 35.8L66 30.9M77.8 33.7L73.1 31.2M115.8 26.4L99.1 37.7M99.1 37.7L90.3 32.9M102.1 35.7L93.2 30.9M105 33.7L100.4 31.2M143.1 26.4L126.3 37.6M126.3 37.6L117.5 32.8M129.3 35.7L120.5 30.8M132.2 33.7L127.6 31.1M170.3 26.4L153.5 37.6M153.5 37.6L144.7 32.7M156.5 35.6L147.7 30.7M159.5 33.6L154.8 31.1M197.6 26.4L180.8 37.5M180.8 37.5L172 32.6M183.7 35.6L174.9 30.6M186.7 33.6L182.1 31M224.8 26.4L208 37.5M208 37.5L199.2 32.5M210.9 35.5L202.2 30.5M213.9 33.6L209.3 30.9M252.1 26.4L235.2 37.4M235.2 37.4L226.4 32.4M238.2 35.5L229.4 30.5M241.2 33.5L236.5 30.9M279.3 26.4L262.4 37.4M262.4 37.4L253.7 32.4M265.4 35.4L256.6 30.4M306.6 26.4L289.7 37.4M289.7 37.4L280.9 32.4M292.7 35.5L283.9 30.5M333.8 26.4L317 37.5M317 37.5L308.2 32.5M319.9 35.5L311.2 30.5M361.1 26.4L344.2 37.5M344.2 37.5L335.4 32.5M347.2 35.5L338.4 30.6M388.3 26.4L371.5 37.5M371.5 37.5L362.7 32.6M374.5 35.5L365.7 30.6M415.6 26.4L398.8 37.5M398.8 37.5L390 32.6M401.7 35.6L392.9 30.6M442.8 26.4L426 37.6M426 37.6L417.2 32.7M429 35.6L424.4 33M470.1 26.4L453.3 37.6M453.3 37.6L444.5 32.7M456.3 35.6L451.6 33M497.3 26.4L480.6 37.6M480.6 37.6L471.8 32.7M483.5 35.6L478.9 33.1M524.6 26.4L507.9 37.7M507.9 37.7L499 32.8M510.8 35.7L506.2 33.1M6.8 70.4L-9.9 81.8M-9.9 81.8L-18.7 77M-6.9 79.8L-15.8 75M-4 77.8L-8.6 75.2M34.1 70.4L17.4 81.8M17.4 81.8L8.5 76.9M20.3 79.8L11.5 74.9M23.3 77.8L18.6 75.2M61.3 70.4L44.6 81.7M44.6 81.7L35.8 76.9M47.6 79.7L38.7 74.9M50.5 77.7L45.9 75.2M88.6 70.4L71.8 81.7M71.8 81.7L63 76.8M74.8 79.7L66 74.8M77.7 77.7L73.1 75.2M115.8 70.4L99.1 81.7M99.1 81.7L90.2 76.8M102 79.7L93.2 74.8M105 77.7L100.3 75.1M143.1 70.4L126.3 81.6M126.3 81.6L117.5 76.7M129.3 79.6L120.4 74.7M132.2 77.7L127.6 75.1M170.3 70.4L153.5 81.6M153.5 81.6L144.7 76.7M156.5 79.6L147.7 74.7M159.5 77.6L154.8 75.1M197.6 70.4L180.7 81.6M180.7 81.6L171.9 76.6M183.7 79.6L174.9 74.6M186.7 77.6L182.1 75M224.8 70.4L208 81.5M208 81.5L199.2 76.6M210.9 79.6L202.2 74.6M252.1 70.4L235.2 81.5M235.2 81.5L226.4 76.5M238.2 79.5L229.4 74.6M279.3 70.4L262.4 81.5M262.4 81.5L253.7 76.5M265.4 79.5L256.7 74.5M306.6 70.4L289.7 81.5M289.7 81.5L280.9 76.5M292.7 79.5L283.9 74.5M333.8 70.4L316.9 81.5M316.9 81.5L308.2 76.5M319.9 79.5L311.2 74.5M361.1 70.4L344.2 81.4M344.2 81.4L335.4 76.5M347.2 79.5L338.4 74.5M388.3 70.4L371.4 81.4M371.4 81.4L362.7 76.4M374.4 79.5L365.7 74.5M415.6 70.4L398.7 81.4M398.7 81.4L389.9 76.4M401.7 79.5L392.9 74.5M442.8 70.4L425.9 81.4M425.9 81.4L417.2 76.4M428.9 79.5L424.3 76.9M470.1 70.4L453.2 81.4M453.2 81.4L444.4 76.4M456.2 79.5L451.6 76.9M497.3 70.4L480.4 81.4M480.4 81.4L471.7 76.4M483.4 79.5L478.8 76.8M524.6 70.4L507.7 81.4M507.7 81.4L498.9 76.4M510.7 79.5L506.1 76.8M6.8 114.1L-10 125.3M-10 125.3L-18.8 120.4M-7 123.3L-15.8 118.4M-4 121.3L-8.7 118.8M34.1 114.1L17.3 125.3M17.3 125.3L8.5 120.4M20.2 123.3L11.4 118.4M23.2 121.3L18.6 118.8M61.3 114.1L44.5 125.3M44.5 125.3L35.7 120.3M47.5 123.3L38.7 118.4M50.4 121.3L45.8 118.7M88.6 114.1L71.7 125.3M71.7 125.3L63 120.3M74.7 123.3L65.9 118.4M77.7 121.3L73.1 118.7M115.8 114.1L99 125.3M99 125.3L90.2 120.3M102 123.3L93.2 118.4M143.1 114.1L126.2 125.2M126.2 125.2L117.4 120.3M129.2 123.3L120.4 118.3M170.3 114.1L153.5 125.2M153.5 125.2L144.7 120.3M156.5 123.3L147.7 118.3M197.6 114.1L180.7 125.2M180.7 125.2L171.9 120.3M183.7 123.3L174.9 118.3M224.8 114.1L208 125.2M208 125.2L199.2 120.3M211 123.3L202.2 118.3M252.1 114.1L235.2 125.2M235.2 125.2L226.4 120.2M238.2 123.3L229.4 118.3M279.3 114.1L262.5 125.2M262.5 125.2L253.7 120.2M265.4 123.2L256.7 118.3M306.6 114.1L289.7 125.1M289.7 125.1L280.9 120.2M292.7 123.2L283.9 118.2M333.8 114.1L316.9 125.1M316.9 125.1L308.2 120.1M319.9 123.2L311.1 118.2M361.1 114.1L344.1 125.1M344.1 125.1L335.4 120M347.1 123.1L338.4 118.1M388.3 114.1L371.4 125M371.4 125L362.6 120M374.4 123.1L369.8 120.4M415.6 114.1L398.6 125M398.6 125L389.9 119.9M401.6 123.1L397 120.4M442.8 114.1L425.8 124.9M425.8 124.9L417.1 119.9M428.8 123L424.2 120.4M470.1 114.1L453 124.9M453 124.9L444.3 119.8M456 123L451.5 120.3M497.3 114.1L480.3 124.9M480.3 124.9L471.6 119.7M483.3 123L478.7 120.3M524.6 114.1L507.5 124.8M507.5 124.8L498.8 119.7M510.5 122.9L506 120.2M6.8 149.5L-10.1 160.5M-10.1 160.5L-18.8 155.5M-7.1 158.5L-15.9 153.5M34.1 149.5L17.2 160.5M17.2 160.5L8.4 155.5M20.2 158.6L11.4 153.6M61.3 149.5L44.4 160.5M44.4 160.5L35.7 155.5M47.4 158.6L38.6 153.6M88.6 149.5L71.7 160.5M71.7 160.5L62.9 155.5M74.7 158.6L65.9 153.6M115.8 149.5L98.9 160.5M98.9 160.5L90.2 155.6M101.9 158.6L93.2 153.6M143.1 149.5L126.2 160.6M126.2 160.6L117.4 155.6M129.2 158.6L120.4 153.6M170.3 149.5L153.5 160.6M153.5 160.6L144.7 155.6M156.4 158.6L147.7 153.6M197.6 149.5L180.7 160.6M180.7 160.6L171.9 155.6M183.7 158.6L174.9 153.7M224.8 149.5L208 160.6M208 160.6L199.2 155.6M211 158.6L202.2 153.7M252.1 149.5L235.2 160.6M235.2 160.6L226.4 155.6M238.2 158.6L229.4 153.7M279.3 149.5L262.5 160.6M262.5 160.6L253.7 155.6M265.5 158.6L256.7 153.6M306.6 149.5L289.7 160.5M289.7 160.5L280.9 155.5M292.7 158.6L283.9 153.6M333.8 149.5L316.9 160.4M316.9 160.4L308.1 155.4M319.9 158.5L315.3 155.9M361.1 149.5L344.1 160.4M344.1 160.4L335.4 155.3M347.1 158.4L342.5 155.8M388.3 149.5L371.3 160.3M371.3 160.3L362.6 155.2M374.3 158.4L369.7 155.7M415.6 149.5L398.5 160.2M398.5 160.2L389.8 155.1M401.5 158.3L397 155.6M442.8 149.5L425.7 160.2M425.7 160.2L417.1 155M428.7 158.3L424.2 155.6M470.1 149.5L452.9 160.1M452.9 160.1L444.3 154.9M456 158.2L451.4 155.5M497.3 149.5L480.1 160M480.1 160L471.5 154.8M483.2 158.2L478.7 155.4M524.6 149.5L507.3 160M507.3 160L498.7 154.7M510.4 158.1L505.9 155.3M6.8 176.9L-10.2 187.8M-10.2 187.8L-18.9 182.7M-7.2 185.9L-15.9 180.8M34.1 176.9L17.1 187.8M17.1 187.8L8.4 182.8M20.1 185.9L11.4 180.8M61.3 176.9L44.4 187.9M44.4 187.9L35.6 182.8M47.4 185.9L38.6 180.9M88.6 176.9L71.6 187.9M71.6 187.9L62.9 182.9M74.6 185.9L65.9 180.9M115.8 176.9L98.9 187.9M98.9 187.9L90.2 182.9M101.9 186L93.1 181M143.1 176.9L126.2 187.9M126.2 187.9L117.4 182.9M129.2 186L120.4 181M170.3 176.9L153.4 188M153.4 188L144.7 183M156.4 186L147.7 181M197.6 176.9L180.7 188M180.7 188L171.9 183M183.7 186L174.9 181.1M224.8 176.9L208 188M208 188L199.2 183.1M211 186.1L202.2 181.1M252.1 176.9L235.3 188M235.3 188L226.5 183.1M238.2 186.1L229.4 181.1M279.3 176.9L262.5 188M262.5 188L253.7 183.1M265.5 186L260.8 183.4M306.6 176.9L289.7 187.9M289.7 187.9L280.9 182.9M292.7 186L288.1 183.3M333.8 176.9L316.9 187.8M316.9 187.8L308.1 182.8M319.9 185.9L315.3 183.3M361.1 176.9L344.1 187.7M344.1 187.7L335.4 182.7M347.1 185.8L342.5 183.2M388.3 176.9L371.3 187.7M371.3 187.7L362.6 182.5M374.3 185.8L369.7 183.1M415.6 176.9L398.5 187.6M398.5 187.6L389.8 182.4M401.5 185.7L396.9 183M442.8 176.9L425.6 187.5M425.6 187.5L417 182.2M428.7 185.6L424.2 182.9M470.1 176.9L452.8 187.4M452.8 187.4L444.2 182.1M455.9 185.5L451.4 182.8M497.3 176.9L480 187.3M480 187.3L471.5 182M483.1 185.5L478.6 182.7M524.6 176.9L507.2 187.2M507.2 187.2L498.7 181.8M510.3 185.4L505.8 182.6M6.8 201L-10.2 211.8M-10.2 211.8L-18.9 206.7M-7.2 209.9L-15.9 204.8M34.1 201L17 211.9M17 211.9L8.3 206.8M20.1 209.9L11.3 204.9M61.3 201L44.3 211.9M44.3 211.9L35.6 206.8M47.3 210L38.6 204.9M88.6 201L71.6 211.9M71.6 211.9L62.9 206.9M74.6 210L65.9 205M115.8 201L98.9 212M98.9 212L90.1 207M101.9 210L93.1 205M143.1 201L126.2 212M126.2 212L117.4 207M129.1 210.1L124.5 207.5M170.3 201L153.4 212.1M153.4 212.1L144.7 207.1M156.4 210.1L151.8 207.5M197.6 201L180.7 212.1M180.7 212.1L171.9 207.1M183.7 210.2L179.1 207.5M224.8 201L208 212.1M208 212.1L199.2 207.2M211 210.2L206.3 207.6M252.1 201L235.3 212.2M235.3 212.2L226.5 207.3M238.2 210.2L233.6 207.6M279.3 201L262.5 212.2M262.5 212.2L253.7 207.2M265.5 210.2L260.9 207.6M306.6 201L289.7 212M289.7 212L280.9 207M292.7 210.1L288.1 207.5M333.8 201L316.9 211.9M316.9 211.9L308.1 206.9M319.9 210L315.3 207.4M361.1 201L344 211.8M344 211.8L335.3 206.7M347.1 209.9L342.5 207.2M388.3 201L371.2 211.7M371.2 211.7L362.6 206.6M374.2 209.8L369.7 207.1M415.6 201L398.4 211.6M398.4 211.6L389.8 206.4M401.4 209.7L396.9 207M442.8 201L425.6 211.5M425.6 211.5L417 206.2M428.6 209.7L424.1 206.9M470.1 201L452.8 211.4M452.8 211.4L444.2 206.1M455.8 209.6L451.3 206.8M497.3 201L480 211.3M480 211.3L471.4 205.9M483 209.5L478.6 206.6M524.6 201L507.1 211.2M507.1 211.2L498.7 205.7M510.2 209.4L505.8 206.5M6.8 224.1L-10.7 234.1M-10.7 234.1L-19.2 228.6M-7.6 232.3L-12 229.4M34.1 224.1L16.6 234.2M16.6 234.2L8.1 228.8M19.7 232.4L15.2 229.6M61.3 224.1L44 234.3M44 234.3L35.4 229M47 232.5L42.5 229.7M88.6 224.1L71.3 234.5M71.3 234.5L62.7 229.2M74.3 232.6L69.8 229.8M115.8 224.1L98.6 234.6M98.6 234.6L90 229.4M101.7 232.7L97.1 230M143.1 224.1L125.9 234.7M125.9 234.7L117.3 229.5M129 232.8L124.4 230.1M170.3 224.1L153.3 234.8M153.3 234.8L144.6 229.7M156.3 232.9L151.7 230.3M197.6 224.1L180.6 235M180.6 235L171.9 229.9M183.6 233L179 230.4M224.8 224.1L207.9 235.1M207.9 235.1L199.2 230.1M210.9 233.1L206.3 230.5M252.1 224.1L235.3 235.2M235.3 235.2L226.5 230.3M238.2 233.2L233.6 230.7M279.3 224.1L262.5 235.1M262.5 235.1L253.7 230.2M265.4 233.2L260.8 230.6M306.6 224.1L289.5 234.9M289.5 234.9L280.8 229.8M292.6 233L288 230.3M333.8 224.1L316.6 234.6M316.6 234.6L308 229.4M319.7 232.7L315.1 230M361.1 224.1L343.7 234.3M343.7 234.3L335.2 229M346.8 232.5L342.3 229.7M388.3 224.1L370.8 234.1M370.8 234.1L362.4 228.6M373.9 232.3L369.5 229.4M415.6 224.1L397.9 233.8M397.9 233.8L389.5 228.2M401 232.1L396.6 229.1M442.8 224.1L425 233.5M425 233.5L416.7 227.7M428.2 231.8L423.8 228.8M470.1 224.1L452.1 233.2M452.1 233.2L443.9 227.3M455.3 231.6L451 228.5M497.3 224.1L479.2 233M479.2 233L471.1 226.9M482.4 231.4L478.2 228.2M524.6 224.1L506.3 232.7M506.3 232.7L498.3 226.5M509.6 231.2L505.4 227.9M6.8 244.5L-11.7 252.6M-11.7 252.6L-19.5 246.2M-8.4 251.2L-12.5 247.8M34.1 244.5L15.7 252.9M15.7 252.9L7.8 246.7M19 251.4L14.8 248.2M61.3 244.5L43.1 253.3M43.1 253.3L35.1 247.2M46.3 251.7L42.1 248.5M88.6 244.5L70.6 253.6M70.6 253.6L62.4 247.7M73.7 252L69.5 248.9M115.8 244.5L98 254M98 254L89.7 248.2M101.1 252.3L96.8 249.3M143.1 244.5L125.4 254.3M125.4 254.3L117 248.7M128.5 252.6L124.1 249.6M170.3 244.5L152.9 254.6M152.9 254.6L144.4 249.2M155.9 252.8L151.5 250M197.6 244.5L180.3 255M180.3 255L171.7 249.7M183.4 253.1L178.8 250.3M224.8 244.5L207.7 255.3M207.7 255.3L199.1 250.1M210.8 253.4L206.2 250.7M252.1 244.5L235.2 255.6M235.2 255.6L226.4 250.6M238.2 253.6L233.6 251M279.3 244.5L262.4 255.5M262.4 255.5L253.7 250.5M265.4 253.6L260.8 251M306.6 244.5L289.4 255.1M289.4 255.1L280.8 249.9M292.4 253.3L287.9 250.5M333.8 244.5L316.4 254.7M316.4 254.7L307.9 249.3M319.5 252.9L315 250.1M361.1 244.5L343.4 254.3M343.4 254.3L335 248.6M346.5 252.5L342.1 249.6M388.3 244.5L370.4 253.8M370.4 253.8L362.2 248M373.6 252.2L369.3 249.1M415.6 244.5L397.5 253.4M397.5 253.4L389.4 247.3M400.7 251.8L396.4 248.6M442.8 244.5L424.5 252.9M424.5 252.9L416.6 246.7M427.7 251.4L423.6 248.2M470.1 244.5L451.5 252.5M451.5 252.5L443.8 246M454.8 251.1L450.7 247.7M497.3 244.5L478.6 252M478.6 252L471 245.4M481.9 250.7L477.9 247.2M524.6 244.5L505.7 251.6M505.7 251.6L498.2 244.7M509 250.3L505.1 246.7M6.8 262.8L-12.1 269.9M-12.1 269.9L-19.5 263.1M-8.7 268.6L-12.7 265.1M34.1 262.8L15.3 270.4M15.3 270.4L7.7 263.7M18.7 269L14.7 265.6M61.3 262.8L42.8 270.8M42.8 270.8L35 264.4M46.1 269.4L42 266M88.6 262.8L70.2 271.3M70.2 271.3L62.3 265M73.5 269.8L69.3 266.5M115.8 262.8L97.7 271.7M97.7 271.7L89.6 265.7M100.9 270.2L96.7 267M143.1 262.8L125.2 272.2M125.2 272.2L116.9 266.3M128.3 270.5L124 267.5M170.3 262.8L152.7 272.6M152.7 272.6L144.3 267M155.8 270.9L151.4 267.9M197.6 262.8L180.2 273M180.2 273L171.7 267.6M183.2 271.2L178.8 268.4M224.8 262.8L207.7 273.5M207.7 273.5L199 268.3M210.7 271.6L206.2 268.8M252.1 262.8L235.2 273.9M235.2 273.9L226.4 268.9M238.2 271.9L233.6 269.3M279.3 262.8L262.4 273.9M262.4 273.9L253.7 268.9M306.6 262.8L289.4 273.5M289.4 273.5L280.8 268.2M333.8 262.8L316.4 273M316.4 273L307.9 267.6M361.1 262.8L343.4 272.6M343.4 272.6L335 267M388.3 262.8L370.4 272.1M370.4 272.1L362.2 266.3M415.6 262.8L397.5 271.7M397.5 271.7L389.4 265.7M400.7 270.1L396.4 267M442.8 262.8L424.5 271.2M424.5 271.2L416.6 265M427.7 269.8L423.6 266.5M470.1 262.8L451.5 270.8M451.5 270.8L443.8 264.4M454.8 269.4L450.7 266M497.3 262.8L478.6 270.3M478.6 270.3L471 263.7M481.9 269L477.9 265.5M524.6 262.8L505.7 269.9M505.7 269.9L498.2 263.1M509 268.6L505.1 265M6.8 283.5L-12.5 289.4M-12.5 289.4L-19.5 282.1M34.1 283.5L14.9 290M14.9 290L7.7 282.9M61.3 283.5L42.4 290.6M42.4 290.6L35 283.8M88.6 283.5L69.9 291.1M69.9 291.1L62.2 284.6M115.8 283.5L97.4 291.7M97.4 291.7L89.5 285.4M143.1 283.5L124.9 292.3M124.9 292.3L116.9 286.2M170.3 283.5L152.4 292.9M152.4 292.9L144.2 287.1M197.6 283.5L180 293.4M180 293.4L171.6 287.9M224.8 283.5L207.6 294M207.6 294L199 288.7M252.1 283.5L235.2 294.5M235.2 294.5L226.4 289.5M279.3 283.5L262.4 294.6M262.4 294.6L253.7 289.6M306.6 283.5L289.4 294.1M292.5 292.3L287.9 289.5M333.8 283.5L316.4 293.7M319.5 291.9L315 289.1M361.1 283.5L343.4 293.3M343.4 293.3L335 287.7M388.3 283.5L370.4 292.8M370.4 292.8L362.2 287M415.6 283.5L397.5 292.4M397.5 292.4L389.4 286.4M442.8 283.5L424.5 291.9M424.5 291.9L416.6 285.7M470.1 283.5L451.5 291.5M451.5 291.5L443.8 285M497.3 283.5L478.6 291M478.6 291L471 284.4M524.6 283.5L505.7 290.5M505.7 290.5L498.2 283.7M6.8 299.2L-12.8 304M-9.3 303.1L-12.8 299.1M34.1 299.2L14.7 304.7M18.1 303.7L14.5 299.9M61.3 299.2L42.1 305.4M45.5 304.3L41.8 300.6M88.6 299.2L69.6 306.1M73 304.9L69.1 301.3M115.8 299.2L97.2 306.8M100.5 305.5L96.4 302M143.1 299.2L124.7 307.5M127.9 306L123.8 302.8M170.3 299.2L152.3 308.2M155.5 306.6L151.2 303.5M197.6 299.2L179.9 308.9M183 307.1L178.6 304.2M224.8 299.2L207.5 309.5M210.6 307.7L206.1 304.9M252.1 299.2L235.1 310.1M238.1 308.2L233.5 305.6M279.3 299.2L262.5 310.2M265.4 308.3L260.8 305.7M306.6 299.2L289.4 309.8M292.5 307.9L287.9 305.2M333.8 299.2L316.4 309.4M319.5 307.6L315 304.7M361.1 299.2L343.4 308.9M346.6 307.2L342.1 304.3M388.3 299.2L370.4 308.5M373.6 306.9L369.3 303.8M415.6 299.2L397.5 308M400.7 306.5L396.4 303.3M442.8 299.2L424.5 307.6M427.7 306.1L423.6 302.8M470.1 299.2L451.5 307.1M454.8 305.7L450.7 302.3M497.3 299.2L478.6 306.7M478.6 306.7L471 300M524.6 299.2L505.7 306.2M505.7 306.2L498.2 299.4M20.4 314.8L0.5 318.1M4.1 317.5L0.9 313.3M47.7 314.8L28 319M31.4 318.3L28.1 314.2M74.9 314.8L55.4 319.9M58.9 319L55.3 315M102.2 314.8L82.9 320.8M86.3 319.7L82.6 315.9M129.4 314.8L110.5 321.6M113.8 320.4L109.9 316.8M156.7 314.8L138 322.5M141.3 321.1L137.3 317.7M183.9 314.8L165.6 323.3M168.9 321.8L164.7 318.5M211.2 314.8L193.3 324.1M196.5 322.5L192.1 319.4M238.4 314.8L221 324.9M224.1 323.1L219.6 320.2M265.7 314.8L248.7 325.7M251.7 323.8L247.1 321.1M293 314.8L275.7 325.3M278.8 323.4L274.2 320.7M320.2 314.8L302.7 324.9M305.8 323.1L301.4 320.2M347.5 314.8L329.8 324.5M332.9 322.8L328.5 319.8M374.7 314.8L356.8 324.1M360 322.5L355.6 319.4M402 314.8L383.8 323.7M387 322.1L382.8 319M429.2 314.8L410.9 323.3M414.1 321.8L410 318.5M456.5 314.8L438 322.9M441.2 321.4L437.1 318.1M483.7 314.8L465 322.5M468.3 321.1L464.3 317.7M511 314.8L492.1 322M495.5 320.8L491.5 317.2M6.8 330.1L-13.4 330.7M-9.8 330.6L-12.3 325.9M34.1 330.1L14 331.8M17.5 331.5L14.7 327M61.3 330.1L41.3 332.8M44.9 332.3L41.8 328M88.6 330.1L68.8 333.9M72.3 333.2L69 329M115.8 330.1L96.2 334.9M99.7 334.1L96.2 330.1M143.1 330.1L123.8 336M127.2 334.9L123.5 331.1M170.3 330.1L151.4 337M154.7 335.8L150.8 332.2M197.6 330.1L179 338M182.3 336.6L178.2 333.2M224.8 330.1L206.7 339M209.9 337.4L205.7 334.2M252.1 330.1L234.5 339.9M237.6 338.2L233.2 335.3M279.3 330.1L261.9 340.3M265 338.5L260.5 335.7M306.6 330.1L289.1 340.1M292.2 338.3L287.7 335.4M333.8 330.1L316.2 339.9M319.3 338.2L314.9 335.2M361.1 330.1L343.4 339.7M346.5 338L342.1 335M388.3 330.1L370.5 339.5M373.7 337.9L369.3 334.8M415.6 330.1L397.7 339.3M400.8 337.7L396.5 334.6M442.8 330.1L424.8 339.1M428 337.5L423.7 334.4M470.1 330.1L452 338.9M455.2 337.4L450.9 334.2M497.3 330.1L479.1 338.7M482.3 337.2L478.1 334M524.6 330.1L506.3 338.5M509.5 337.1L505.3 333.8M20.4 340.4L0.3 340.6M3.8 340.6L1.4 335.9M47.7 340.4L27.6 341.6M31.1 341.4L28.4 336.9M74.9 340.4L54.9 342.7M58.4 342.3L55.5 337.9M102.2 340.4L82.3 343.8M85.8 343.2L82.6 338.9M129.4 340.4L109.8 344.8M113.2 344L109.8 339.9M156.7 340.4L137.3 345.8M140.7 344.9L137.1 341M183.9 340.4L164.8 346.8M168.2 345.7L164.4 342M211.2 340.4L192.4 347.8M195.8 346.5L191.8 343M238.4 340.4L220.1 348.8M223.3 347.3L219.2 344M265.7 340.4L247.8 349.8M251 348.1L246.7 345M293 340.4L275.1 349.8M278.2 348.1L273.9 345.1M320.2 340.4L302.3 349.8M305.5 348.1L301.2 345.1M347.5 340.4L329.6 349.8M332.8 348.1L328.4 345.1M374.7 340.4L356.9 349.8M360 348.2L355.7 345.1M402 340.4L384.1 349.8M387.3 348.2L382.9 345.1M429.2 340.4L411.4 349.8M414.5 348.2L410.2 345.1M456.5 340.4L438.6 349.9M441.8 348.2L437.4 345.2M483.7 340.4L465.9 349.9M469 348.2L464.7 345.2M511 340.4L493.2 349.9M496.3 348.2L491.9 345.2M6.8 350.1L-13.3 348.9M-9.8 349.1L-11.9 344.2M34.1 350.1L13.9 349.8M17.5 349.9L15.1 345.1M61.3 350.1L41.2 350.8M44.7 350.7L42.2 346M88.6 350.1L68.5 351.7M72 351.4L69.2 346.9M115.8 350.1L95.8 352.7M99.3 352.2L96.4 347.8M143.1 350.1L123.2 353.6M126.7 353L123.5 348.8M170.3 350.1L150.6 354.5M154.1 353.7L150.7 349.7M197.6 350.1L178.1 355.4M181.5 354.5L178 350.6M224.8 350.1L205.6 356.3M209 355.3L205.3 351.5M252.1 350.1L233.2 357.2M236.5 356L232.6 352.4M279.3 350.1L260.7 357.8M264 356.5L259.9 353M306.6 350.1L288 358.1M291.3 356.7L287.2 353.3M333.8 350.1L315.4 358.4M318.7 356.9L314.5 353.6M361.1 350.1L342.8 358.6M346 357.1L341.8 353.9M388.3 350.1L370.2 358.9M373.4 357.4L369.1 354.2M415.6 350.1L397.5 359.2M400.7 357.6L396.5 354.4M442.8 350.1L424.9 359.4M428.1 357.8L423.8 354.7M470.1 350.1L452.3 359.7M455.5 358L451.1 355M497.3 350.1L479.7 360M482.8 358.2L478.4 355.3M524.6 350.1L507.1 360.2M510.2 358.4L505.7 355.6M20.4 359.3L0.3 357.7M3.9 358L1.8 353.1M47.7 359.3L27.5 358.4M31.1 358.6L28.9 353.8M74.9 359.3L54.8 359.2M58.3 359.2L55.9 354.5M102.2 359.3L82 359.9M85.6 359.8L83 355.2M129.4 359.3L109.3 360.7M112.9 360.4L110.1 355.9M156.7 359.3L136.6 361.4M140.2 361.1L137.3 356.6M183.9 359.3L164 362.2M167.5 361.7L164.4 357.3M211.2 359.3L191.4 362.9M194.9 362.3L191.6 358.1M238.4 359.3L218.8 363.6M222.2 362.9L218.9 358.8M265.7 359.3L246.2 364.4M249.6 363.5L246.1 359.5M293 359.3L273.6 364.9M277 363.9L273.4 360.1M320.2 359.3L301 365.5M304.4 364.4L300.6 360.6M347.5 359.3L328.4 366M331.8 364.8L327.9 361.2M374.7 359.3L355.9 366.5M359.2 365.3L355.3 361.7M402 359.3L383.4 367.1M386.6 365.7L382.6 362.3M429.2 359.3L410.8 367.6M414.1 366.1L409.9 362.8M456.5 359.3L438.3 368.1M441.5 366.5L437.3 363.4M483.7 359.3L465.8 368.6M469 367L464.7 363.9M511 359.3L493.4 369.1M496.5 367.4L492.1 364.5M6.8 368.1L-13.3 366.1M-9.7 366.4L-11.7 361.5M34.1 368.1L14 366.5M17.5 366.8L15.5 361.9M61.3 368.1L41.2 367M44.7 367.2L42.6 362.3M88.6 368.1L68.4 367.4M72 367.5L69.7 362.8M115.8 368.1L95.6 367.9M99.2 367.9L96.8 363.2M143.1 368.1L122.9 368.3M126.5 368.3L124 363.6M170.3 368.1L150.2 368.8M153.7 368.7L151.1 364M197.6 368.1L177.4 369.2M181 369L178.3 364.5M224.8 368.1L204.7 369.7M208.3 369.4L205.5 364.9M252.1 368.1L232 370.1M235.6 369.8L232.7 365.3M279.3 368.1L259.3 370.8M262.9 370.3L259.8 366M361.1 368.1L341.6 373.4M345.1 372.4L341.5 368.5M388.3 368.1L369.1 374.2M372.5 373.1L368.8 369.4M415.6 368.1L396.7 375.1M400 373.8L396.1 370.2M442.8 368.1L424.2 375.9M427.5 374.5L423.5 371.1M470.1 368.1L451.8 376.7M455.1 375.1L450.9 371.9M497.3 368.1L479.5 377.5M482.6 375.8L478.3 372.7M524.6 368.1L507.2 378.2M510.2 376.4L505.8 373.6M20.4 376.6L0.4 374.8M3.9 375.1L1.9 370.2M47.7 376.6L27.6 375.1M31.1 375.4L29.1 370.5M74.9 376.6L54.8 375.5M58.4 375.7L56.2 370.8M102.2 376.6L82 375.8M85.6 376L83.4 371.2M129.4 376.6L109.3 376.2M112.8 376.3L110.5 371.5M156.7 376.6L136.5 376.6M140.1 376.6L137.7 371.8M183.9 376.6L163.8 376.9M167.3 376.9L164.8 372.2M211.2 376.6L191 377.3M194.6 377.2L192 372.5M238.4 376.6L218.3 377.6M221.9 377.5L219.2 372.9M429.2 376.6L410.3 383.7M413.7 382.5L409.7 378.9M456.5 376.6L438 384.6M441.2 383.2L437.1 379.9M483.7 376.6L465.6 385.5M468.8 384L464.6 380.8M511 376.6L493.3 386.4M496.5 384.7L492 381.7M34.1 384.9L14 383.2M17.5 383.5L15.5 378.6M61.3 384.9L41.2 383.6M44.7 383.8L42.6 378.9M88.6 384.9L68.4 383.9M72 384.1L69.8 379.3M497.3 384.9L479.5 394.3M482.7 392.7L478.3 389.6M524.6 384.9L507.3 395.2M510.3 393.4L505.8 390.6" fill="none" stroke="#2a2a2a" stroke-width="1.2" stroke-linecap="butt"/>
</g>
<rect x="0" y="0" width="531.4" height="433.3" fill="none" stroke="#111" stroke-width="1.3"/>
<text x="-28.2" y="7.7" font-size="21.9" text-anchor="end" fill="#000" >200</text>
<text x="-28.2" y="117.4" font-size="21.9" text-anchor="end" fill="#000" >300</text>
<text x="-28.2" y="255.5" font-size="21.9" text-anchor="end" fill="#000" >500</text>
<text x="-28.2" y="346.5" font-size="21.9" text-anchor="end" fill="#000" >700</text>
<text x="-28.2" y="399" font-size="21.9" text-anchor="end" fill="#000" >850</text>
<text x="-28.2" y="421.9" font-size="21.9" text-anchor="end" fill="#000" >925</text>
<text x="557.8" y="36.1" font-size="20.6" text-anchor="start" fill="#000" >35</text>
<text x="557.8" y="94.9" font-size="20.6" text-anchor="start" fill="#000" >30</text>
<text x="557.8" y="153.5" font-size="20.6" text-anchor="start" fill="#000" >25</text>
<text x="557.8" y="212.7" font-size="20.6" text-anchor="start" fill="#000" >20</text>
<text x="557.8" y="271.4" font-size="20.6" text-anchor="start" fill="#000" >15</text>
<text x="557.8" y="330.2" font-size="20.6" text-anchor="start" fill="#000" >10</text>
<text x="557.8" y="389" font-size="20.6" text-anchor="start" fill="#000" >5</text>
<text x="557.8" y="435.3" font-size="20.6" text-anchor="start" fill="#000" >1</text>
<text x="0" y="478.4" font-size="21.9" text-anchor="middle" fill="#000" >113.0W</text>
<text x="-3.3" y="503" font-size="21.9" text-anchor="middle" fill="#000" >40.1N</text>
<text x="136.3" y="478.4" font-size="21.9" text-anchor="middle" fill="#000" >113.0W</text>
<text x="133" y="503" font-size="21.9" text-anchor="middle" fill="#000" >41.7N</text>
<text x="272.5" y="478.4" font-size="21.9" text-anchor="middle" fill="#000" >113.0W</text>
<text x="269.3" y="503" font-size="21.9" text-anchor="middle" fill="#000" >43.3N</text>
<text x="408.8" y="478.4" font-size="21.9" text-anchor="middle" fill="#000" >113.0W</text>
<text x="405.5" y="503" font-size="21.9" text-anchor="middle" fill="#000" >44.9N</text>
<path d="M-13.6 0L0 0M-13.6 109.7L0 109.7M-13.6 247.8L0 247.8M-13.6 338.8L0 338.8M-13.6 391.3L0 391.3M-13.6 414.2L0 414.2M531.4 28.8L545 28.8M531.4 87.6L545 87.6M531.4 146.2L545 146.2M531.4 205.3L545 205.3M531.4 264.1L545 264.1M531.4 322.9L545 322.9M531.4 381.7L545 381.7M531.4 428L545 428M0 433.3L0 446.9M136.3 433.3L136.3 446.9M272.5 433.3L272.5 446.9M408.8 433.3L408.8 446.9" fill="none" stroke="#111" stroke-width="1.3"/>
<text x="265.7" y="-10.9" font-size="34" text-anchor="middle" fill="#000" >Curtain 4 (C4)</text>
<rect x="448.3" y="442.2" width="83.2" height="66.5" fill="#fff" stroke="#888" stroke-width="1.2"/>
<text x="489.9" y="465.5" font-size="24.5" text-anchor="middle" fill="#000" >30 m/s</text>
<path d="M502.5 489L482.5 489" fill="none" stroke="#777" stroke-width="1.2"/>
<path d="M482.5 489L477.4 479.9M486.3 489L481.2 479.9M490 489L484.9 479.9" fill="none" stroke="#444" stroke-width="0.9"/>
</g>
<g transform="translate(256.8 1678)">
<clipPath id="cp5"><rect x="0" y="0" width="521.6" height="425.4"/></clipPath>
<g clip-path="url(#cp5)">
<rect x="0" y="0" width="521.6" height="425.4" fill="#0DA6FF"/>
<path d="M-6.5 -6.5 C13.5 -20.9 90.8 -5.4 113.5 -3.2 C136.2 -1.1 124.8 3.2 129.7 6.5 C134.5 9.7 139.2 12.4 142.6 16.2 C146.1 20 149.9 24.3 150.4 29.2 C151 34 148 39.4 145.9 45.4 C143.7 51.3 140.2 58.9 137.5 64.8 C134.7 70.8 132.6 76.7 129.7 81 C126.8 85.4 123.7 88.1 119.9 90.8 C116.2 93.5 111.6 95.9 107 97.3 C102.4 98.6 99.4 99.1 92.4 98.9 C85.4 98.6 73.5 97.3 64.8 95.6 C56.2 94 48.6 91 40.5 89.1 C32.4 87.3 23 85.3 16.2 84.3 C9.5 83.3 3.8 83.5 0 83.3 C-3.8 83.2 -5.4 98.3 -6.5 83.3 C-7.6 68.3 -26.5 7.9 -6.5 -6.5Z" fill="#38BCFF"/>
<path d="M-6.5 -6.5 C4.1 -17.9 44 -5.9 56.7 -3.2 C69.4 -0.5 62.9 5.9 69.7 9.7 C76.5 13.5 90 16.2 97.3 19.5 C104.5 22.7 109.7 26.7 113.5 29.2 C117.2 31.6 119.9 31.1 119.9 34 C119.9 37 115.9 43.5 113.5 47 C111 50.5 109.1 52.7 105.4 55.1 C101.6 57.5 97.5 60.2 90.8 61.6 C84 62.9 74.6 63.1 64.8 63.2 C55.1 63.3 43.2 61.9 32.4 62.2 C21.6 62.6 6.5 64.9 0 65.5 C-6.5 66 -5.4 77.5 -6.5 65.5 C-7.6 53.5 -17 5 -6.5 -6.5Z" fill="#40D1FF"/>
<path d="M-6.5 -6.5 C0.1 -15.9 25.8 -7 33.1 -3.2 C40.4 0.5 36 11.3 37.3 16.2 C38.5 21.1 41.3 22.4 40.5 25.9 C39.7 29.4 36.5 33.8 32.4 37.3 C28.4 40.8 21.6 44.3 16.2 47 C10.8 49.7 3.8 52.4 0 53.5 C-3.8 54.6 -5.4 63.5 -6.5 53.5 C-7.6 43.5 -13.1 3 -6.5 -6.5Z" fill="#40E7FF"/>
<path d="M-6.5 -6.5 C-3 -13.5 11.2 -8.4 14.6 -3.2 C17.9 1.9 16 17.3 13.6 24.3 C11.2 31.3 3.3 36.5 0 38.9 C-3.3 41.3 -5.4 46.5 -6.5 38.9 C-7.6 31.3 -10 0.5 -6.5 -6.5Z" fill="#40FCFF"/>
<path d="M333.9 -3.9 C299.3 -3.6 330.1 -1.4 324.2 0 C318.2 1.4 306.3 3.2 298.2 4.5 C290.1 5.9 281.9 7.1 275.6 8.1 C269.2 9.1 265.7 9.5 260.3 10.4 C254.9 11.3 248.7 12.3 243.1 13.6 C237.6 15 232.3 16.2 226.9 18.5 C221.5 20.8 215.4 23.9 210.7 27.6 C206.1 31.2 202.8 36.2 199 40.5 C195.3 44.8 192 50 188 53.5 C184 57 178.3 58.4 175.1 61.6 C171.8 64.8 170.2 68.9 168.6 72.9 C166.9 77 166.1 81.3 165 85.9 C163.9 90.5 163.7 96.2 161.8 100.5 C159.9 104.8 156.8 108.1 153.7 111.8 C150.5 115.6 147.2 119.9 142.6 123.2 C138.1 126.4 132.6 129 126.4 131.3 C120.2 133.6 111.3 136.3 105.4 136.8 C99.4 137.3 97.5 136 90.8 134.5 C84 133.1 73.2 130.2 64.8 128 C56.5 125.9 48.6 123.2 40.5 121.6 C32.4 119.9 23 119 16.2 118.3 C9.5 117.6 4.3 117.6 0 117.4 C-4.3 117.1 -8.1 104.9 -9.7 116.7 C-11.3 128.5 -11.3 176.1 -9.7 188 C-8.1 199.9 -7 186.9 0 188 C7 189.1 21.6 192.6 32.4 194.5 C43.2 196.4 54 197.2 64.8 199.4 C75.6 201.5 87.5 204.5 97.3 207.5 C107 210.4 115.1 213.7 123.2 217.2 C131.3 220.7 139.4 225.6 145.9 228.5 C152.4 231.5 157.2 233.2 162.1 235 C167 236.8 169.7 239.8 175.1 239.2 C180.5 238.7 186.9 235.5 194.5 231.8 C202.1 228.1 211.8 221.3 220.4 217.2 C229.1 213.1 237.2 209.6 246.4 207.5 C255.6 205.3 265.3 205.9 275.6 204.2 C285.8 202.6 297.2 200.2 308 197.7 C318.8 195.3 329.6 192.3 340.4 189.6 C351.2 186.9 364.7 184 372.8 181.5 C380.9 179.1 385.2 178.3 389 175.1 C392.8 171.8 393.1 165.4 395.5 162.1 C397.9 158.7 400.6 156 403.6 155 C406.6 153.9 412 152.3 413.3 155.6 C414.7 159 411.4 168.6 411.7 175.1 C412 181.5 413.3 189.1 414.9 194.5 C416.6 199.9 414.9 204 421.4 207.5 C427.9 211 443 213.4 453.8 215.6 C464.7 217.7 475 220.2 486.3 220.4 C497.6 220.7 514 217.8 521.6 217.2 C529.2 216.5 530 253 531.6 216.5 C533.3 180.1 564.6 35.1 531.6 -1.6 C498.7 -38.4 368.5 -4.2 333.9 -3.9Z" fill="#3B8EC2"/>
<path d="M-10 212.3 C-8.3 212.3 -7.1 211.8 0 212.3 C7.1 212.9 21.6 213.4 32.4 215.6 C43.2 217.7 54 221.3 64.8 225.3 C75.6 229.4 86.4 235.8 97.3 239.9 C108.1 243.9 118.9 246.6 129.7 249.6 C140.5 252.6 153.7 256.1 162.1 257.7 C170.5 259.3 172.7 260.7 180.2 259.3 C187.8 258 197 253.1 207.5 249.6 C218 246.1 231.8 241.2 243.1 238.3 C254.5 235.3 262 233.7 275.6 231.8 C289.1 229.9 308 228 324.2 226.9 C340.4 225.8 356.6 225.3 372.8 225.3 C389 225.3 405.2 225.8 421.4 226.9 C437.6 228 453.4 231 470.1 231.8 C486.8 232.6 511.3 231.8 521.6 231.8 C531.9 231.8 529.9 231.8 531.6 231.8 L531.6 430.4 L-10 430.4 Z" fill="#38BCFF"/>
<path d="M-10 285.3 C-8.3 285.3 -7.1 285.5 0 285.3 C7.1 285 21.6 284.3 32.4 283.7 C43.2 283 54 282.2 64.8 281.4 C75.6 280.6 86.4 279.8 97.3 278.8 C108.1 277.8 118.9 277.2 129.7 275.6 C140.5 273.9 153.7 271.1 162.1 269.1 C170.5 267.1 168.4 266 180.2 263.6 C192.1 261.1 217.2 256.7 233.1 254.5 C249 252.3 261 251.4 275.6 250.3 C290.1 249.1 306.1 248.5 320.3 247.7 C334.4 246.9 348.5 246.1 360.5 245.4 C372.5 244.7 376.3 244.3 392.3 243.5 C408.2 242.6 434.6 240.9 456.1 240.5 C477.7 240.2 509 241.3 521.6 241.5 C534.2 241.7 529.9 241.5 531.6 241.5 L531.6 430.4 L-10 430.4 Z" fill="#40D1FF"/>
<path d="M-10 303.1 C-8.3 303.1 -7.1 303.5 0 303.1 C7.1 302.7 21.6 301.8 32.4 300.8 C43.2 299.9 54 298.8 64.8 297.6 C75.6 296.4 86.4 294.9 97.3 293.4 C108.1 291.9 118.9 290.4 129.7 288.5 C140.5 286.6 153.7 283.7 162.1 282 C170.5 280.4 168.4 281.1 180.2 278.5 C192.1 275.9 217.2 269 233.1 266.5 C249 264 261 264.6 275.6 263.6 C290.1 262.5 306.1 261.4 320.3 260.3 C334.4 259.2 348.5 258.2 360.5 257.1 C372.5 256 376.3 255.2 392.3 253.8 C408.2 252.4 434.6 249.1 456.1 248.6 C477.7 248.2 509 250.8 521.6 251.2 C534.2 251.7 529.9 251.2 531.6 251.2 L531.6 430.4 L-10 430.4 Z" fill="#40E7FF"/>
<path d="M-10 312.8 C-8.3 312.8 -7.1 313.2 0 312.8 C7.1 312.5 21.6 311.5 32.4 310.6 C43.2 309.6 54 308.6 64.8 307.3 C75.6 306.1 86.4 304.6 97.3 303.1 C108.1 301.6 118.9 300.1 129.7 298.2 C140.5 296.4 153.7 293.5 162.1 291.8 C170.5 290 168.4 290.3 180.2 287.9 C192.1 285.4 217.2 279 233.1 277.2 C249 275.4 261 277.7 275.6 277.2 C290.1 276.6 306.1 275.5 320.3 273.9 C334.4 272.4 348.5 269.5 360.5 267.8 C372.5 266 376.3 265.5 392.3 263.6 C408.2 261.6 434.6 257 456.1 256.1 C477.7 255.2 509 257.7 521.6 258 C534.2 258.4 529.9 258 531.6 258 L531.6 430.4 L-10 430.4 Z" fill="#40FCFF"/>
<path d="M-10 320.9 C-8.3 320.9 -7.1 321.2 0 320.9 C7.1 320.7 21.6 320.1 32.4 319.3 C43.2 318.6 54 317.6 64.8 316.4 C75.6 315.2 86.4 313.5 97.3 311.9 C108.1 310.2 118.9 308.5 129.7 306.3 C140.5 304.2 153.7 300.9 162.1 298.9 C170.5 296.9 168.4 296.7 180.2 294.4 C192.1 292 217.2 285.2 233.1 284.6 C249 284.1 261 289.7 275.6 291.1 C290.1 292.5 306.1 294.5 320.3 293.1 C334.4 291.7 348.5 285.9 360.5 282.7 C372.5 279.5 376.3 277.3 392.3 273.9 C408.2 270.5 434.6 263.8 456.1 262.3 C477.7 260.7 509 264.1 521.6 264.5 C534.2 264.9 529.9 264.5 531.6 264.5 L531.6 430.4 L-10 430.4 Z" fill="#40FFDB"/>
<path d="M-10 325.8 C-8.3 325.8 -7.1 326.1 0 325.8 C7.1 325.5 21.6 324.9 32.4 324.2 C43.2 323.5 54 322.7 64.8 321.6 C75.6 320.5 86.4 319.3 97.3 317.7 C108.1 316.1 118.9 314.1 129.7 311.9 C140.5 309.6 153.7 306.1 162.1 304.1 C170.5 302 168.4 301.9 180.2 299.5 C192.1 297.2 220.7 291.2 233.1 290.1 C245.5 289.1 247.4 291.8 254.5 293.4 C261.6 295 268.5 297.7 275.6 299.9 C282.6 302 289.5 305 296.9 306.3 C304.4 307.7 313.2 309.3 320.3 308 C327.4 306.6 332.7 301.2 339.4 298.2 C346.1 295.3 351.7 292.6 360.5 290.1 C369.3 287.7 382.1 286.1 392.3 283.7 C402.4 281.2 410.8 278.4 421.4 275.6 C432.1 272.7 445 268.7 456.1 266.8 C467.2 264.9 477 263.9 487.9 264.2 C498.8 264.5 514.3 267.7 521.6 268.4 C528.9 269.1 529.9 268.4 531.6 268.4 L531.6 430.4 L-10 430.4 Z" fill="#40FFA2"/>
<path d="M-10 330.7 C-8.3 330.7 -7.1 330.9 0 330.7 C7.1 330.4 21.6 329.7 32.4 329 C43.2 328.4 54 327.9 64.8 326.8 C75.6 325.7 86.4 324.2 97.3 322.6 C108.1 320.9 118.9 319.4 129.7 317 C140.5 314.7 153.7 310.8 162.1 308.6 C170.5 306.4 173.7 305.3 180.2 303.8 C186.8 302.2 194.2 300.9 201.3 299.5 C208.4 298.1 217 296 222.7 295.3 C228.4 294.6 230.1 293.9 235.4 295.3 C240.6 296.7 247.8 300.6 254.5 303.8 C261.2 306.9 268.5 310.9 275.6 314.5 C282.6 318 290.9 322.3 296.9 325.1 C303 328 307.3 330.3 311.9 331.3 C316.5 332.3 319.9 333.1 324.5 331.3 C329.1 329.5 333.4 324.8 339.4 320.6 C345.4 316.4 353.4 310.6 360.5 306 C367.6 301.4 374.8 296.6 381.9 293.1 C389 289.5 395.9 287.3 403 284.6 C410 282 416.9 279.1 424 277.2 C431.1 275.2 438.3 274.4 445.4 273 C452.5 271.6 459.4 269.6 466.5 268.7 C473.6 267.9 478.7 267.2 487.9 267.8 C497.1 268.3 514.3 271.3 521.6 272 C528.9 272.7 529.9 272 531.6 272 L531.6 430.4 L-10 430.4 Z" fill="#40FF4C"/>
<path d="M-10 340.4 C-8.3 340.4 -7.1 340.9 0 340.4 C7.1 339.8 21.6 338.2 32.4 337.1 C43.2 336.1 54 335 64.8 333.9 C75.6 332.8 86.4 332 97.3 330.7 C108.1 329.3 118.9 327.9 129.7 325.8 C140.5 323.7 153.7 320.4 162.1 318.3 C170.5 316.3 173.7 315.2 180.2 313.5 C186.8 311.7 194.2 309.6 201.3 308 C208.4 306.3 216.7 304.6 222.7 303.8 C228.8 302.9 232.3 301.7 237.6 302.8 C242.9 303.9 248.2 306.5 254.5 310.2 C260.8 314 268.5 320.2 275.6 325.1 C282.6 330.1 290.9 335.7 296.9 339.7 C303 343.8 308 347.3 311.9 349.5 C315.7 351.6 316.8 353.9 320.3 352.7 C323.8 351.5 328 345.9 332.9 342 C337.8 338.1 343.4 333.3 349.8 329.4 C356.2 325.5 364.1 321.7 371.2 318.7 C378.3 315.6 386.6 313.7 392.3 311.2 C397.9 308.7 401.7 306.8 405.2 303.8 C408.8 300.7 408.7 297.1 413.6 293.1 C418.6 289 427.6 282.6 434.7 279.4 C441.8 276.3 449 275.3 456.1 273.9 C463.2 272.5 470.1 271.4 477.2 271 C484.3 270.6 491.2 271 498.6 271.7 C506 272.4 516.1 274.6 521.6 275.2 C527.1 275.8 529.9 275.2 531.6 275.2 L531.6 430.4 L-10 430.4 Z" fill="#65FF40"/>
<path d="M-5 430.4 L-5 409.1 L53.5 409.1 L53.5 404.6 L66.5 404.6 L66.5 400.4 L81 400.4 L81 392.3 L107 392.3 L107 387.4 L119.9 387.4 L119.9 382.5 L147.5 382.5 L147.5 377.7 L160.5 377.7 L160.5 372.2 L187.7 372.2 L187.7 364.4 L226.9 364.4 L226.9 356.6 L282 356.6 L282 364.7 L307.3 364.7 L307.3 372.2 L335.2 372.2 L335.2 377 L361.5 377 L361.5 372.2 L414.6 372.2 L414.6 364.4 L441.2 364.4 L441.2 356.6 L468.8 356.6 L468.8 347.8 L509 347.8 L509 356.3 L526.6 356.3 L526.6 430.4 Z" fill="#fff"/>
<path d="M6.7 25.9L-3.7 42.8M-3.7 42.8L-13.6 42M-1.9 39.8L-11.7 39M-0 36.8L-9.9 36M1.8 33.8L-3.4 33.4M33.4 25.9L22.3 42.3M22.3 42.3L12.5 41.1M24.3 39.4L14.5 38.2M26.3 36.5L16.4 35.3M28.2 33.6L23.1 33M60.2 25.9L48.4 41.8M48.4 41.8L38.6 40.2M50.5 39L40.7 37.4M52.6 36.2L42.8 34.6M54.6 33.4L49.5 32.5M86.9 25.9L74.5 41.3M74.5 41.3L64.8 39.3M76.7 38.6L67 36.6M78.9 35.9L69.2 33.8M113.7 25.9L100.6 40.7M100.6 40.7L91 38.3M102.9 38.1L93.3 35.7M105.2 35.5L95.6 33.1M140.4 25.9L126.7 40.2M126.7 40.2L117.2 37.3M129.1 37.6L119.6 34.8M131.6 35.1L122.1 32.3M167.2 25.9L152.8 39.6M152.8 39.6L143.5 36.3M155.4 37.2L146 33.9M157.9 34.7L148.6 31.5M193.9 25.9L179 38.9M179 38.9L169.8 35.3M181.7 36.6L172.5 33M184.3 34.3L175.1 30.7M220.7 25.9L205.2 38.3M205.2 38.3L196.2 34.2M208 36.1L198.9 32.1M210.7 33.9L201.6 29.9M247.4 25.9L231.5 37.6M231.5 37.6L222.6 33.2M234.3 35.5L225.4 31.1M237.1 33.5L228.2 29M274.2 25.9L257.8 37M257.8 37L249.1 32.3M260.7 35.1L252 30.3M263.6 33.1L259 30.6M300.9 25.9L284.2 36.5M284.2 36.5L275.7 31.5M287.2 34.6L278.6 29.6M290.1 32.8L285.6 30.1M327.7 25.9L310.6 36M310.6 36L302.3 30.7M313.6 34.2L305.3 28.9M316.7 32.4L312.3 29.7M354.4 25.9L337.1 35.5M337.1 35.5L328.9 30M340.2 33.8L331.9 28.3M343.2 32.1L338.9 29.2M381.2 25.9L363.6 34.9M363.6 34.9L355.5 29.2M366.7 33.3L358.6 27.6M369.8 31.8L365.6 28.7M407.9 25.9L390 34.4M390 34.4L382.2 28.4M393.2 32.9L385.3 26.9M396.4 31.4L392.2 28.2M434.7 25.9L416.5 33.9M416.5 33.9L408.9 27.6M419.7 32.5L412.1 26.2M461.4 25.9L443 33.3M443 33.3L435.6 26.8M446.3 32L438.8 25.5M488.2 25.9L469.6 32.7M469.6 32.7L462.3 26M472.9 31.5L465.6 24.8M514.9 25.9L496.1 32.2M496.1 32.2L489.1 25.2M499.4 31.1L492.4 24.1M6.7 69.1L-4 85.8M-4 85.8L-13.8 84.9M-2.1 82.9L-12 81.9M-0.2 79.9L-10.1 79M1.7 77L-3.5 76.5M33.4 69.1L22.1 85.4M22.1 85.4L12.3 84M24.1 82.5L14.3 81.1M26.1 79.6L16.3 78.3M60.2 69.1L48.1 84.9M48.1 84.9L38.4 83.1M50.3 82.1L40.5 80.3M52.4 79.3L42.7 77.5M86.9 69.1L74.2 84.3M74.2 84.3L64.6 82.2M76.5 81.7L66.8 79.5M78.7 79L69.1 76.8M113.7 69.1L100.3 83.8M100.3 83.8L90.8 81.2M102.7 81.2L93.1 78.6M105.1 78.6L95.5 76M140.4 69.1L126.5 83.2M126.5 83.2L117.1 80.2M129 80.7L119.5 77.7M131.4 78.2L122 75.3M167.2 69.1L152.7 82.6M152.7 82.6L143.4 79.2M155.2 80.2L145.9 76.8M157.8 77.8L148.5 74.5M193.9 69.1L178.8 82M178.8 82L169.7 78.2M181.5 79.7L172.4 75.9M184.2 77.4L179.4 75.5M220.7 69.1L205.1 81.3M205.1 81.3L196.1 77.2M207.8 79.2L198.8 75M210.6 77L205.9 74.8M247.4 69.1L231.3 80.7M231.3 80.7L222.5 76.1M234.2 78.6L225.4 74.1M237 76.6L232.4 74.2M274.2 69.1L257.7 80.1M257.7 80.1L249 75.2M260.6 78.1L251.9 73.3M263.5 76.2L259 73.7M300.9 69.1L284.1 79.6M284.1 79.6L275.6 74.5M287.1 77.8L278.6 72.7M290.1 75.9L285.6 73.2M327.7 69.1L310.6 79.1M310.6 79.1L302.2 73.8M313.6 77.4L305.2 72M316.6 75.6L312.2 72.8M354.4 69.1L337 78.6M337 78.6L328.9 73.1M340.1 77L331.9 71.4M343.2 75.3L338.9 72.4M381.2 69.1L363.5 78.1M363.5 78.1L355.5 72.3M366.6 76.6L358.6 70.8M407.9 69.1L390 77.6M390 77.6L382.2 71.6M393.2 76.1L385.3 70.1M434.7 69.1L416.5 77.1M416.5 77.1L408.9 70.9M419.7 75.7L412.1 69.5M461.4 69.1L443.1 76.6M443.1 76.6L435.6 70.2M446.3 75.3L438.8 68.8M488.2 69.1L469.6 76.1M469.6 76.1L462.3 69.4M472.9 74.9L465.6 68.2M514.9 69.1L496.2 75.6M496.2 75.6L489 68.7M499.5 74.4L492.4 67.6M6.7 112L-4.3 128.5M-4.3 128.5L-14.1 127.4M-2.3 125.6L-12.2 124.5M-0.4 122.7L-10.2 121.6M33.4 112L21.8 128.1M21.8 128.1L12 126.6M23.9 125.2L14.1 123.7M25.9 122.4L16.1 120.9M60.2 112L47.9 127.6M47.9 127.6L38.2 125.6M50.1 124.8L40.4 122.9M52.2 122.1L42.5 120.2M86.9 112L74 127M74 127L64.4 124.7M76.3 124.4L66.7 122.1M78.6 121.7L68.9 119.4M113.7 112L100.1 126.5M100.1 126.5L90.6 123.8M102.5 123.9L93 121.2M104.9 121.4L99.9 119.9M140.4 112L126.3 125.9M126.3 125.9L116.9 122.8M128.8 123.4L119.4 120.3M131.3 121L126.4 119.4M167.2 112L152.5 125.3M152.5 125.3L143.2 121.8M155.1 123L145.8 119.4M157.7 120.6L152.8 118.8M193.9 112L178.7 124.7M178.7 124.7L169.6 120.8M181.4 122.4L172.3 118.5M184.1 120.2L179.3 118.2M220.7 112L204.9 124M204.9 124L196 119.7M207.7 121.9L198.8 117.6M210.5 119.8L205.8 117.5M247.4 112L231.2 123.3M231.2 123.3L222.4 118.7M234 121.3L225.3 116.7M236.9 119.3L232.3 116.9M274.2 112L257.5 122.8M257.5 122.8L249 117.8M260.5 120.9L251.9 115.9M263.4 119L258.9 116.4M300.9 112L284 122.3M284 122.3L275.6 117.2M287 120.5L278.6 115.4M327.7 112L310.5 121.9M310.5 121.9L302.2 116.5M313.5 120.2L305.2 114.8M354.4 112L337 121.4M337 121.4L328.8 115.8M340.1 119.8L331.9 114.2M381.2 112L363.5 121M363.5 121L355.5 115.2M366.6 119.4L358.6 113.6M407.9 112L390 120.5M390 120.5L382.2 114.5M393.2 119L385.3 113M434.7 112L416.6 120.1M416.6 120.1L408.9 113.8M419.8 118.6L412.1 112.4M461.4 112L443.1 119.6M443.1 119.6L435.6 113.2M446.3 118.2L438.8 111.8M488.2 112L469.7 119.1M469.7 119.1L462.3 112.5M472.9 117.8L469.1 114.4M514.9 112L496.2 118.6M496.2 118.6L489 111.8M499.5 117.4L495.8 113.9M6.7 146.8L-4.5 163.1M-4.5 163.1L-14.3 161.9M-2.5 160.2L-12.3 159M-0.5 157.3L-10.4 156.1M33.4 146.8L21.6 162.6M21.6 162.6L11.8 161M23.7 159.8L13.9 158.2M25.8 157L16 155.4M60.2 146.8L47.7 162.1M47.7 162.1L38 160.1M49.9 159.4L40.2 157.4M52.1 156.7L47 155.6M86.9 146.8L73.8 161.6M73.8 161.6L64.2 159.1M76.1 159L66.5 156.5M78.5 156.3L73.4 155.1M113.7 146.8L100 161M100 161L90.5 158.2M102.4 158.5L92.9 155.7M104.8 156L99.8 154.5M140.4 146.8L126.1 160.4M126.1 160.4L116.8 157.2M128.7 158L119.3 154.8M131.2 155.6L126.3 153.9M167.2 146.8L152.3 159.8M152.3 159.8L143.1 156.2M154.9 157.5L145.7 153.9M157.6 155.2L152.7 153.3M193.9 146.8L178.5 159.2M178.5 159.2L169.5 155.2M181.3 157L172.2 153M184 154.8L179.2 152.7M220.7 146.8L204.8 158.6M204.8 158.6L195.9 154.2M207.6 156.5L198.7 152.1M247.4 146.8L231.1 157.9M231.1 157.9L222.4 153.2M233.9 155.9L225.3 151.2M274.2 146.8L257.4 157.3M257.4 157.3L248.9 152.3M260.4 155.5L251.9 150.5M300.9 146.8L283.9 156.9M283.9 156.9L275.5 151.7M286.9 155.1L278.5 149.9M327.7 146.8L310.4 156.5M310.4 156.5L302.2 151.1M313.5 154.8L305.2 149.4M354.4 146.8L337 156.1M337 156.1L328.8 150.5M340 154.4L331.9 148.8M381.2 146.8L363.5 155.7M363.5 155.7L355.5 149.8M366.6 154.1L358.6 148.3M407.9 146.8L390 155.2M390 155.2L382.2 149.2M393.2 153.7L385.3 147.7M434.7 146.8L416.6 154.8M416.6 154.8L408.9 148.6M419.8 153.4L415.7 150.1M461.4 146.8L443.1 154.3M443.1 154.3L435.6 147.9M446.4 153L442.4 149.6M488.2 146.8L469.7 153.9M469.7 153.9L462.3 147.3M473 152.6L469.1 149.2M514.9 146.8L496.3 153.4M496.3 153.4L489 146.7M499.6 152.3L495.8 148.7M6.7 173.7L-4.7 189.9M-4.7 189.9L-14.5 188.6M-2.7 187L-12.5 185.7M-0.7 184.2L-5.8 183.5M33.4 173.7L21.4 189.4M21.4 189.4L11.7 187.7M23.5 186.6L13.8 184.9M25.7 183.9L20.6 182.9M60.2 173.7L47.5 188.9M47.5 188.9L37.9 186.8M49.8 186.2L40.1 184.1M52 183.5L46.9 182.4M86.9 173.7L73.7 188.4M73.7 188.4L64.1 185.8M76 185.8L66.4 183.2M78.4 183.2L73.3 181.9M113.7 173.7L99.8 187.8M99.8 187.8L90.4 184.9M102.3 185.3L92.8 182.4M104.7 182.8L99.8 181.3M140.4 173.7L126 187.2M126 187.2L116.7 183.9M128.6 184.8L119.2 181.5M131.1 182.4L126.2 180.7M167.2 173.7L152.2 186.6M152.2 186.6L143 182.9M154.9 184.3L145.7 180.6M157.5 182.1L152.7 180.1M193.9 173.7L178.4 186M178.4 186L169.4 181.9M181.2 183.8L172.1 179.8M220.7 173.7L204.7 185.4M204.7 185.4L195.8 180.9M207.5 183.3L198.7 178.9M247.4 173.7L231 184.7M231 184.7L222.3 179.9M233.9 182.7L225.2 177.9M274.2 173.7L257.4 184.2M257.4 184.2L248.9 179.1M260.3 182.3L251.8 177.2M300.9 173.7L283.9 183.8M283.9 183.8L275.5 178.5M286.9 182L278.5 176.7M327.7 173.7L310.4 183.4M310.4 183.4L302.1 177.9M313.5 181.7L305.2 176.2M354.4 173.7L336.9 183M336.9 183L328.8 177.3M340 181.3L331.9 175.7M381.2 173.7L363.5 182.6M363.5 182.6L355.5 176.7M366.6 181L358.6 175.1M407.9 173.7L390 182.1M390 182.1L382.2 176.1M393.2 180.7L389.1 177.5M434.7 173.7L416.6 181.7M416.6 181.7L408.9 175.5M419.8 180.3L415.7 177.1M461.4 173.7L443.1 181.3M443.1 181.3L435.6 174.9M446.4 180L442.4 176.6M488.2 173.7L469.7 180.9M469.7 180.9L462.3 174.3M473 179.6L469.1 176.2M514.9 173.7L496.3 180.5M496.3 180.5L489 173.7M499.6 179.3L495.8 175.7M6.7 197.4L-4.8 213.5M-4.8 213.5L-14.6 212.1M-2.8 210.6L-12.6 209.2M-0.8 207.8L-5.9 207M33.4 197.4L21.3 213M21.3 213L11.6 211.2M23.4 210.2L13.7 208.4M25.6 207.5L20.5 206.5M60.2 197.4L47.4 212.5M47.4 212.5L37.8 210.3M49.7 209.8L40 207.6M51.9 207.1L46.9 206M86.9 197.4L73.5 212M73.5 212L64 209.3M75.9 209.4L66.4 206.8M78.3 206.8L73.3 205.4M113.7 197.4L99.7 211.4M99.7 211.4L90.3 208.4M102.2 208.9L92.7 205.9M104.6 206.4L99.7 204.9M140.4 197.4L125.9 210.8M125.9 210.8L116.6 207.4M128.5 208.4L119.2 205M167.2 197.4L152.1 210.2M152.1 210.2L142.9 206.4M154.8 207.9L145.6 204.2M193.9 197.4L178.3 209.6M178.3 209.6L169.3 205.4M181.1 207.4L172.1 203.3M220.7 197.4L204.6 208.9M204.6 208.9L195.8 204.4M207.4 206.9L198.6 202.4M247.4 197.4L230.9 208.3M230.9 208.3L222.3 203.4M233.8 206.3L225.2 201.5M274.2 197.4L257.3 207.7M257.3 207.7L248.8 202.6M260.3 205.9L251.8 200.8M300.9 197.4L283.8 207.4M283.8 207.4L275.5 202.1M286.9 205.6L278.5 200.3M327.7 197.4L310.4 207M310.4 207L302.1 201.5M313.4 205.3L305.2 199.8M354.4 197.4L336.9 206.6M336.9 206.6L328.8 200.9M340 205L335.7 202M381.2 197.4L363.5 206.2M363.5 206.2L355.5 200.4M366.6 204.7L362.4 201.6M407.9 197.4L390 205.8M390 205.8L382.2 199.8M393.2 204.3L389.1 201.2M434.7 197.4L416.6 205.4M416.6 205.4L408.9 199.2M419.8 204L415.7 200.8M461.4 197.4L443.2 205M443.2 205L435.6 198.7M446.4 203.7L442.4 200.3M488.2 197.4L469.7 204.6M469.7 204.6L462.3 198.1M473 203.4L469.1 199.9M514.9 197.4L496.3 204.2M496.3 204.2L489 197.5M499.6 203L495.8 199.5M6.7 220L-5 236M-5 236L-14.7 234.5M-2.9 233.2L-12.7 231.6M-0.8 230.3L-6 229.5M33.4 220L21.1 235.5M21.1 235.5L11.4 233.6M23.3 232.8L13.6 230.8M25.5 230L20.4 229M60.2 220L47.3 235M47.3 235L37.6 232.7M49.5 232.3L39.9 230M51.8 229.7L46.8 228.5M86.9 220L73.4 234.4M73.4 234.4L63.9 231.7M75.8 231.9L66.3 229.2M113.7 220L99.6 233.9M99.6 233.9L90.2 230.8M102.1 231.4L92.7 228.3M140.4 220L125.8 233.3M125.8 233.3L116.5 229.8M128.3 230.9L119.1 227.4M167.2 220L152 232.7M152 232.7L142.9 228.8M154.7 230.4L145.5 226.5M193.9 220L178.2 232M178.2 232L169.3 227.8M181 229.9L172 225.6M220.7 220L204.5 231.4M204.5 231.4L195.7 226.8M207.3 229.4L198.6 224.7M247.4 220L230.8 230.7M230.8 230.7L222.2 225.7M233.7 228.8L225.1 223.8M274.2 220L257.2 230.1M257.2 230.1L248.8 224.8M260.2 228.3L255.8 225.6M300.9 220L283.6 229.6M283.6 229.6L275.4 224.2M286.7 227.9L282.4 225.1M327.7 220L310.1 229.2M310.1 229.2L302 223.5M313.2 227.5L309 224.5M354.4 220L336.6 228.7M336.6 228.7L328.7 222.8M339.8 227.1L335.6 224M381.2 220L363.2 228.2M363.2 228.2L355.4 222.1M366.3 226.7L362.3 223.5M407.9 220L389.7 227.7M389.7 227.7L382.1 221.4M392.9 226.3L388.9 223M434.7 220L416.2 227.2M416.2 227.2L408.8 220.7M419.5 225.9L415.6 222.5M461.4 220L442.8 226.7M442.8 226.7L435.5 219.9M446.1 225.5L442.3 222M488.2 220L469.4 226.2M469.4 226.2L462.3 219.2M472.7 225.1L469 221.4M514.9 220L495.9 225.7M495.9 225.7L489.1 218.5M6.7 240.1L-5.1 256M-5.1 256L-14.9 254.4M-3 253.2L-12.8 251.6M-0.9 250.4L-6.1 249.5M33.4 240.1L21 255.5M21 255.5L11.3 253.5M23.2 252.8L13.5 250.8M25.4 250L20.3 249M60.2 240.1L47.1 254.9M47.1 254.9L37.5 252.5M49.4 252.3L39.8 249.9M86.9 240.1L73.2 254.4M73.2 254.4L63.8 251.6M75.7 251.9L66.2 249M113.7 240.1L99.4 253.8M99.4 253.8L90 250.6M101.9 251.4L92.6 248.1M140.4 240.1L125.6 253.2M125.6 253.2L116.4 249.6M128.2 250.9L119 247.2M167.2 240.1L151.8 252.5M151.8 252.5L142.7 248.5M154.5 250.3L145.5 246.3M193.9 240.1L178 251.9M178 251.9L169.1 247.5M180.8 249.8L176.2 247.5M220.7 240.1L204.3 251.2M204.3 251.2L195.6 246.4M207.2 249.2L202.6 246.7M247.4 240.1L230.6 250.5M230.6 250.5L222.1 245.4M233.6 248.7L229.1 246M274.2 240.1L256.9 249.8M256.9 249.8L248.7 244.4M260 248.1L255.6 245.3M300.9 240.1L283.4 249.3M283.4 249.3L275.3 243.5M286.5 247.6L282.2 244.6M327.7 240.1L309.8 248.7M309.8 248.7L301.9 242.7M313 247.1L308.8 244M354.4 240.1L336.3 248M336.3 248L328.6 241.8M339.5 246.6L335.5 243.4M381.2 240.1L362.8 247.4M362.8 247.4L355.3 240.9M366 246.1L362.1 242.7M407.9 240.1L389.3 246.8M389.3 246.8L382 240M392.6 245.6L388.8 242.1M434.7 240.1L415.8 246.2M415.8 246.2L408.8 239.2M419.2 245.1L415.5 241.4M461.4 240.1L442.4 245.5M442.4 245.5L435.6 238.3M488.2 240.1L469 244.9M469 244.9L462.4 237.4M514.9 240.1L495.5 244.2M495.5 244.2L489.3 236.5M6.7 258.1L-5.2 273.9M-5.2 273.9L-15 272.2M-3.1 271.1L-12.9 269.4M-1 268.3L-6.1 267.4M33.4 258.1L20.9 273.4M20.9 273.4L11.2 271.3M23.1 270.7L13.4 268.6M60.2 258.1L47 272.8M47 272.8L37.4 270.3M49.3 270.2L39.7 267.7M86.9 258.1L73.1 272.2M73.1 272.2L63.6 269.3M75.5 269.7L66.1 266.8M113.7 258.1L99.3 271.6M99.3 271.6L89.9 268.3M101.8 269.2L92.5 265.9M140.4 258.1L125.4 271M125.4 271L116.3 267.3M128.1 268.7L118.9 265M167.2 258.1L151.6 270.3M151.6 270.3L142.6 266.2M154.4 268.1L149.7 266M193.9 258.1L177.9 269.6M177.9 269.6L169 265.1M180.7 267.6L176.1 265.2M220.7 258.1L204.1 268.9M204.1 268.9L195.5 264.1M207.1 267L202.5 264.5M247.4 258.1L230.4 268.2M230.4 268.2L222 263M233.4 266.4L229 263.7M274.2 258.1L256.8 267.5M256.8 267.5L248.6 261.9M259.8 265.8L255.6 262.9M300.9 258.1L283.1 266.8M283.1 266.8L275.2 260.9M286.3 265.2L282.1 262.1M327.7 258.1L309.6 266M309.6 266L301.9 259.8M312.8 264.6L308.7 261.4M354.4 258.1L336 265.3M336 265.3L328.6 258.7M339.2 264L335.3 260.6M381.2 258.1L362.5 264.5M362.5 264.5L355.3 257.7M365.8 263.4L362 259.8M407.9 258.1L389 263.8M389 263.8L382.1 256.6M434.7 258.1L415.5 263M415.5 263L408.9 255.6M461.4 258.1L442.1 262.2M442.1 262.2L435.8 254.5M488.2 258.1L468.7 261.4M468.7 261.4L462.7 253.5M514.9 258.1L495.3 260.6M495.3 260.6L489.7 252.5M6.7 278.4L-5.3 294.1M-5.3 294.1L-15.1 292.3M-3.2 291.3L-13 289.6M33.4 278.4L20.7 293.5M20.7 293.5L11.1 291.4M23 290.9L13.3 288.7M60.2 278.4L46.8 293M46.8 293L37.3 290.4M49.2 290.4L39.6 287.8M86.9 278.4L72.9 292.4M72.9 292.4L63.5 289.3M75.4 289.9L70.5 288.3M113.7 278.4L99.1 291.7M99.1 291.7L89.8 288.3M101.7 289.4L96.8 287.6M140.4 278.4L125.3 291.1M125.3 291.1L116.1 287.2M127.9 288.8L123.1 286.8M167.2 278.4L151.5 290.4M151.5 290.4L142.5 286.2M154.2 288.3L149.5 286M193.9 278.4L177.7 289.7M177.7 289.7L168.9 285.1M220.7 278.4L204 289M204 289L195.4 284M247.4 278.4L230.3 288.2M233.3 286.5L228.9 283.6M274.2 278.4L256.6 287.4M259.7 285.8L255.5 282.8M300.9 278.4L282.9 286.5M282.9 286.5L275.1 280.4M327.7 278.4L309.3 285.6M309.3 285.6L301.8 279.1M354.4 278.4L335.7 284.7M335.7 284.7L328.6 277.9M381.2 278.4L362.1 283.8M362.1 283.8L355.4 276.6M407.9 278.4L388.6 282.9M388.6 282.9L382.2 275.3M434.7 278.4L415.2 281.9M415.2 281.9L409.2 274.1M461.4 278.4L441.8 281M445.3 280.5L442.3 276.2M488.2 278.4L468.4 280M471.9 279.7L469.2 275.3M514.9 278.4L495.1 279M498.6 278.9L496.1 274.4M6.7 293.7L-5.4 309.4M-5.4 309.4L-15.1 307.6M-3.3 306.6L-13 304.9M33.4 293.7L20.6 308.8M20.6 308.8L11 306.6M22.9 306.2L13.3 303.9M60.2 293.7L46.7 308.2M46.7 308.2L37.2 305.5M49.1 305.6L44.1 304.2M86.9 293.7L72.8 307.6M72.8 307.6L63.4 304.4M75.3 305.1L70.3 303.5M113.7 293.7L98.9 306.9M98.9 306.9L89.6 303.3M101.5 304.5L96.6 302.7M140.4 293.7L125 306.2M125 306.2L116 302.1M127.7 304L123 301.8M167.2 293.7L151.2 305.4M154 303.3L149.4 301M193.9 293.7L177.4 304.6M180.3 302.7L175.8 300.2M220.7 293.7L203.7 303.9M206.7 302.1L202.3 299.3M247.4 293.7L230 303M233 301.4L228.8 298.4M274.2 293.7L256.3 302.2M259.4 300.7L255.3 297.5M300.9 293.7L282.6 301.2M285.8 299.9L281.9 296.5M327.7 293.7L309 300.3M312.3 299.1L308.5 295.5M354.4 293.7L335.4 299.3M338.8 298.3L335.2 294.5M381.2 293.7L361.9 298.3M365.3 297.5L361.9 293.5M407.9 293.7L388.4 297.3M391.9 296.7L388.7 292.5M434.7 293.7L415 296.3M418.5 295.8L415.5 291.6M461.4 293.7L441.7 295.3M445.2 295L442.4 290.6M488.2 293.7L468.4 294.2M471.9 294.2L469.4 289.6M514.9 293.7L495.1 293.2M498.6 293.3L496.4 288.6M20.1 309.1L7.6 324.4M7.6 324.4L-2.1 322.4M9.8 321.7L4.7 320.7M46.8 309.1L33.4 323.7M33.4 323.7L23.9 321M35.8 321.1L30.8 319.7M73.6 309.1L59.3 322.8M59.3 322.8L49.9 319.6M61.8 320.4L56.9 318.7M100.3 309.1L85.2 321.9M87.9 319.6L83.1 317.7M127.1 309.1L111.2 321M114 318.9L109.3 316.6M153.8 309.1L137.3 320M140.2 318.1L135.7 315.5M180.6 309.1L163.4 319M166.4 317.2L162.1 314.4M207.3 309.1L189.6 317.9M192.7 316.3L188.5 313.3M234.1 309.1L215.8 316.8M219 315.4L215 312.1M260.8 309.1L242.1 315.7M245.4 314.5L241.6 310.9M287.5 309.1L268.6 314.9M272 313.9L268.3 310.2M314.3 309.1L295.2 314.2M298.5 313.3L295.1 309.4M341 309.1L321.7 313.4M325.1 312.6L321.8 308.6M367.8 309.1L348.3 312.6M351.8 312L348.6 307.9M394.5 309.1L374.9 311.8M378.4 311.3L375.4 307.1M421.3 309.1L401.6 311M405.1 310.7L402.2 306.3M448 309.1L428.3 310.2M431.8 310L429.1 305.6M474.8 309.1L455 309.4M458.5 309.4L456 304.8M501.5 309.1L481.7 308.7M485.2 308.7L483 304.1M6.7 324.1L-5.3 339.9M-3.1 337.1L-8.3 336.2M33.4 324.1L20.3 338.9M22.7 336.3L17.6 335M60.2 324.1L46 337.9M48.5 335.4L43.6 333.8M86.9 324.1L71.8 336.8M74.4 334.5L69.6 332.5M113.7 324.1L97.6 335.6M100.4 333.6L95.8 331.2M140.4 324.1L123.5 334.4M126.5 332.5L122.1 329.8M167.2 324.1L149.5 333.1M152.7 331.5L148.4 328.4M193.9 324.1L175.7 331.7M178.9 330.4L174.9 327M220.7 324.1L201.9 330.3M205.2 329.2L201.5 325.6M247.4 324.1L228.2 328.9M231.6 328L228.2 324.1M274.2 324.1L254.7 327.9M258.2 327.2L255 323.1M300.9 324.1L281.4 327.4M284.8 326.8L281.7 322.6M327.7 324.1L308.1 326.8M311.5 326.3L308.5 322.1M354.4 324.1L334.7 326.3M338.2 325.9L335.3 321.5M381.2 324.1L361.4 325.7M364.9 325.4L362.2 321M407.9 324.1L388.1 325.1M391.6 325L389 320.5M434.7 324.1L414.9 324.6M418.4 324.5L415.9 319.9M461.4 324.1L441.6 324M445.1 324L442.7 319.4M488.2 324.1L468.4 323.5M471.9 323.6L469.6 318.9M514.9 324.1L495.1 322.9M498.6 323.1L496.5 318.4M20.1 334.2L6.1 348.3M8.6 345.8L3.6 344.2M46.8 334.2L31.9 347.2M34.5 344.9L29.7 343M73.6 334.2L57.7 346.1M60.5 344L55.8 341.7M100.3 334.2L83.6 344.8M86.6 343L82.1 340.3M127.1 334.2L109.6 343.6M112.7 341.9L108.4 339M153.8 334.2L135.7 342.2M138.9 340.8L134.9 337.6M180.6 334.2L161.9 340.9M165.2 339.7L161.4 336.1M207.3 334.2L188.2 339.5M191.6 338.5L188.1 334.7M234.1 334.2L214.6 338M218.1 337.4L214.8 333.3M260.8 334.2L241.1 336.6M244.6 336.2L241.7 331.9M287.5 334.2L267.8 336.2M271.3 335.8L268.5 331.5M314.3 334.2L294.6 335.8M298.1 335.5L295.3 331.1M341 334.2L321.3 335.4M324.8 335.2L322.1 330.7M367.8 334.2L348 335M351.5 334.9L348.9 330.4M394.5 334.2L374.7 334.6M378.2 334.6L375.8 330M421.3 334.2L401.5 334.2M405 334.2L402.6 329.6M448 334.2L428.2 333.8M431.7 333.9L429.5 329.2M474.8 334.2L455 333.4M458.5 333.6L456.3 328.9M501.5 334.2L481.8 333.1M485.3 333.3L483.2 328.5M6.7 343.8L-8.4 356.6M-5.7 354.3L-10.5 352.4M33.4 343.8L17.5 355.6M20.3 353.5L15.7 351.2M60.2 343.8L43.5 354.4M46.5 352.5L42 349.9M86.9 343.8L69.6 353.3M72.6 351.6L68.3 348.7M113.7 343.8L95.7 352M98.9 350.6L94.8 347.4M140.4 343.8L121.9 350.8M125.2 349.5L121.3 346.1M167.2 343.8L148.2 349.5M151.6 348.5L148 344.7M193.9 343.8L174.6 348.2M178 347.4L174.7 343.4M220.7 343.8L201.1 346.8M204.6 346.3L201.5 342.1M247.4 343.8L227.7 345.5M231.2 345.2L228.4 340.8M274.2 343.8L254.4 344.7M257.9 344.5L255.3 340M300.9 343.8L281.1 344.4M284.6 344.3L282.1 339.7M327.7 343.8L307.9 344.1M311.4 344.1L308.9 339.5M354.4 343.8L334.6 343.9M338.1 343.8L335.7 339.2M381.2 343.8L361.4 343.6M364.9 343.6L362.5 339M407.9 343.8L388.1 343.3M391.6 343.4L389.4 338.7M434.7 343.8L414.9 343M418.4 343.2L416.2 338.5M461.4 343.8L441.6 342.8M445.1 342.9L443 338.2M488.2 343.8L468.4 342.5M471.9 342.7L469.8 337.9M514.9 343.8L495.2 342.2M498.7 342.5L496.7 337.7M20.1 352.7L3 362.8M6 361L1.6 358.2M46.8 352.7L29.2 361.8M32.3 360.2L28.1 357.2M73.6 352.7L55.5 360.8M58.7 359.3L54.6 356.1M100.3 352.7L81.8 359.7M85.1 358.5L81.2 355M127.1 352.7L108.2 358.6M111.5 357.6L107.9 353.9M153.8 352.7L134.6 357.5M138 356.7L134.6 352.8M180.6 352.7L161.1 356.4M164.5 355.7L161.3 351.6M207.3 352.7L187.7 355.3M191.1 354.8L188.2 350.5M234.1 352.7L214.3 354.1M217.8 353.9L215.1 349.4M260.8 352.7L241 353M244.5 352.9L242.1 348.3M287.5 352.7L267.7 352.8M271.2 352.8L268.9 348.2M314.3 352.7L294.5 352.6M298 352.6L295.7 348M341 352.7L321.2 352.4M324.7 352.4L322.5 347.8M367.8 352.7L348 352.2M351.5 352.3L349.3 347.6M394.5 352.7L374.8 352M378.3 352.1L376.1 347.4M421.3 352.7L401.5 351.8M405 351.9L402.9 347.2M448 352.7L428.3 351.5M431.8 351.7L429.7 347M6.7 361.4L-11.1 370M-8 368.5L-12.1 365.4M33.4 361.4L15.2 369.2M18.5 367.8L14.4 364.5M60.2 361.4L41.6 368.3M44.9 367.1L41.1 363.6M86.9 361.4L68.1 367.4M71.4 366.3L67.7 362.6M113.7 361.4L94.6 366.5M97.9 365.6L94.4 361.7M140.4 361.4L121.1 365.6M124.5 364.8L121.2 360.8M167.2 361.4L147.7 364.6M151.1 364.1L148 359.9M193.9 361.4L174.3 363.7M177.7 363.3L174.8 359M220.7 361.4L200.9 362.8M204.4 362.5L201.7 358.1M300.9 361.4L281.1 361.1M284.6 361.1L282.3 356.5M327.7 361.4L307.9 360.9M311.4 361L309.1 356.3M354.4 361.4L334.6 360.7M338.1 360.8L335.9 356.1M381.2 361.4L361.4 360.6M364.9 360.7L362.7 356M407.9 361.4L388.1 360.4M391.6 360.6L389.5 355.8M434.7 361.4L414.9 360.2M418.4 360.4L416.3 355.6M20.1 369.7L1.4 376.4M4.7 375.2L0.9 371.7M46.8 369.7L27.9 375.7M31.3 374.7L27.6 371M73.6 369.7L54.5 375M57.8 374.1L54.3 370.2M100.3 369.7L81 374.2M84.4 373.4L81.1 369.5M127.1 369.7L107.6 373.5M111.1 372.8L107.8 368.7M153.8 369.7L134.2 372.8M137.7 372.2L134.6 368M180.6 369.7L160.9 372M164.4 371.6L161.5 367.3M314.3 369.7L294.5 369.4M298 369.4L295.7 364.8M341 369.7L321.3 369.2M324.8 369.3L322.5 364.6M367.8 369.7L348 369M351.5 369.1L349.3 364.4M394.5 369.7L374.8 368.8M378.3 369L376.1 364.3M6.7 377.8L-12.1 384M-8.8 382.9L-12.5 379.2M33.4 377.8L14.4 383.3M17.8 382.4L14.2 378.6M60.2 377.8L41 382.7M44.4 381.9L40.9 378M86.9 377.8L67.6 382.1M71 381.3L67.7 377.3M113.7 377.8L94.2 381.4M97.7 380.8L94.5 376.7M140.4 377.8L120.8 380.8M124.3 380.3L121.3 376M20.1 385.7L1 390.9M4.3 390L0.8 386.1M46.8 385.7L27.6 390.3M31 389.5L27.6 385.6M73.6 385.7L54.2 389.8M57.6 389.1L54.3 385M100.3 385.7L80.8 389.2M84.3 388.6L81.1 384.5M6.7 393.4L-12.5 398.2M-9.1 397.3L-12.6 393.4M33.4 393.4L14.1 397.7M17.5 396.9L14.2 392.9M60.2 393.4L40.8 397.2M44.2 396.5L41 392.4M20.1 399.9L0.8 404.4M4.2 403.6L0.8 399.6M46.8 399.9L27.4 403.9M30.8 403.2L27.6 399.1M73.6 399.9L54.1 403.4M57.5 402.8L54.4 398.6M6.7 405.8L-12.6 410.4M-9.2 409.6L-12.6 405.7M33.4 405.8L14.1 409.9M17.5 409.2L14.2 405.2" fill="none" stroke="#2a2a2a" stroke-width="1.1" stroke-linecap="butt"/>
</g>
<rect x="0" y="0" width="521.6" height="425.4" fill="none" stroke="#111" stroke-width="1.3"/>
<text x="-27.7" y="7.6" font-size="21.5" text-anchor="end" fill="#000" >200</text>
<text x="-27.7" y="115.3" font-size="21.5" text-anchor="end" fill="#000" >300</text>
<text x="-27.7" y="250.9" font-size="21.5" text-anchor="end" fill="#000" >500</text>
<text x="-27.7" y="340.2" font-size="21.5" text-anchor="end" fill="#000" >700</text>
<text x="-27.7" y="391.8" font-size="21.5" text-anchor="end" fill="#000" >850</text>
<text x="-27.7" y="414.2" font-size="21.5" text-anchor="end" fill="#000" >925</text>
<text x="547.5" y="35.5" font-size="20.2" text-anchor="start" fill="#000" >35</text>
<text x="547.5" y="93.2" font-size="20.2" text-anchor="start" fill="#000" >30</text>
<text x="547.5" y="150.7" font-size="20.2" text-anchor="start" fill="#000" >25</text>
<text x="547.5" y="208.8" font-size="20.2" text-anchor="start" fill="#000" >20</text>
<text x="547.5" y="266.5" font-size="20.2" text-anchor="start" fill="#000" >15</text>
<text x="547.5" y="324.2" font-size="20.2" text-anchor="start" fill="#000" >10</text>
<text x="547.5" y="381.9" font-size="20.2" text-anchor="start" fill="#000" >5</text>
<text x="547.5" y="427.4" font-size="20.2" text-anchor="start" fill="#000" >1</text>
<text x="0" y="469.7" font-size="21.5" text-anchor="middle" fill="#000" >119.4W</text>
<text x="-3.2" y="493.8" font-size="21.5" text-anchor="middle" fill="#000" >47.4N</text>
<text x="133.7" y="469.7" font-size="21.5" text-anchor="middle" fill="#000" >117.4W</text>
<text x="130.5" y="493.8" font-size="21.5" text-anchor="middle" fill="#000" >46.1N</text>
<text x="267.5" y="469.7" font-size="21.5" text-anchor="middle" fill="#000" >115.6W</text>
<text x="264.3" y="493.8" font-size="21.5" text-anchor="middle" fill="#000" >44.7N</text>
<text x="401.2" y="469.7" font-size="21.5" text-anchor="middle" fill="#000" >113.8W</text>
<text x="398" y="493.8" font-size="21.5" text-anchor="middle" fill="#000" >43.3N</text>
<path d="M-13.3 0L0 0M-13.3 107.7L0 107.7M-13.3 243.3L0 243.3M-13.3 332.6L0 332.6M-13.3 384.2L0 384.2M-13.3 406.6L0 406.6M521.6 28.3L534.9 28.3M521.6 86L534.9 86M521.6 143.5L534.9 143.5M521.6 201.6L534.9 201.6M521.6 259.3L534.9 259.3M521.6 317L534.9 317M521.6 374.7L534.9 374.7M521.6 420.2L534.9 420.2M0 425.4L0 438.7M133.7 425.4L133.7 438.7M267.5 425.4L267.5 438.7M401.2 425.4L401.2 438.7" fill="none" stroke="#111" stroke-width="1.3"/>
<text x="260.8" y="-10.7" font-size="33.4" text-anchor="middle" fill="#000" >Curtain 5 (C5)</text>
<rect x="440" y="434.1" width="81.7" height="65.3" fill="#fff" stroke="#888" stroke-width="1.2"/>
<text x="480.9" y="457" font-size="24" text-anchor="middle" fill="#000" >30 m/s</text>
<path d="M493.2 480.1L473.6 480.1" fill="none" stroke="#777" stroke-width="1.2"/>
<path d="M473.6 480.1L468.6 471.1M477.3 480.1L472.3 471.1M481 480.1L476 471.1" fill="none" stroke="#444" stroke-width="0.9"/>
</g>
<text transform="translate(171 465.7) rotate(-90)" font-size="27.3" text-anchor="middle" fill="#000">Altitude (hPa)</text>
<text transform="translate(171 1165.7) rotate(-90)" font-size="27.3" text-anchor="middle" fill="#000">Altitude (hPa)</text>
<text transform="translate(171 1890.7) rotate(-90)" font-size="27.3" text-anchor="middle" fill="#000">Altitude (hPa)</text>
<text transform="translate(1692.7 566.3) rotate(-90)" font-size="37.4" text-anchor="middle" fill="#404040">Height (thousand ft)</text>
<text transform="translate(1692.7 1266.3) rotate(-90)" font-size="37.4" text-anchor="middle" fill="#404040">Height (thousand ft)</text>
<g transform="translate(924.8 1677.9)">
<clipPath id="cpm"><rect x="0" y="0" width="551.7" height="551.7"/></clipPath>
<g clip-path="url(#cpm)">
<rect x="0" y="0" width="551.7" height="551.7" fill="#65FF40"/>
<path d="M329.2 442.3 L377.2 428.6 L404.6 404.6 L397.7 377.2 L411.5 356.6 L438.9 346.3 L456 363.5 L493.8 373.7 L521.2 356.6 L545.2 373.7 L528 390.9 L497.2 387.5 L456 411.5 L442.3 442.3 L452.6 473.2 L480 486.9 L514.3 473.2 L551.7 456 L569.2 452.6 L569.2 569.2 L438.9 569.2 L442.3 514.3 L425.2 500.6 L404.6 521.2 L377.2 528 L342.9 507.5 L322.3 490.3 L308.6 514.3 L294.9 569.2 L240 569.2 L246.9 514.3 L267.4 486.9 L294.9 480 L318.9 466.3Z" fill="#90FF40"/>
<path d="M288 51.4 L301.7 39.4 L329.2 41.1 L342.9 54.9 L339.5 72 L322.3 80.6 L298.3 68.6Z" fill="#90FF40"/>
<path d="M274.3 250.3 L291.5 226.3 L308.6 240 L305.2 267.4 L288 274.3Z" fill="#90FF40"/>
<path d="M360 246.9 L380.6 240 L401.2 250.3 L380.6 262.3Z" fill="#90FF40"/>
<path d="M236.6 346.3 L260.6 342.9 L264 360 L240 363.5Z" fill="#90FF40"/>
<path d="M252 78.9 L274.3 85.7 L298.3 82.3 L301.7 102.9 L284.6 113.2 L260.6 109.7 L252 96Z" fill="#40FF4C"/>
<path d="M425.2 270.9 L445.7 264 L476.6 274.3 L480 298.3 L473.2 318.9 L445.7 315.5 L432 301.7Z" fill="#40FF4C"/>
<path d="M325.7 337.7 L353.2 334.3 L356.6 353.2 L332.6 356.6Z" fill="#40FF4C"/>
<path d="M504 -6.9 L569.2 -6.9 L569.2 102.9 L551.7 102.9 L534.9 85.7 L514.3 51.4 L504 20.6Z" fill="#40FF4C"/>
<path d="M392.6 331.9 L409.3 319.6 L418.3 311.3 L428.6 320.6 L444 331.9 L427.3 344.3 L418.3 352.5 L408 343.2Z" fill="#90FF40"/>
<path d="M399 331.9 L411.6 322.7 L418.3 316.5 L426 323.4 L437.6 331.9 L425.1 341.2 L418.3 347.3 L410.6 340.4Z" fill="#BBFF40"/>
<path d="M405.5 331.9 L413.8 325.7 L418.3 321.6 L423.5 326.3 L431.2 331.9 L422.8 338.1 L418.3 342.2 L413.2 337.6Z" fill="#E6FF40"/>
<path d="M411.9 331.9 L416.1 328.8 L418.3 326.8 L420.9 329.1 L424.7 331.9 L420.6 335 L418.3 337.1 L415.7 334.7Z" fill="#FFF740"/>
<path d="M399.5 437.2 L411.7 425.9 L418.3 418.3 L425.9 426.8 L437.2 437.2 L424.9 448.5 L418.3 456 L410.8 447.5Z" fill="#BBFF40"/>
<path d="M408.9 437.2 L415 431.5 L418.3 427.7 L422.1 432 L427.7 437.2 L421.6 442.8 L418.3 446.6 L414.5 442.4Z" fill="#E6FF40"/>
<path d="M130.3 101.8 L138.1 97.3 L142.3 94.3 L147.1 97.7 L154.3 101.8 L146.5 106.4 L142.3 109.4 L137.5 106Z" fill="#90FF40"/>
<path d="M136.3 101.8 L140.2 99.6 L142.3 98.1 L144.7 99.8 L148.3 101.8 L144.4 104.1 L142.3 105.6 L139.9 103.9Z" fill="#BBFF40"/>
<path d="M68.6 -13.7 L89.1 5.1 L137.2 12 L178.3 15.4 L222.9 14.4 L274.3 13.7 L301.7 8.6 L317.2 -13.7Z" fill="#40FF4C" stroke="#40FF4C" stroke-width="20" stroke-linejoin="round"/>
<path d="M68.6 -13.7 L89.1 5.1 L137.2 12 L178.3 15.4 L222.9 14.4 L274.3 13.7 L301.7 8.6 L317.2 -13.7Z" fill="#40FFA2" stroke="#40FFA2" stroke-width="10" stroke-linejoin="round"/>
<path d="M68.6 -13.7 L89.1 5.1 L137.2 12 L178.3 15.4 L222.9 14.4 L274.3 13.7 L301.7 8.6 L317.2 -13.7Z" fill="#40FFDB"/>
<path d="M347.7 19.2 L369.3 6.5 L387.4 -3.4 L509.9 -3.4 L513.5 19.2 L511.7 42.6 L531.6 67.8 L555 85.8 L555 275.1 L540.6 257.1 L528 231.9 L509.9 213.8 L477.5 199.4 L446.8 185 L428.8 170.6 L407.2 159.7 L378.3 157.9 L351.3 157 L333.3 150.7 L324.3 141.7 L331.5 125.5 L342.3 107.5 L351.3 89.5 L354.9 69.6 L353.1 49.8 L349.5 31.8Z" fill="#40FF4C" stroke="#40FF4C" stroke-width="13" stroke-linejoin="round"/>
<path d="M347.7 19.2 L369.3 6.5 L387.4 -3.4 L509.9 -3.4 L513.5 19.2 L511.7 42.6 L531.6 67.8 L555 85.8 L555 275.1 L540.6 257.1 L528 231.9 L509.9 213.8 L477.5 199.4 L446.8 185 L428.8 170.6 L407.2 159.7 L378.3 157.9 L351.3 157 L333.3 150.7 L324.3 141.7 L331.5 125.5 L342.3 107.5 L351.3 89.5 L354.9 69.6 L353.1 49.8 L349.5 31.8Z" fill="#40FFA2"/>
<path d="M356.7 28.2 L371.1 15.5 L396.4 4.7 L450.4 1.1 L486.5 13.7 L509.9 46.2 L522.5 76.8 L540.6 100.3 L555 109.3 L555 269.7 L540.6 249.9 L528 224.6 L508.1 208.4 L472.1 194 L443.2 179.6 L427 166.1 L405.4 157 L378.3 155.2 L351.3 153.4 L336 148.9 L327.9 141.7 L335.1 126.4 L345 108.4 L354 90.4 L357.6 71.4 L356.7 49.8Z" fill="#40FFDB"/>
<path d="M362.1 35.4 L371.1 24.6 L396.4 15.5 L423.4 17.3 L450.4 28.2 L468.5 51.6 L482.9 78.6 L495.5 100.3 L509.9 118.3 L522.5 136.3 L537 150.7 L555 154.3 L555 264.3 L540.6 244.5 L526.2 217.4 L504.5 204.8 L468.5 190.4 L441.4 176 L427 163.4 L405.4 154.3 L378.3 152.5 L351.3 150.7 L338.7 147.1 L331.5 141.7 L338.7 127.3 L347.7 109.3 L356.7 91.3 L360.3 73.2 L360.3 51.6Z" fill="#40FCFF"/>
<path d="M387.4 55.2 L410.8 48.9 L441.4 60.6 L450.4 73.2 L443.2 93.1 L457.7 123.7 L432.4 127.3 L407.2 121.9 L392.8 107.5 L387.4 85.8Z" fill="#40E7FF"/>
<path d="M-13.7 25.7 L0 25.7 L20.6 20.6 L44.6 27.4 L65.1 44.6 L73.7 68.6 L77.1 89.1 L82.3 109.7 L99.4 120 L120 133.7 L137.2 147.4 L147.4 164.6 L150.9 178.3 L144 192 L137.2 209.2 L144 226.3 L161.2 246.9 L171.4 267.4 L185.2 291.5 L202.3 308.6 L205.7 325.7 L198.9 346.3 L188.6 363.5 L181.7 380.6 L164.6 394.3 L150.9 411.5 L137.2 432 L126.9 449.2 L137.2 459.5 L150.9 469.8 L164.6 486.9 L185.2 497.2 L202.3 507.5 L219.4 514.3 L233.2 528 L236.6 538.3 L240 551.7 L241.7 569.2 L-13.7 569.2Z" fill="#40FF4C" stroke="#40FF4C" stroke-width="30" stroke-linejoin="round"/>
<path d="M-13.7 25.7 L0 25.7 L20.6 20.6 L44.6 27.4 L65.1 44.6 L73.7 68.6 L77.1 89.1 L82.3 109.7 L99.4 120 L120 133.7 L137.2 147.4 L147.4 164.6 L150.9 178.3 L144 192 L137.2 209.2 L144 226.3 L161.2 246.9 L171.4 267.4 L185.2 291.5 L202.3 308.6 L205.7 325.7 L198.9 346.3 L188.6 363.5 L181.7 380.6 L164.6 394.3 L150.9 411.5 L137.2 432 L126.9 449.2 L137.2 459.5 L150.9 469.8 L164.6 486.9 L185.2 497.2 L202.3 507.5 L219.4 514.3 L233.2 528 L236.6 538.3 L240 551.7 L241.7 569.2 L-13.7 569.2Z" fill="#40FFA2" stroke="#40FFA2" stroke-width="20" stroke-linejoin="round"/>
<path d="M-13.7 25.7 L0 25.7 L20.6 20.6 L44.6 27.4 L65.1 44.6 L73.7 68.6 L77.1 89.1 L82.3 109.7 L99.4 120 L120 133.7 L137.2 147.4 L147.4 164.6 L150.9 178.3 L144 192 L137.2 209.2 L144 226.3 L161.2 246.9 L171.4 267.4 L185.2 291.5 L202.3 308.6 L205.7 325.7 L198.9 346.3 L188.6 363.5 L181.7 380.6 L164.6 394.3 L150.9 411.5 L137.2 432 L126.9 449.2 L137.2 459.5 L150.9 469.8 L164.6 486.9 L185.2 497.2 L202.3 507.5 L219.4 514.3 L233.2 528 L236.6 538.3 L240 551.7 L241.7 569.2 L-13.7 569.2Z" fill="#40FFDB" stroke="#40FFDB" stroke-width="10" stroke-linejoin="round"/>
<path d="M-13.7 25.7 L0 25.7 L20.6 20.6 L44.6 27.4 L65.1 44.6 L73.7 68.6 L77.1 89.1 L82.3 109.7 L99.4 120 L120 133.7 L137.2 147.4 L147.4 164.6 L150.9 178.3 L144 192 L137.2 209.2 L144 226.3 L161.2 246.9 L171.4 267.4 L185.2 291.5 L202.3 308.6 L205.7 325.7 L198.9 346.3 L188.6 363.5 L181.7 380.6 L164.6 394.3 L150.9 411.5 L137.2 432 L126.9 449.2 L137.2 459.5 L150.9 469.8 L164.6 486.9 L185.2 497.2 L202.3 507.5 L219.4 514.3 L233.2 528 L236.6 538.3 L240 551.7 L241.7 569.2 L-13.7 569.2Z" fill="#40FCFF"/>
<path d="M-13.7 144 L0 144 L34.3 150.9 L68.6 171.4 L92.6 205.7 L99.4 240 L96 274.3 L99.4 308.6 L102.9 342.9 L109.7 370.3 L120 394.3 L130.3 421.7 L116.6 442.3 L96 452.6 L82.3 480 L102.9 486.9 L130.3 480 L154.3 497.2 L178.3 514.3 L198.9 528 L212.6 541.8 L219.4 551.7 L221.2 569.2 L-13.7 569.2Z" fill="#40E7FF"/>
<path d="M-13.7 192 L0 192 L27.4 198.9 L54.9 219.4 L68.6 253.7 L75.4 294.9 L82.3 329.2 L92.6 360 L102.9 387.5 L113.2 411.5 L102.9 432 L82.3 442.3 L61.7 445.7 L41.1 459.5 L37.7 480 L54.9 497.2 L82.3 493.8 L102.9 493.8 L123.4 490.3 L147.4 507.5 L171.4 524.6 L192 541.8 L202.3 551.7 L204 569.2 L-13.7 569.2Z" fill="#40D1FF"/>
<path d="M-13.7 404.6 L0 404.6 L20.6 411.5 L34.3 432 L27.4 456 L34.3 486.9 L54.9 504 L85.7 500.6 L113.2 497.2 L137.2 510.9 L157.7 528 L171.4 551.7 L173.2 569.2 L-13.7 569.2Z" fill="#38BCFF"/>
<path d="M-25.7 27 L34.3 27 L68.6 44.1 L83.6 74.1 L83.6 104.2 L64.3 129.9 L34.3 138.4 L4.3 129.9 L-25.7 121.3Z" fill="#40E7FF"/>
<path d="M-25.7 39.9 L38.6 37.7 L68.6 57 L77.1 87 L64.3 112.7 L34.3 123.4 L4.3 117 L-25.7 108.4Z" fill="#40D1FF"/>
<path d="M-8.6 52.7 L42.9 50.6 L64.3 69.9 L66.4 95.6 L47.1 108.4 L17.1 108.4 L-8.6 95.6Z" fill="#38BCFF"/>
<path d="M25.7 67.7 L45 72 L47.1 87 L32.1 91.3 L21.4 82.7Z" fill="#0DA6FF"/>
<path d="M1 118.3 L26.4 122.1 L49.7 139.9 L71.3 158.1 L91.2 172.5 L98.4 190.3 L87.4 199.2 L67.9 186.9 L44.2 172.5 L26.4 165.3 L8.2 148.8 L0 136.5Z" fill="#40FFDB" stroke="#40FFDB" stroke-width="14" stroke-linejoin="round"/>
<path d="M1 118.3 L26.4 122.1 L49.7 139.9 L71.3 158.1 L91.2 172.5 L98.4 190.3 L87.4 199.2 L67.9 186.9 L44.2 172.5 L26.4 165.3 L8.2 148.8 L0 136.5Z" fill="#40FFA2" stroke="#40FFA2" stroke-width="9" stroke-linejoin="round"/>
<path d="M1 118.3 L26.4 122.1 L49.7 139.9 L71.3 158.1 L91.2 172.5 L98.4 190.3 L87.4 199.2 L67.9 186.9 L44.2 172.5 L26.4 165.3 L8.2 148.8 L0 136.5Z" fill="#40FF4C" stroke="#40FF4C" stroke-width="4" stroke-linejoin="round"/>
<path d="M1 118.3 L26.4 122.1 L49.7 139.9 L71.3 158.1 L91.2 172.5 L98.4 190.3 L87.4 199.2 L67.9 186.9 L44.2 172.5 L26.4 165.3 L8.2 148.8 L0 136.5Z" fill="#65FF40"/>
<path d="M144 339.5 L171.4 334.3 L192 342.9 L185.2 360 L161.2 366.9 L144 356.6Z" fill="#40E7FF"/>
<path d="M41.1 473.2 L54.5 458.8 L61.7 449.2 L69.9 460 L82.3 473.2 L68.9 487.6 L61.7 497.2 L53.5 486.4Z" fill="#40FCFF"/>
<path d="M48 473.2 L56.9 463.6 L61.7 457.2 L67.2 464.4 L75.4 473.2 L66.5 482.8 L61.7 489.2 L56.2 482Z" fill="#40FFDB"/>
<path d="M54.9 473.2 L59.3 468.4 L61.7 465.2 L64.5 468.8 L68.6 473.2 L64.1 478 L61.7 481.2 L59 477.6Z" fill="#40FFA2"/>
<path d="M209.2 534.9 L219.2 527.7 L224.6 522.9 L230.8 528.3 L240 534.9 L230 542.1 L224.6 546.9 L218.4 541.5Z" fill="#40E7FF"/>
<path d="M213 534.9 L220.5 529.5 L224.6 525.9 L229.2 529.9 L236.2 534.9 L228.6 540.3 L224.6 543.9 L220 539.8Z" fill="#40D1FF"/>
<path d="M216.9 534.9 L221.9 531.3 L224.6 528.9 L227.7 531.6 L232.3 534.9 L227.3 538.5 L224.6 540.9 L221.5 538.2Z" fill="#38BCFF"/>
<path d="M220.7 534.9 L223.2 533.1 L224.6 531.9 L226.1 533.2 L228.4 534.9 L225.9 536.7 L224.6 537.9 L223 536.5Z" fill="#0DA6FF"/>
<path d="M-1.5 20.6L12.5 20.6M7.6 22.7L12.5 20.6M7.6 18.4L12.5 20.6M26.1 20.5L40 20.6M35.2 22.7L40 20.6M35.2 18.4L40 20.6M54.2 20.2L67.1 20.9M62.5 22.7L67.1 20.9M62.7 18.7L67.1 20.9M82.3 20.1L94.2 21.1M89.9 22.6L94.2 21.1M90.2 18.9L94.2 21.1M109.9 20.1L121.8 21.1M117.5 22.6L121.8 21.1M117.8 18.9L121.8 21.1M137.9 20.1L149 21.1M144.9 22.4L149 21.1M145.3 19L149 21.1M166.8 20L175.2 21.2M172.1 22L175.2 21.2M172.5 19.5L175.2 21.2M194.6 19.9L202.5 21.3M199.6 22L202.5 21.3M200 19.6L202.5 21.3M222.4 19.9L230 21.2M227.1 21.9L230 21.2M227.5 19.6L230 21.2M252.4 20.7L255.1 20.5M252.9 21.7L255.1 20.5M252.7 19.6L255.1 20.5M283.5 21.5L279.2 19.6M281.7 19.6L279.2 19.6M280.8 21.5L279.2 19.6M311.6 21.7L306.2 19.5M308.7 19.4L306.2 19.5M308 21.3L306.2 19.5M339 22.1L334 19M336.5 19.4L334 19M335.5 21.1L334 19M365.7 23.8L362.4 17.3M364.6 19.1L362.4 17.3M362.6 20.1L362.4 17.3M393.1 24.3L390.3 16.9M392.4 19L390.3 16.9M390.1 19.9L390.3 16.9M420.5 24.2L418.1 16.9M420 19.1L418.1 16.9M417.8 19.8L418.1 16.9M446.2 23.8L447.4 17.4M448 19.8L447.4 17.4M446 19.4L447.4 17.4M472.7 23.4L476.1 17.7M475.8 20.2L476.1 17.7M474.1 19.2L476.1 17.7M498.8 21.5L505.2 19.6M503.3 21.3L505.2 19.6M502.7 19.3L505.2 19.6M525.6 20.6L533.6 20.6M530.8 21.8L533.6 20.6M530.8 19.3L533.6 20.6M-1.5 41.4L12.5 41.4M7.6 43.5L12.5 41.4M7.6 39.2L12.5 41.4M26.1 41.4L40.1 41.4M35.2 43.5L40.1 41.4M35.2 39.2L40.1 41.4M54.2 41L67.1 41.7M62.5 43.5L67.1 41.7M62.7 39.5L67.1 41.7M82.3 40.8L94.2 41.9M89.9 43.4L94.2 41.9M90.2 39.7L94.2 41.9M109.8 40.8L121.8 41.9M117.5 43.4L121.8 41.9M117.8 39.7L121.8 41.9M137.8 40.8L149.1 41.9M145 43.3L149.1 41.9M145.3 39.8L149.1 41.9M166.9 40.7L175.1 42M172.1 42.8L175.1 42M172.5 40.3L175.1 42M194.6 40.7L202.5 42.1M199.6 42.8L202.5 42.1M200 40.4L202.5 42.1M222.3 40.7L230.1 42M227.1 42.8L230.1 42M227.6 40.4L230.1 42M252.9 41.6L254.6 41.2M252.6 42.7L254.6 41.2M252.1 40.7L254.6 41.2M284 42.3L278.7 40.4M281.1 40.2L278.7 40.4M280.5 42.1L278.7 40.4M311.7 42.4L306.1 40.3M308.6 40.2L306.1 40.3M307.9 42.1L306.1 40.3M339.2 42.7L333.8 40.1M336.3 40.2L333.8 40.1M335.4 42L333.8 40.1M365.7 44.9L362.5 37.9M364.7 39.8L362.5 37.9M362.5 40.8L362.5 37.9M393 45.1L390.3 37.6M392.4 39.8L390.3 37.6M390.1 40.6L390.3 37.6M420.6 45.1L417.9 37.6M420 39.8L417.9 37.6M417.7 40.6L417.9 37.6M446.1 44.7L447.6 38.1M448.1 40.6L447.6 38.1M446 40.1L447.6 38.1M472.7 44.4L476.2 38.3M475.9 41L476.2 38.3M474 39.9L476.2 38.3M500 43.9L504 38.8M503.4 41.2L504 38.8M501.8 40L504 38.8M525.8 41.6L533.4 41.2M530.8 42.5L533.4 41.2M530.7 40.1L533.4 41.2M-1.6 62.1L12.5 62.2M7.6 64.4L12.5 62.2M7.7 60L12.5 62.2M26 62.1L40.1 62.3M35.2 64.4L40.1 62.3M35.3 60L40.1 62.3M54.1 61.7L67.2 62.6M62.5 64.3L67.2 62.6M62.8 60.3L67.2 62.6M82.2 61.6L94.3 62.7M89.9 64.2L94.3 62.7M90.3 60.5L94.3 62.7M109.8 61.6L121.8 62.7M117.5 64.2L121.8 62.7M117.8 60.5L121.8 62.7M137.7 61.6L149.1 62.7M145 64.1L149.1 62.7M145.3 60.6L149.1 62.7M166.6 61.6L175.4 62.7M172.2 63.7L175.4 62.7M172.5 61L175.4 62.7M194.6 61.5L202.6 62.8M199.6 63.6L202.6 62.8M200 61.1L202.6 62.8M222.4 61.6L230 62.7M227.2 63.5L230 62.7M227.5 61.2L230 62.7M284.6 63L278 61.3M280.6 60.9L278 61.3M280.1 62.9L278 61.3M311.8 63.2L306.1 61.1M308.6 61L306.1 61.1M307.9 62.9L306.1 61.1M339.2 63.5L333.8 60.8M336.3 60.9L333.8 60.8M335.4 62.7L333.8 60.8M365.9 65.8L362.2 58.5M364.6 60.5L362.2 58.5M362.4 61.6L362.2 58.5M393.1 65.9L390.3 58.4M392.4 60.6L390.3 58.4M390.1 61.4L390.3 58.4M420.9 66.1L417.6 58.3M420 60.5L417.6 58.3M417.5 61.5L417.6 58.3M447.1 65.9L446.6 58.4M447.9 60.9L446.6 58.4M445.6 61.1L446.6 58.4M472.8 65.2L476.1 59.1M475.9 61.7L476.1 59.1M474 60.7L476.1 59.1M500.5 65.2L503.5 59.1M503.4 61.7L503.5 59.1M501.5 60.8L503.5 59.1M528.1 65L531.1 59.4M530.9 61.9L531.1 59.4M529.1 60.9L531.1 59.4M-1.9 82.3L12.9 83.6M7.6 85.4L12.9 83.6M7.9 80.9L12.9 83.6M25.7 82.4L40.4 83.6M35.1 85.4L40.4 83.6M35.5 80.9L40.4 83.6M53.9 82.2L67.4 83.7M62.5 85.3L67.4 83.7M62.9 81.1L67.4 83.7M81.9 81.9L94.6 84M89.9 85.2L94.6 84M90.5 81.3L94.6 84M109.5 82L122.2 84M117.5 85.2L122.2 84M118.1 81.3L122.2 84M137.6 82.5L149.3 83.4M145.1 84.9L149.3 83.4M145.3 81.3L149.3 83.4M166.1 82.4L175.9 83.5M172.3 84.6L175.9 83.5M172.6 81.6L175.9 83.5M193.7 82.2L203.4 83.8M199.8 84.7L203.4 83.8M200.3 81.7L203.4 83.8M221.7 82.4L230.7 83.5M227.4 84.5L230.7 83.5M227.7 81.7L230.7 83.5M254.3 83.6L253.2 82.3M255.4 83.5L253.2 82.3M253.8 84.7L253.2 82.3M285.2 83.7L277.4 82.3M280.4 81.5L277.4 82.3M279.9 84L277.4 82.3M312.7 83.7L305.2 82.2M308 81.6L305.2 82.2M307.5 83.9L305.2 82.2M338.8 85.1L334.2 80.8M336.5 81.6L334.2 80.8M335.2 83.1L334.2 80.8M367.2 87.2L361 78.7M364.5 80.7L361 78.7M361.8 82.6L361 78.7M396 87.7L387.4 78.2M391.8 80.2L387.4 78.2M388.9 82.8L387.4 78.2M422.8 87.6L415.7 78.3M419.6 80.5L415.7 78.3M416.7 82.6L415.7 78.3M450 88L443.7 77.9M447.4 80.5L443.7 77.9M444.3 82.4L443.7 77.9M476.9 87.7L472 78.2M475.2 80.7L472 78.2M472.2 82.3L472 78.2M502.3 87.2L501.7 78.7M503.2 81.6L501.7 78.7M500.6 81.8L501.7 78.7M529.6 87.9L529.6 78.1M531.1 81.5L529.6 78.1M528.1 81.5L529.6 78.1M-2 103.1L13 104.4M7.6 106.3L13 104.4M8 101.6L13 104.4M25.6 103.1L40.5 104.4M35.1 106.3L40.5 104.4M35.6 101.7L40.5 104.4M53.8 102.9L67.5 104.6M62.5 106.1L67.5 104.6M63 101.9L67.5 104.6M81.8 102.6L94.6 104.9M89.9 106.1L94.6 104.9M90.5 102.1L94.6 104.9M109.4 102.7L122.2 104.9M117.4 106.1L122.2 104.9M118.1 102.1L122.2 104.9M137.5 104L149.3 103.5M145.3 105.5L149.3 103.5M145.1 101.9L149.3 103.5M165.9 103.4L176.1 104.1M172.4 105.4L176.1 104.1M172.6 102.3L176.1 104.1M193.7 102.9L203.5 104.6M199.8 105.5L203.5 104.6M200.4 102.5L203.5 104.6M221.3 103.3L231 104.2M227.5 105.4L231 104.2M227.8 102.4L231 104.2M251.3 105.1L256.2 102.4M254.7 104.4L256.2 102.4M253.7 102.6L256.2 102.4M284.8 104.5L277.8 103M280.5 102.4L277.8 103M280 104.6L277.8 103M312.1 104.9L305.7 102.6M308.3 102.4L305.7 102.6M307.6 104.4L305.7 102.6M336.4 108.1L336.6 99.5M337.9 102.5L336.6 99.5M335.2 102.4L336.6 99.5M367 108.6L361.2 98.9M364.7 101.4L361.2 98.9M361.7 103.2L361.2 98.9M396.6 108.7L386.7 98.8M391.7 100.7L386.7 98.8M388.6 103.8L386.7 98.8M423.6 108.7L414.9 98.8M419.5 100.9L414.9 98.8M416.4 103.6L414.9 98.8M450.5 109L443.2 98.5M447.4 101L443.2 98.5M444.1 103.3L443.2 98.5M478.1 109.1L470.7 98.5M474.9 101L470.7 98.5M471.7 103.3L470.7 98.5M503.4 108.6L500.6 98.9M503.1 101.9L500.6 98.9M500.1 102.7L500.6 98.9M529.6 108.8L529.6 98.8M531.1 102.2L529.6 98.8M528.1 102.2L529.6 98.8M-1.8 123.7L12.8 125.4M7.5 127.1L12.8 125.4M8 122.5L12.8 125.4M25.8 123.7L40.3 125.4M35 127.1L40.3 125.4M35.6 122.6L40.3 125.4M53.8 123.6L67.5 125.5M62.5 126.9L67.5 125.5M63 122.7L67.5 125.5M81.9 123.6L94.6 125.5M89.9 126.8L94.6 125.5M90.5 122.9L94.6 125.5M109.7 124.6L121.9 124.5M117.7 126.4L121.9 124.5M117.7 122.6L121.9 124.5M137.7 126.4L149.1 122.7M145.7 125.7L149.1 122.7M144.6 122.2L149.1 122.7M165.6 125.2L176.4 123.9M172.8 126L176.4 123.9M172.4 122.7L176.4 123.9M193.6 124L203.5 125.1M199.9 126.2L203.5 125.1M200.3 123.2L203.5 125.1M220.9 126.5L231.5 122.6M228.4 125.6L231.5 122.6M227.2 122.3L231.5 122.6M248.5 127L259 122.1M256.1 125.4L259 122.1M254.6 122.2L259 122.1M280.8 126.3L281.9 122.8M282.2 125.3L281.9 122.8M280.2 124.7L281.9 122.8M308.7 128.2L309.1 120.9M310.1 123.5L309.1 120.9M307.9 123.4L309.1 120.9M334.5 130.1L338.5 119M338.8 123.5L338.5 119M335.4 122.2L338.5 119M363.5 129.9L364.7 119.2M366 123.1L364.7 119.2M362.6 122.7L364.7 119.2M395.7 129.6L387.7 119.5M392 121.8L387.7 119.5M388.9 124.2L387.7 119.5M422 129.9L416.5 119.2M420.1 122.1L416.5 119.2M416.8 123.7L416.5 119.2M450.3 129.7L443.4 119.4M447.4 121.9L443.4 119.4M444.2 124L443.4 119.4M478.4 129.6L470.5 119.5M474.8 121.8L470.5 119.5M471.7 124.2L470.5 119.5M506.4 129.1L497.6 120M502.1 121.8L497.6 120M499.3 124.5L497.6 120M530.2 129.5L529 119.7M530.9 122.9L529 119.7M527.9 123.2L529 119.7M-1.4 144.1L12.4 146.6M7.2 147.9L12.4 146.6M8 143.6L12.4 146.6M26.2 144.1L40 146.6M34.8 147.9L40 146.6M35.6 143.6L40 146.6M53.8 144.2L67.5 146.5M62.4 147.8L67.5 146.5M63.1 143.6L67.5 146.5M81.9 144.9L94.6 145.8M90.1 147.5L94.6 145.8M90.3 143.5L94.6 145.8M110.1 147.1L121.5 143.6M118.1 146.6L121.5 143.6M117 143L121.5 143.6M137.8 147.4L149.1 143.3M145.8 146.5L149.1 143.3M144.5 143L149.1 143.3M165.4 146.8L176.6 143.9M173.2 146.6L176.6 143.9M172.3 143.2L176.6 143.9M193.3 146.3L203.8 144.4M200.5 146.7L203.8 144.4M199.9 143.4L203.8 144.4M220.8 147.8L231.6 142.9M228.6 146.3L231.6 142.9M227.1 142.9L231.6 142.9M248.4 147.9L259.1 142.8M256.2 146.2L259.1 142.8M254.6 142.9L259.1 142.8M277.8 147.7L284.9 143M283.1 145.7L284.9 143M281.7 143.5L284.9 143M307.2 149.9L310.7 140.8M310.9 144.5L310.7 140.8M308 143.4L310.7 140.8M334.5 151L338.5 139.7M338.9 144.3L338.5 139.7M335.4 143L338.5 139.7M362.6 150.8L365.6 139.9M366.2 144.1L365.6 139.9M362.9 143.2L365.6 139.9M393.7 150.9L389.6 139.8M392.8 143L389.6 139.8M389.3 144.3L389.6 139.8M421.3 151L417.2 139.7M420.4 143L417.2 139.7M416.9 144.3L417.2 139.7M449.8 150.2L443.9 140.5M447.4 142.9L443.9 140.5M444.4 144.8L443.9 140.5M479.5 149.8L469.4 140.9M474.3 142.4L469.4 140.9M471.5 145.5L469.4 140.9M507.4 149.8L496.7 140.9M501.8 142.3L496.7 140.9M499 145.6L496.7 140.9M533.6 149.7L525.6 141M529.7 142.8L525.6 141M527 145.3L525.6 141M-1.4 164.9L12.4 167.4M7.2 168.7L12.4 167.4M8 164.4L12.4 167.4M26.2 164.9L40 167.4M34.8 168.7L40 167.4M35.6 164.4L40 167.4M53.6 164.4L67.7 167.9M62.3 168.8L67.7 167.9M63.3 164.5L67.7 167.9M81.3 164.6L95.2 167.7M89.9 168.8L95.2 167.7M90.9 164.5L95.2 167.7M109.9 167.3L121.8 165M118 167.6L121.8 165M117.3 164L121.8 165M137.7 168L149.1 164.3M145.7 167.4L149.1 164.3M144.6 163.8L149.1 164.3M164.8 167.5L177.2 164.8M173.3 167.7L177.2 164.8M172.5 163.8L177.2 164.8M192.7 167.4L204.4 164.9M200.8 167.6L204.4 164.9M200 164L204.4 164.9M220.8 168.3L231.6 164M228.5 167.2L231.6 164M227.1 163.8L231.6 164M248.5 168.3L259 164M256 167.1L259 164M254.7 163.8L259 164M276.5 168.1L286.1 164.2M283.4 167L286.1 164.2M282.2 164.1L286.1 164.2M306.2 169.8L311.6 162.5M310.9 165.9L311.6 162.5M308.6 164.2L311.6 162.5M334.7 171.3L338.3 161M338.6 165.1L338.3 161M335.5 164L338.3 161M363.5 170.7L364.7 161.6M365.7 164.9L364.7 161.6M362.9 164.6L364.7 161.6M393.4 171.2L390 161.1M392.7 164.1L390 161.1M389.6 165.1L390 161.1M421.4 171.5L417.1 160.8M420.3 163.8L417.1 160.8M417 165.2L417.1 160.8M450.4 169.3L443.3 163M446.7 164.1L443.3 163M444.8 166.3L443.3 163M479.4 170.1L469.4 162.2M474.1 163.4L469.4 162.2M471.7 166.5L469.4 162.2M507.3 170.5L496.7 161.8M501.7 163.2L496.7 161.8M499 166.5L496.7 161.8M535.1 169L524.1 163.3M528.8 163.6L524.1 163.3M527 167L524.1 163.3M-1.3 185.2L12.3 188.7M7 189.6L12.3 188.7M8.1 185.4L12.3 188.7M26.3 185.2L39.9 188.7M34.6 189.6L39.9 188.7M35.7 185.4L39.9 188.7M53.3 184.5L68 189.4M62.1 190L68 189.4M63.7 185.4L68 189.4M80.8 184.3L95.7 189.6M89.7 190.1L95.7 189.6M91.4 185.4L95.7 189.6M108.8 185.5L122.9 188.4M117.5 189.6L122.9 188.4M118.4 185.2L122.9 188.4M136.8 187.9L150 186M145.7 188.7L150 186M145.1 184.6L150 186M164.1 188.1L177.9 185.7M173.5 188.7L177.9 185.7M172.7 184.5L177.9 185.7M191.9 188.1L205.2 185.8M201 188.6L205.2 185.8M200.3 184.5L205.2 185.8M220.5 188.4L231.9 185.5M228.4 188.3L231.9 185.5M227.5 184.7L231.9 185.5M248.1 188.5L259.4 185.4M256 188.2L259.4 185.4M255 184.7L259.4 185.4M275.6 188.5L287.1 185.4M283.6 188.2L287.1 185.4M282.6 184.7L287.1 185.4M304.5 189.1L313.4 184.8M310.9 187.7L313.4 184.8M309.6 184.9L313.4 184.8M335.3 190.4L337.8 183.5M337.9 186.3L337.8 183.5M335.8 185.5L337.8 183.5M364.1 190L364.1 183.8M365.1 186.1L364.1 183.8M363.1 186.1L364.1 183.8M392 190.1L391.4 183.8M392.6 186L391.4 183.8M390.6 186.2L391.4 183.8M422.6 188.9L415.9 184.9M418.8 185.3L415.9 184.9M417.6 187.4L415.9 184.9M451.7 187.1L442 186.7M445.4 185.4L442 186.7M445.3 188.4L442 186.7M479.3 188.3L469.5 185.6M473.4 185L469.5 185.6M472.5 188L469.5 185.6M508 189L496 184.9M500.8 184.5L496 184.9M499.6 188.2L496 184.9M536.5 187.7L522.7 186.2M527.7 184.6L522.7 186.2M527.3 188.8L522.7 186.2M-1.3 205.9L12.2 209.6M7 210.4L12.2 209.6M8.1 206.2L12.2 209.6M26.3 205.9L39.8 209.6M34.6 210.4L39.8 209.6M35.7 206.2L39.8 209.6M53.2 205L68.1 210.4M62.1 210.9L68.1 210.4M63.8 206.3L68.1 210.4M80.7 205L95.8 210.5M89.7 210.9L95.8 210.5M91.4 206.2L95.8 210.5M108.4 205.4L123.2 210.1M117.4 210.7L123.2 210.1M118.8 206.2L123.2 210.1M136.5 208.5L150.3 207M145.8 209.6L150.3 207M145.3 205.4L150.3 207M164.1 209L177.9 206.5M173.5 209.5L177.9 206.5M172.7 205.2L177.9 206.5M191.8 208.8L205.4 206.6M201 209.5L205.4 206.6M200.3 205.3L205.4 206.6M220.1 208.8L232.2 206.6M228.4 209.3L232.2 206.6M227.7 205.5L232.2 206.6M248 209.3L259.5 206.2M256 209.1L259.5 206.2M255 205.5L259.5 206.2M275.5 209.3L287.1 206.2M283.6 209.1L287.1 206.2M282.6 205.5L287.1 206.2M303.8 209.4L314 206.1M311 208.8L314 206.1M310 205.7L314 206.1M335.2 210.4L337.8 205.1M337.7 207.6L337.8 205.1M335.9 206.7L337.8 205.1M364.1 210.7L364.1 204.7M365.1 207L364.1 204.7M363.1 207L364.1 204.7M391.7 210.7L391.6 204.8M392.7 207L391.6 204.8M390.7 207.1L391.6 204.8M423.3 208.4L415.2 207.1M418.2 206.3L415.2 207.1M417.8 208.8L415.2 207.1M451.8 207.7L441.8 207.7M445.3 206.2L441.8 207.7M445.3 209.3L441.8 207.7M479.4 208.1L469.5 207.4M473 206.1L469.5 207.4M472.8 209.2L469.5 207.4M508.5 208.6L495.5 206.9M500.3 205.5L495.5 206.9M499.8 209.5L495.5 206.9M536.6 208.3L522.6 207.1M527.7 205.4L522.6 207.1M527.3 209.7L522.6 207.1M-1.3 226.2L12.3 230.9M6.8 231.3L12.3 230.9M8.3 227.1L12.3 230.9M26.2 226L39.9 231M34.4 231.4L39.9 231M35.9 227.2L39.9 231M53.1 225.3L68.2 231.8M61.9 231.9L68.2 231.8M64 227.2L68.2 231.8M80.7 225.6L95.8 231.5M89.6 231.8L95.8 231.5M91.5 227.1L95.8 231.5M108.2 225.8L123.5 231.3M117.3 231.7L123.5 231.3M119 227L123.5 231.3M136.1 228.2L150.8 228.8M145.6 230.9L150.8 228.8M145.7 226.4L150.8 228.8M164 229.5L178 227.6M173.4 230.4L178 227.6M172.8 226.1L178 227.6M191.7 229.2L205.5 227.8M200.9 230.5L205.5 227.8M200.5 226.2L205.5 227.8M219.7 229.1L232.6 228M228.3 230.4L232.6 228M228 226.4L232.6 228M247.8 229.8L259.7 227.3M256 230L259.7 227.3M255.2 226.3L259.7 227.3M275.6 230L287.1 227M283.6 229.9L287.1 227M282.6 226.3L287.1 227M304 229.9L313.9 227.2M310.8 229.7L313.9 227.2M310 226.6L313.9 227.2M333.8 230.1L339.2 227M337.7 229L339.2 227M336.7 227.2L339.2 227M363.7 231.3L364.5 225.8M365.2 228.2L364.5 225.8M363.1 227.9L364.5 225.8M391.8 231.3L391.6 225.8M392.7 228L391.6 225.8M390.6 228.1L391.6 225.8M422.7 229.3L415.8 227.8M418.4 227.2L415.8 227.8M418 229.4L415.8 227.8M451.7 228.6L442 228.5M445.4 227L442 228.5M445.3 230L442 228.5M479.2 228.8L469.6 228.2M473.1 227L469.6 228.2M472.9 229.9L469.6 228.2M508.2 229.3L495.9 227.8M500.4 226.4L495.9 227.8M499.9 230.2L495.9 227.8M536.4 229.2L522.8 227.9M527.7 226.2L522.8 227.9M527.3 230.4L522.8 227.9M-1.6 243L12.5 255.7M6.4 253.7L12.5 255.7M9.9 249.7L12.5 255.7M25.9 243.2L40.2 255.5M34 253.6L40.2 255.5M37.4 249.6L40.2 255.5M52.4 243.8L68.9 254.9M62.5 253.7L68.9 254.9M65.4 249.3L68.9 254.9M79.5 243.5L97 255.1M90.6 254.1L97 255.1M93.5 249.7L97 255.1M107.4 245.1L124.3 253.6M117.8 253.3L124.3 253.6M120.1 248.5L124.3 253.6M134.9 247.1L151.9 251.6M145.5 252.6L151.9 251.6M146.8 247.5L151.9 251.6M162.8 247.7L179.2 251M173 252.4L179.2 251M174 247.3L179.2 251M191.3 248.9L205.9 249.8M200.7 251.7L205.9 249.8M201 247.2L205.9 249.8M219.2 249.4L233.1 249.3M228.3 251.5L233.1 249.3M228.3 247.2L233.1 249.3M247 249.5L260.5 249.2M255.9 251.4L260.5 249.2M255.8 247.2L260.5 249.2M275.4 250.1L287.3 248.5M283.4 250.9L287.3 248.5M282.9 247.3L287.3 248.5M304 249.9L313.8 248.8M310.6 250.7L313.8 248.8M310.3 247.7L313.8 248.8M331.8 249.5L341.3 249.2M338 250.8L341.3 249.2M337.9 247.8L341.3 249.2M360.4 250L367.8 248.7M365.4 250.3L367.8 248.7M365 248L367.8 248.7M391.1 250.8L392.3 247.9M392.3 250.4L392.3 247.9M390.5 249.6L392.3 247.9M421.7 249.4L416.8 249.3M419.1 248.3L416.8 249.3M419.1 250.3L416.8 249.3M450.5 248.7L443.2 249.9M445.5 248.4L443.2 249.9M445.9 250.6L443.2 249.9M478.6 249.2L470.3 249.5M473.1 248.1L470.3 249.5M473.2 250.7L470.3 249.5M507.6 250.1L496.4 248.5M500.6 247.4L496.4 248.5M500.1 250.8L496.4 248.5M535.5 250.3L523.7 248.3M528.1 247.2L523.7 248.3M527.5 250.9L523.7 248.3M-1.6 263.1L12.6 277.2M6.5 274.9L12.6 277.2M10.2 271.1L12.6 277.2M26 263.1L40.2 277.2M34.1 274.9L40.2 277.2M37.8 271.1L40.2 277.2M52 263.8L69.3 276.5M63 275.1L69.3 276.5M66.1 270.8L69.3 276.5M79.2 263.8L97.2 276.4M90.9 275.2L97.2 276.4M93.9 270.9L97.2 276.4M107.1 265L124.6 275.2M118.1 274.5L124.6 275.2M120.8 269.9L124.6 275.2M134.7 267.8L152.1 272.5M145.7 273.5L152.1 272.5M147.1 268.4L152.1 272.5M162.3 267.8L179.7 272.4M173.2 273.5L179.7 272.4M174.6 268.3L179.7 272.4M191 269.2L206.1 271.1M200.6 272.7L206.1 271.1M201.2 268.1L206.1 271.1M219.2 270.1L233.2 270.1M228.3 272.3L233.2 270.1M228.3 268L233.2 270.1M246.8 270.1L260.7 270.1M255.9 272.3L260.7 270.1M255.9 268L260.7 270.1M275 270.3L287.7 269.9M283.3 272L287.7 269.9M283.2 268.1L287.7 269.9M303.9 270.3L313.9 270M310.5 271.6L313.9 270M310.4 268.5L313.9 270M331.5 270.1L341.5 270.1M338 271.7L341.5 270.1M338 268.6L341.5 270.1M359.2 270.2L368.9 270.1M365.6 271.6L368.9 270.1M365.6 268.6L368.9 270.1M390 270.2L393.4 270M391.1 271.2L393.4 270M391 269.1L393.4 270M421.9 268.7L416.6 271.5M418.1 269.6L416.6 271.5M419.1 271.4L416.6 271.5M450.2 268.2L443.5 272M445.2 269.7L443.5 272M446.4 271.7L443.5 272M478 268.9L470.9 271.3M473 269.4L470.9 271.3M473.7 271.6L470.9 271.3M507.6 271L496.5 269.2M500.6 268.1L496.5 269.2M500 271.6L496.5 269.2M535.5 271.2L523.7 269.1M528.1 268L523.7 269.1M527.5 271.6L523.7 269.1M-1.6 283.7L12.5 298.1M6.5 295.7L12.5 298.1M10.3 292L12.5 298.1M26 283.7L40.2 298.2M34.1 295.8L40.2 298.2M37.9 292.1L40.2 298.2M52.1 284.1L69.2 297.7M62.9 296.1L69.2 297.7M66.2 291.9L69.2 297.7M79.3 284.6L97.2 297.3M90.8 296L97.2 297.3M93.9 291.7L97.2 297.3M107.2 285.7L124.5 296.2M118 295.4L124.5 296.2M120.8 290.8L124.5 296.2M134.8 288.5L152.1 293.3M145.6 294.3L152.1 293.3M147 289.2L152.1 293.3M162.4 288.6L179.6 293.2M173.2 294.2L179.6 293.2M174.5 289.1L179.6 293.2M191 289.9L206.1 292M200.6 293.6L206.1 292M201.2 288.9L206.1 292M219.2 290.9L233.2 290.9M228.3 293.1L233.2 290.9M228.3 288.8L233.2 290.9M246.8 290.9L260.7 290.9M255.9 293.1L260.7 290.9M255.9 288.8L260.7 290.9M274.9 291L287.7 290.8M283.3 292.9L287.7 290.8M283.3 288.9L287.7 290.8M303.8 291L314.1 290.8M310.5 292.5L314.1 290.8M310.5 289.3L314.1 290.8M331.5 290.9L341.5 290.9M338 292.5L341.5 290.9M338 289.4L341.5 290.9M359.3 290.9L368.9 290.9M365.6 292.4L368.9 290.9M365.6 289.4L368.9 290.9M389.8 290.5L393.6 291.3M391.1 291.8L393.6 291.3M391.5 289.8L393.6 291.3M422 289.2L416.5 292.7M417.9 290.6L416.5 292.7M419 292.3L416.5 292.7M450.3 288.9L443.4 292.9M445.2 290.5L443.4 292.9M446.4 292.6L443.4 292.9M477.8 289.3L471.1 292.5M472.9 290.4L471.1 292.5M473.9 292.4L471.1 292.5M507.1 291.7L496.9 290.2M500.7 289.1L496.9 290.2M500.2 292.3L496.9 290.2M535.5 292L523.7 289.9M528.1 288.8L523.7 289.9M527.5 292.4L523.7 289.9M-0.9 301.1L11.9 322.3M6.5 318.6L11.9 322.3M11.1 315.9L11.9 322.3M26.5 301.4L39.7 322.1M34.2 318.5L39.7 322.1M38.7 315.6L39.7 322.1M52.8 302.3L68.5 321.1M62.7 318.2L68.5 321.1M66.7 314.9L68.5 321.1M80 302.4L96.5 321.1M90.6 318.4L96.5 321.1M94.5 314.9L96.5 321.1M107.6 305.2L124 318.2M117.7 316.6L124 318.2M121 312.5L124 318.2M135.3 309.4L151.5 314.1M145.2 314.9L151.5 314.1M146.6 309.9L151.5 314.1M162.9 309.8L179.1 313.6M172.9 314.8L179.1 313.6M174 309.8L179.1 313.6M191.1 310.8L206.1 312.7M200.6 314.3L206.1 312.7M201.2 309.7L206.1 312.7M219.2 311.9L233.2 311.5M228.4 313.8L233.2 311.5M228.2 309.5L233.2 311.5M246.8 312L260.7 311.4M256 313.8L260.7 311.4M255.8 309.5L260.7 311.4M274.9 311.9L287.8 311.5M283.4 313.6L287.8 311.5M283.2 309.7L287.8 311.5M303.3 311.8L314.5 311.6M310.7 313.4L314.5 311.6M310.6 310L314.5 311.6M330.9 311.7L342.1 311.7M338.2 313.4L342.1 311.7M338.2 310L342.1 311.7M358.9 311.7L369.3 311.7M365.7 313.3L369.3 311.7M365.7 310.1L369.3 311.7M388.8 311.2L394.5 312.2M392.1 312.8L394.5 312.2M392.4 310.8L394.5 312.2M418.7 310.5L419.8 312.9M417.9 311.2L419.8 312.9M419.8 310.4L419.8 312.9M449.5 309.9L444.2 313.5M445.5 311.4L444.2 313.5M446.6 313.1L444.2 313.5M477.1 310.7L471.8 312.8M473.6 311L471.8 312.8M474.3 312.9L471.8 312.8M505.8 312.7L498.2 310.7M501.2 310.2L498.2 310.7M500.5 312.6L498.2 310.7M534.1 312.9L525.1 310.5M528.6 310L525.1 310.5M527.9 312.7L525.1 310.5M-0.4 319.9L11.4 345.2M6.5 340.9L11.4 345.2M11.3 338.7L11.4 345.2M27.1 320L39.1 345.1M34.1 340.8L39.1 345.1M38.9 338.6L39.1 345.1M52.9 321.2L68.4 343.8M62.9 340.4L68.4 343.8M67.2 337.4L68.4 343.8M80.2 321.1L96.3 343.9M90.7 340.6L96.3 343.9M95 337.6L96.3 343.9M107.8 324.3L123.8 340.7M117.8 338.3L123.8 340.7M121.6 334.6L123.8 340.7M135.5 331L151.3 334M145.4 335.4L151.3 334M146.3 330.5L151.3 334M163.1 331L178.9 334M173 335.4L178.9 334M173.9 330.5L178.9 334M191.2 331.8L206 333.3M200.6 335L206 333.3M201.1 330.4L206 333.3M219.2 333.1L233.1 331.9M228.5 334.5L233.1 331.9M228.1 330.2L233.1 331.9M246.8 333.1L260.7 331.9M256.1 334.5L260.7 331.9M255.7 330.2L260.7 331.9M274.7 332.9L288 332.2M283.5 334.5L288 332.2M283.3 330.3L288 332.2M303 332.6L314.9 332.5M310.8 334.3L314.9 332.5M310.7 330.7L314.9 332.5M330.5 332.5L342.5 332.5M338.3 334.4L342.5 332.5M338.3 330.7L342.5 332.5M358.2 332.5L369.9 332.5M365.9 334.3L369.9 332.5M365.9 330.7L369.9 332.5M387.8 332L395.5 333M392.7 333.9L395.5 333M393 331.5L395.5 333M415.4 331.8L423.1 333.2M420.2 333.9L423.1 333.2M420.7 331.5L423.1 333.2M443.5 331.8L450.1 333.3M447.6 333.8L450.1 333.3M448.1 331.7L450.1 333.3M475.8 332.6L473.1 332.4M475.5 331.6L473.1 332.4M475.3 333.6L473.1 332.4M505.7 333.9L498.3 331.2M501.3 330.9L498.3 331.2M500.5 333.2L498.3 331.2M533.3 333.9L525.9 331.2M528.9 330.9L525.9 331.2M528 333.3L525.9 331.2M-0.4 340.6L11.4 366M6.5 361.7L11.4 366M11.3 359.5L11.4 366M27.1 340.6L39 366M34.1 361.7L39 366M38.9 359.5L39 366M52.9 341.7L68.4 364.9M62.9 361.4L68.4 364.9M67.3 358.5L68.4 364.9M80.2 341.9L96.3 364.8M90.7 361.4L96.3 364.8M95 358.4L96.3 364.8M107.8 344.8L123.8 361.8M117.8 359.3L123.8 361.8M121.7 355.7L123.8 361.8M135.5 351.8L151.3 354.8M145.4 356.2L151.3 354.8M146.3 351.3L151.3 354.8M163.1 351.8L178.9 354.8M172.9 356.2L178.9 354.8M173.9 351.3L178.9 354.8M191.1 352.5L206 354.2M200.6 355.9L206 354.2M201.1 351.3L206 354.2M219.2 353.9L233.2 352.7M228.5 355.3L233.2 352.7M228.1 351L233.2 352.7M246.8 353.9L260.7 352.7M256.1 355.3L260.7 352.7M255.7 351L260.7 352.7M274.6 353.8L288.1 352.9M283.5 355.3L288.1 352.9M283.3 351.1L288.1 352.9M302.9 353.4L315 353.2M310.8 355.2L315 353.2M310.7 351.4L315 353.2M330.5 353.3L342.5 353.3M338.3 355.2L342.5 353.3M338.3 351.5L342.5 353.3M358.2 353.3L370 353.3M365.9 355.1L370 353.3M365.9 351.5L370 353.3M387.5 352.9L395.9 353.7M392.8 354.7L395.9 353.7M393.1 352.1L395.9 353.7M415.3 352.6L423.2 354M420.2 354.7L423.2 354M420.7 352.3L423.2 354M443.1 352.6L450.6 354M447.8 354.7L450.6 354M448.2 352.4L450.6 354M475.1 353.8L473.8 352.8M476.2 353.4L473.8 352.8M474.9 355L473.8 352.8M505.7 354.7L498.3 351.9M501.3 351.8L498.3 351.9M500.5 354L498.3 351.9M533.3 354.7L525.9 351.9M528.9 351.7L525.9 351.9M528.1 354L525.9 351.9M0 360.3L11 387.9M6.3 383.4L11 387.9M11.2 381.4L11 387.9M27.3 360.4L38.8 387.8M34.1 383.3L38.8 387.8M38.9 381.3L38.8 387.8M53.2 361.4L68.1 386.8M62.8 383L68.1 386.8M67.4 380.4L68.1 386.8M80.2 362L96.3 386.2M90.8 382.7L96.3 386.2M95.2 379.8L96.3 386.2M107.7 364.9L124 383.3M118.1 380.6L124 383.3M122 377.1L124 383.3M135.2 370.2L151.6 378M145.1 377.9L151.6 378M147.4 373.1L151.6 378M162.8 370.8L179.2 377.4M172.7 377.6L179.2 377.4M174.7 372.7L179.2 377.4M190.9 372.6L206.3 375.6M200.5 376.9L206.3 375.6M201.4 372.2L206.3 375.6M218.9 374.8L233.4 373.4M228.6 376.1L233.4 373.4M228.2 371.6L233.4 373.4M246.5 375L261 373.2M256.2 376L261 373.2M255.7 371.6L261 373.2M274.4 374.8L288.3 373.4M283.7 376L288.3 373.4M283.2 371.8L288.3 373.4M302.6 374.4L315.3 373.8M311 376L315.3 373.8M310.8 372L315.3 373.8M330.3 374.3L342.7 373.9M338.5 376L342.7 373.9M338.3 372.1L342.7 373.9M358.1 374.3L370.1 373.9M366 375.9L370.1 373.9M365.9 372.2L370.1 373.9M387.2 373.9L396.1 374.3M393 375.5L396.1 374.3M393.1 372.8L396.1 374.3M415.5 373.5L423.1 374.7M420.2 375.5L423.1 374.7M420.6 373.1L423.1 374.7M443.4 373.6L450.3 374.6M447.7 375.3L450.3 374.6M448 373.2L450.3 374.6M473.8 374.9L475.1 373.3M474.5 375.7L475.1 373.3M472.9 374.5L475.1 373.3M503.7 375.8L500.4 372.4M502.7 373.3L500.4 372.4M501.2 374.8L500.4 372.4M531.4 375.9L527.8 372.3M530.2 373.2L527.8 372.3M528.7 374.7L527.8 372.3M1 378.6L10 411.2M5.8 406.2L10 411.2M10.9 404.8L10 411.2M28.4 378.8L37.7 411M33.5 406L37.7 411M38.6 404.6L37.7 411M52.9 380.4L68.4 409.4M63.3 405.4L68.4 409.4M67.9 402.9L68.4 409.4M79.8 380.3L96.7 409.5M91.4 405.7L96.7 409.5M96 403L96.7 409.5M107.4 383.5L124.3 406.3M118.6 403.1L124.3 406.3M122.9 400L124.3 406.3M134.5 388.5L152.4 401.3M146 400L152.4 401.3M149.1 395.7L152.4 401.3M162.1 388.8L179.9 401M173.5 399.8L179.9 401M176.5 395.4L179.9 401M190.5 393L206.7 396.8M200.5 398L206.7 396.8M201.6 393L206.7 396.8M218.5 396.8L233.9 393M229.1 396.7L233.9 393M227.9 391.9L233.9 393M246.1 396.8L261.4 392.9M256.7 396.7L261.4 392.9M255.5 391.9L261.4 392.9M274.1 396.1L288.6 393.7M283.9 396.8L288.6 393.7M283.2 392.3L288.6 393.7M302.1 395.5L315.7 394.3M311.2 396.8L315.7 394.3M310.8 392.6L315.7 394.3M329.6 395.5L343.4 394.3M338.8 396.9L343.4 394.3M338.4 392.6L343.4 394.3M357.4 395.5L370.8 394.3M366.3 396.8L370.8 394.3M366 392.7L370.8 394.3M387.1 394.7L396.3 395.1M393 396.4L396.3 395.1M393.1 393.5L396.3 395.1M415.3 394.2L423.2 395.6M420.3 396.3L423.2 395.6M420.7 393.9L423.2 395.6M443 394.3L450.6 395.5M447.8 396.2L450.6 395.5M448.2 393.9L450.6 395.5M472.6 396.2L476.3 393.6M475 395.8L476.3 393.6M473.8 394.1L476.3 393.6M500.6 397.4L503.4 392.4M503.2 394.9L503.4 392.4M501.4 393.9L503.4 392.4M528.3 397.4L530.9 392.4M530.8 394.8L530.9 392.4M529 393.9L530.9 392.4M1.1 399.3L9.9 432.1M5.8 427.1L9.9 432.1M10.9 425.7L9.9 432.1M28.6 399.3L37.5 432.1M33.4 427L37.5 432.1M38.5 425.6L37.5 432.1M52.7 400.9L68.6 430.5M63.4 426.5L68.6 430.5M68.1 424L68.6 430.5M79.7 401L96.7 430.4M91.5 426.6L96.7 430.4M96.1 424L96.7 430.4M107.3 403.5L124.3 427.9M118.8 424.6L124.3 427.9M123.1 421.6L124.3 427.9M134.4 409.3L152.4 422M146 420.8L152.4 422M149.1 416.5L152.4 422M162 409.4L180 422M173.6 420.8L180 422M176.6 416.4L180 422M190.4 413.6L206.8 417.8M200.4 418.9L206.8 417.8M201.7 413.8L206.8 417.8M218.4 417.7L233.9 413.7M229.2 417.5L233.9 413.7M227.9 412.7L233.9 413.7M246 417.7L261.5 413.6M256.7 417.5L261.5 413.6M255.5 412.7L261.5 413.6M274 417.1L288.7 414.3M284 417.5L288.7 414.3M283.1 413L288.7 414.3M302 416.4L315.8 415M311.2 417.6L315.8 415M310.8 413.4L315.8 415M329.5 416.3L343.5 415.1M338.8 417.7L343.5 415.1M338.4 413.4L343.5 415.1M357.2 416.3L371 415.1M366.4 417.6L371 415.1M366 413.4L371 415.1M387.1 415.7L396.2 415.7M393.1 417.1L396.2 415.7M393.1 414.3L396.2 415.7M415.3 415L423.2 416.4M420.3 417.1L423.2 416.4M420.7 414.7L423.2 416.4M443 415.1L450.7 416.3M447.8 417.1L450.7 416.3M448.2 414.7L450.7 416.3M472.3 417.3L476.6 414.1M475.3 416.3L476.6 414.1M474.1 414.7L476.6 414.1M500.5 418.3L503.5 413.1M503.3 415.6L503.5 413.1M501.5 414.6L503.5 413.1M528.1 418.3L531.1 413.1M530.8 415.6L531.1 413.1M529.1 414.6L531.1 413.1M1.4 419.9L9.6 453.1M5.6 448L9.6 453.1M10.8 446.7L9.6 453.1M28.7 419.9L37.4 453M33.4 448L37.4 453M38.5 446.6L37.4 453M53.6 421.1L67.7 451.9M62.8 447.6L67.7 451.9M67.6 445.4L67.7 451.9M80.1 421.6L96.4 451.3M91.2 447.4L96.4 451.3M95.9 444.9L96.4 451.3M107.5 423.9L124.2 449.1M118.7 445.6L124.2 449.1M123.1 442.7L124.2 449.1M134.3 428.9L152.5 444M146.2 442.3L152.5 444M149.6 438.2L152.5 444M161.9 429.4L180.1 443.6M173.8 442L180.1 443.6M177 437.9L180.1 443.6M190.3 433.5L206.9 439.5M200.4 440L206.9 439.5M202.2 435L206.9 439.5M218.5 438.2L233.9 434.8M229 438.4L233.9 434.8M228 433.6L233.9 434.8M246.1 438.5L261.4 434.5M256.7 438.3L261.4 434.5M255.5 433.5L261.4 434.5M274.1 437.9L288.6 435M284 438.3L288.6 435M283.1 433.8L288.6 435M302.1 437.4L315.7 435.6M311.3 438.3L315.7 435.6M310.7 434.1L315.7 435.6M329.6 437.2L343.4 435.7M338.8 438.4L343.4 435.7M338.4 434.1L343.4 435.7M357.5 437.3L370.7 435.7M366.4 438.3L370.7 435.7M365.8 434.2L370.7 435.7M387.2 437.3L396.2 435.7M393.3 437.6L396.2 435.7M392.8 434.9L396.2 435.7M415.5 436.5L423 436.5M420.4 437.7L423 436.5M420.4 435.3L423 436.5M443.3 436.8L450.4 436.2M448 437.5L450.4 436.2M447.8 435.3L450.4 436.2M472.4 438.7L476.4 434.3M475.7 436.7L476.4 434.3M474.2 435.3L476.4 434.3M500.7 439.3L503.4 433.6M503.3 436.1L503.4 433.6M501.5 435.3L503.4 433.6M528.3 439.4L530.9 433.6M530.9 436.1L530.9 433.6M529 435.3L530.9 433.6M3.5 438.7L7.5 475.9M4.2 470.3L7.5 475.9M9.5 469.7L7.5 475.9M30.7 438.9L35.4 475.7M32.1 470.1L35.4 475.7M37.3 469.4L35.4 475.7M54.8 440L66.5 474.5M62.1 469.8L66.5 474.5M67.1 468.1L66.5 474.5M81.6 439.9L94.9 474.7M90.3 470.1L94.9 474.7M95.2 468.2L94.9 474.7M107.9 442.4L123.8 472.2M118.6 468.2L123.8 472.2M123.3 465.7L123.8 472.2M132.9 444.8L153.9 469.8M148.1 466.9L153.9 469.8M152.1 463.5L153.9 469.8M160.6 445.5L181.4 469M175.5 466.4L181.4 469M179.5 462.8L181.4 469M190.1 453.2L207.1 461.4M200.6 461.2L207.1 461.4M202.9 456.4L207.1 461.4M218.8 459.9L233.5 454.7M229.2 458.8L233.5 454.7M227.6 454.2L233.5 454.7M246.5 460.2L261 454.4M256.9 458.7L261 454.4M255.1 454.1L261 454.4M274.2 459.1L288.5 455.5M284.1 458.9L288.5 455.5M283 454.5L288.5 455.5M302.2 458.7L315.6 455.9M311.4 458.9L315.6 455.9M310.5 454.8L315.6 455.9M329.8 459L343.2 455.6M339.1 458.8L343.2 455.6M338 454.7L343.2 455.6M357.6 459L370.6 455.6M366.6 458.8L370.6 455.6M365.6 454.8L370.6 455.6M387.7 459.8L395.6 454.8M393.7 457.7L395.6 454.8M392.1 455.3L395.6 454.8M416.6 461.1L421.9 453.4M421.3 456.9L421.9 453.4M418.9 455.3L421.9 453.4M444.3 461L449.4 453.6M448.8 457L449.4 453.6M446.5 455.4L449.4 453.6M472.9 460.9L475.9 453.7M476 456.6L475.9 453.7M473.8 455.7L475.9 453.7M501.5 462L502.6 452.6M503.6 456L502.6 452.6M500.7 455.7L502.6 452.6M529.1 462L530.1 452.6M531.2 456L530.1 452.6M528.3 455.7L530.1 452.6M3.8 459.2L7.1 497M4 491.3L7.1 497M9.3 490.9L7.1 497M31.3 459.2L34.8 497M31.6 491.3L34.8 497M36.9 490.8L34.8 497M54.7 460.3L66.6 495.9M62.2 491.1L66.6 495.9M67.2 489.4L66.6 495.9M81.7 460.2L94.7 495.9M90.2 491.3L94.7 495.9M95.2 489.5L94.7 495.9M108.2 461.9L123.4 494.2M118.5 490L123.4 494.2M123.3 487.7L123.4 494.2M132.5 465.1L154.3 491.1M148.5 488.2L154.3 491.1M152.5 484.9L154.3 491.1M160.2 465.2L181.8 491M176 488.1L181.8 491M180 484.7L181.8 491M190 473.6L207.1 482.6M200.6 482.2L207.1 482.6M203.1 477.5L207.1 482.6M218.9 481.3L233.4 474.8M229.4 479.3L233.4 474.8M227.4 474.8L233.4 474.8M246.5 481.4L261 474.8M257 479.3L261 474.8M254.9 474.8L261 474.8M274.2 480.1L288.4 476.1M284.1 479.7L288.4 476.1M282.9 475.3L288.4 476.1M302.2 479.7L315.6 476.5M311.5 479.7L315.6 476.5M310.5 475.5L315.6 476.5M329.7 479.9L343.3 476.3M339.1 479.6L343.3 476.3M338 475.4L343.3 476.3M357.4 479.9L370.7 476.3M366.7 479.6L370.7 476.3M365.6 475.5L370.7 476.3M388.1 481.4L395.2 474.8M393.8 478.2L395.2 474.8M391.7 476L395.2 474.8M416.8 482.4L421.8 473.8M421.4 477.5L421.8 473.8M418.7 476L421.8 473.8M444.4 482.4L449.3 473.8M448.9 477.5L449.3 473.8M446.3 476L449.3 473.8M473.3 482.4L475.6 473.8M476.1 477.1L475.6 473.8M473.5 476.4L475.6 473.8M501.6 483L502.5 473.1M503.7 476.7L502.5 473.1M500.6 476.4L502.5 473.1M529.2 483L530 473.1M531.3 476.7L530 473.1M528.2 476.4L530 473.1M4 480.1L7 517.7M3.9 512L7 517.7M9.2 511.6L7 517.7M31.4 480.2L34.8 517.6M31.6 511.9L34.8 517.6M36.9 511.4L34.8 517.6M55.5 481L65.8 516.7M61.6 511.8L65.8 516.7M66.7 510.3L65.8 516.7M81.9 481.1L94.6 516.7M90.1 512L94.6 516.7M95.1 510.2L94.6 516.7M108.5 482.8L123.2 515M118.3 510.7L123.2 515M123.1 508.5L123.2 515M132.8 485.7L154 512M148.2 509L154 512M152.3 505.7L154 512M160.5 486.2L181.5 511.6M175.6 508.7L181.5 511.6M179.7 505.3L181.5 511.6M190.3 493L206.8 504.8M200.5 503.5L206.8 504.8M203.5 499.2L206.8 504.8M218.8 499.8L233.5 497.9M228.7 500.9L233.5 497.9M228.1 496.3L233.5 497.9M246.5 501.4L261 496.4M256.7 500.4L261 496.4M255.2 495.9L261 496.4M274.3 500.1L288.4 497.7M283.9 500.7L288.4 497.7M283.1 496.3L288.4 497.7M302.4 500.3L315.5 497.4M311.4 500.5L315.5 497.4M310.5 496.4L315.5 497.4M329.8 500.6L343.2 497.1M339.1 500.4L343.2 497.1M338 496.3L343.2 497.1M357.7 500.7L370.5 497.1M366.6 500.3L370.5 497.1M365.5 496.4L370.5 497.1M388.4 502.1L395 495.7M393.7 498.9L395 495.7M391.7 496.9L395 495.7M416.9 503.1L421.6 494.6M421.3 498.3L421.6 494.6M418.7 496.9L421.6 494.6M444.7 503.1L449 494.7M448.8 498.3L449 494.7M446.2 496.9L449 494.7M473.7 503.1L475.1 494.7M476 497.8L475.1 494.7M473.3 497.4L475.1 494.7M501.7 503.7L502.3 494M503.6 497.5L502.3 494M500.6 497.3L502.3 494M529.3 503.7L529.9 494.1M531.2 497.5L529.9 494.1M528.2 497.3L529.9 494.1M6.5 501.7L4.5 537.7M2.2 531.6L4.5 537.7M7.4 531.9L4.5 537.7M33.7 501.6L32.5 537.7M30 531.7L32.5 537.7M35.3 531.9L32.5 537.7M57.4 501.4L63.9 537.9M60.2 532.5L63.9 537.9M65.4 531.6L63.9 537.9M84.5 501.2L91.9 538.2M88.2 532.8L91.9 538.2M93.4 531.8L91.9 538.2M110 503L121.7 536.4M117.2 531.6L121.7 536.4M122.2 529.9L121.7 536.4M134.8 505.2L152 534.2M146.7 530.4L152 534.2M151.2 527.7L152 534.2M162.3 506L179.7 533.4M174.3 529.8L179.7 533.4M178.7 526.9L179.7 533.4M190.8 512.7L206.4 526.6M200.2 524.6L206.4 526.6M203.7 520.7L206.4 526.6M218.5 513.4L233.8 526M227.6 524.3L233.8 526M230.9 520.2L233.8 526M246.2 516L261.3 523.3M254.9 523.1L261.3 523.3M257.2 518.5L261.3 523.3M274.4 519L288.3 520.3M283.3 522L288.3 520.3M283.7 517.7L288.3 520.3M302.8 520.7L315.1 518.7M311.1 521.3L315.1 518.7M310.5 517.5L315.1 518.7M330.5 520.8L342.5 518.6M338.7 521.2L342.5 518.6M338 517.5L342.5 518.6M358.3 521L369.8 518.4M366.3 521L369.8 518.4M365.4 517.5L369.8 518.4M389.5 522.7L393.9 516.6M393.3 519.4L393.9 516.6M391.4 518.1L393.9 516.6M419.5 523.6L419.1 515.8M420.4 518.4L419.1 515.8M418 518.5L419.1 515.8M447 523.6L446.7 515.7M448 518.4L446.7 515.7M445.6 518.5L446.7 515.7M474.8 523.5L474 515.8M475.5 518.4L474 515.8M473.1 518.6L474 515.8M503.6 523.3L500.4 516M502.7 518.1L500.4 516M500.4 519.1L500.4 516M531.2 523.3L528 516M530.2 518.1L528 516M528 519L528 516M7 522.5L3.9 558.4M1.8 552.3L3.9 558.4M7.1 552.7L3.9 558.4M34.5 522.5L31.6 558.4M29.5 552.3L31.6 558.4M34.7 552.7L31.6 558.4M57.7 521.9L63.6 559M60 553.5L63.6 559M65.3 552.7L63.6 559M84.9 521.8L91.5 559.2M87.9 553.8L91.5 559.2M93.1 552.9L91.5 559.2M110.9 523.1L120.8 557.8M116.6 552.8L120.8 557.8M121.7 551.4L120.8 557.8M134.9 525.8L151.9 555.2M146.6 551.4L151.9 555.2M151.2 548.7L151.9 555.2M162.5 525.9L179.5 555M174.2 551.2L179.5 555M178.8 548.6L179.5 555M190.8 533.2L206.3 547.8M200.2 545.6L206.3 547.8M203.8 541.8L206.3 547.8M218.5 534L233.8 546.9M227.6 545.1L233.8 546.9M231 541.1L233.8 546.9M246.2 534.8L261.3 546.1M255 544.7L261.3 546.1M258.2 540.5L261.3 546.1M274.5 538.7L288.1 542.3M282.9 543.1L288.1 542.3M284 538.9L288.1 542.3M303 541.4L314.9 539.6M311 542L314.9 539.6M310.5 538.4L314.9 539.6M330.6 541.5L342.4 539.4M338.6 542L342.4 539.4M338 538.3L342.4 539.4M358.3 541.6L369.9 539.4M366.2 541.9L369.9 539.4M365.5 538.3L369.9 539.4M390.4 543.6L393 537.3M393 539.9L393 537.3M391.1 539.1L393 537.3M419.9 544.4L418.6 536.5M420.3 539.1L418.6 536.5M417.8 539.5L418.6 536.5M447.5 544.4L446.2 536.5M447.9 539.1L446.2 536.5M445.4 539.5L446.2 536.5M475.5 544.1L473.3 536.8M475.2 539L473.3 536.8M473 539.7L473.3 536.8M504 543.9L500 537M502.5 538.8L500 537M500.3 540L500 537M531.6 543.9L527.6 537M530.1 538.8L527.6 537M527.9 540L527.6 537" fill="none" stroke="#1e1e1e" stroke-opacity="0.75" stroke-width="0.65"/>
<path d="M140.6 176.5 L562.3 176.5" fill="none" stroke="#000" stroke-width="0.9" stroke-linejoin="round" stroke-linecap="round"/>
<path d="M263.9 176.5 L263.9 233.5" fill="none" stroke="#000" stroke-width="0.9" stroke-linejoin="round" stroke-linecap="round"/>
<path d="M285.8 176.5 L285.8 198.5 L288.7 203 L291.5 207.4 L295.6 209.8 L298.3 215.3 L304.5 219.4 L308.6 223.6 L314.8 225.6 L320.6 229.7 L323 236.6 L320.9 244.1 L318.9 253 L324 254.4 L329.9 252 L334.3 256.5 L339.5 261.3 L342.9 267.4 L347 270.2 L356.6 270.9 L363.5 273.6 L370.3 275 L377.2 272.6 L384 270.9 L390.9 272.9 L396.1 272.6" fill="none" stroke="#000" stroke-width="0.9" stroke-linejoin="round" stroke-linecap="round"/>
<path d="M396.1 264.8 L562.3 264.8" fill="none" stroke="#000" stroke-width="0.9" stroke-linejoin="round" stroke-linecap="round"/>
<path d="M396.1 272.6 L396.1 353.1" fill="none" stroke="#000" stroke-width="0.9" stroke-linejoin="round" stroke-linecap="round"/>
<path d="M104.6 331 L396.1 331" fill="none" stroke="#000" stroke-width="0.9" stroke-linejoin="round" stroke-linecap="round"/>
<path d="M396.1 353.1 L562.3 353.1" fill="none" stroke="#000" stroke-width="0.9" stroke-linejoin="round" stroke-linecap="round"/>
<path d="M440.3 353.1 L440.3 562.3" fill="none" stroke="#000" stroke-width="0.9" stroke-linejoin="round" stroke-linecap="round"/>
<path d="M329.9 441.4 L562.3 441.4" fill="none" stroke="#000" stroke-width="0.9" stroke-linejoin="round" stroke-linecap="round"/>
<path d="M329.9 331 L329.9 463.6" fill="none" stroke="#000" stroke-width="0.9" stroke-linejoin="round" stroke-linecap="round"/>
<path d="M198.6 331 L198.6 397.1" fill="none" stroke="#000" stroke-width="0.9" stroke-linejoin="round" stroke-linecap="round"/>
<path d="M199.3 397.7 L317.2 485.5" fill="none" stroke="#000" stroke-width="0.9" stroke-linejoin="round" stroke-linecap="round"/>
<path d="M264 331 L264 280.1 L265.7 274.3 L269.2 267.4 L272.6 260.6 L270.9 253.7 L266.8 248.6 L264.7 242.8 L263.9 233.5" fill="none" stroke="#000" stroke-width="0.9" stroke-linejoin="round" stroke-linecap="round"/>
<path d="M110.4 236.6 L114.9 235.9 L120 240 L128.6 241.7 L135.4 245.2 L138.9 249.6 L147.4 252 L157.7 251.3 L171.4 248.6 L185.2 246.9 L198.9 244.8 L212.6 243.4 L222.9 242.8 L264 242.8" fill="none" stroke="#000" stroke-width="0.9" stroke-linejoin="round" stroke-linecap="round"/>
<path d="M264 541.1 L313.7 535.9 L346.3 551.7 L356.6 557.2" fill="none" stroke="#000" stroke-width="0.9" stroke-linejoin="round" stroke-linecap="round"/>
<path d="M329.9 463.6 L327.9 462.6 L326 461.6 L323.4 462.1 L320.1 462.2 L319.3 465.3 L317.6 467.6 L317.7 472.9 L318.2 478.4 L317.2 481.6 L316.9 486 L319.2 489.3 L320.9 493.4 L323.3 496.8 L325.2 501 L325.1 502.9 L325.6 506.1 L322.1 509.1 L319.6 511.8 L318.1 516 L317.4 519.9 L316.7 522.7 L315.3 526 L317.7 528.8 L320.4 532.3 L319.2 534.1 L318.7 535.4 L316.6 535.7 L313.7 535.9" fill="none" stroke="#000" stroke-width="1.3" stroke-linejoin="round" stroke-linecap="round"/>
<path d="M312.7 462.9 L313.9 461.4 L315.9 460.3 L317.2 459.9 L317.6 457.6 L318.7 455 L319.9 451.9 L320.8 454.9 L320.6 455.6 L321.8 458.5 L322.6 458.7 L324 459.3 L324.6 460.8 L325.1 459.4 L327.1 459.4 L328.6 457.9 L331.1 458.7 L332.7 459.3 L333.6 460.7 L336.1 462.8 L337 464.8 L338.8 466.3" fill="none" stroke="#000" stroke-width="2.2" stroke-linejoin="round" stroke-linecap="round"/>
<path d="M354.9 337.7 L356.5 340.4 L358.9 342.8 L357.5 345.6 L356.2 348 L359.3 351 L361.2 352.9 L362 356.2 L363.7 357.7 L366.7 359.5 L368.8 359.5 L369.8 356.4 L372.1 354.3 L373.8 353.7 L375.8 353.1 L375 351.1 L373.8 348.2 L371.2 346.5 L368.5 344.3 L368.1 347 L366.7 348.3 L363.7 345.9 L361.5 344 L361.3 341.9 L360.5 339.3 L358.1 339.1 L354.9 337.7" fill="none" stroke="#000" stroke-width="1.5" stroke-linejoin="round" stroke-linecap="round"/>
<ellipse cx="197.2" cy="395" rx="2.2" ry="3.2" fill="none" stroke="#000" stroke-width="1.2"/>
<path d="M95.3 190.3 L95.7 193.2 L96.6 196.1 L97.5 198.4 L97.8 201.8 L98.9 203.6 L100.7 206.4 L102.1 209.6 L103.5 212.4 L105.1 216.4 L106.3 219.1 L107.9 221.3 L109.3 224.7 L109.5 226.9 L110.8 230.3 L111.3 233.6 L110.6 235.9 L109.6 238.1 L109 240.5 L109.9 241.9 L109.6 244.3 L110.9 246.8 L110.1 249.5 L109.5 252.5 L108.9 255.5 L109.4 258.2 L109.7 260.5 L110.1 262.8 L109.2 265.9 L108.7 270.8 L108.1 274.4 L107.2 277.4 L106.7 281.2 L105.4 284.1 L105.1 288.6 L103.3 291.8 L102.8 294.5 L101.7 298.6 L101.4 301.2 L100.2 304.7 L100.1 307.3 L100.1 310.3 L99.4 312.6 L100.1 314.4 L101.4 317.2 L101.8 320.5 L103 323.1 L103 326.7 L104 329.7 L105.4 333.6 L105.6 338.3 L106.5 343 L105.4 347 L104.9 350.9 L103.5 355.1 L102.8 357.5 L103.2 360.6 L102.2 362.9 L102.9 366.1 L103.3 368.6 L104.7 370.5 L106.7 373.6 L108.7 376.1 L110.6 379.1 L111 381.3 L112.9 385.1 L113.6 387.4 L114.9 390.7 L115.5 394.1 L116.4 397.9 L118.6 399.9 L121.5 401.8 L123.5 404.9 L126.1 407.2 L129.5 410 L131.7 413.1 L134.9 414.7 L137.1 416.9 L140.3 418.9 L142.2 420.7 L143.6 423.3 L146.1 425.1 L147.1 427.3 L149.2 429.9 L151.2 433.1 L152.2 435.7 L154.6 439.3 L156.3 442.2 L156.4 444.9 L157.9 447.8 L158.2 450.8 L159.2 453.7 L160.7 456.2 L160.6 460 L163.6 463.4 L165.2 466.8 L167.8 469.4 L169.5 473 L171.4 475.5 L172.9 478.1 L175.5 481.6 L178.5 485.6 L181.4 489.1 L183.4 492.4 L185.4 495.1 L187.3 497.3 L189.8 498.1 L193.4 498.3 L197.3 499.3 L199.9 500.2 L203 500 L205.5 501 L210.3 502.1 L214.7 502.6 L219.5 504.4 L221.9 506.1 L225.6 507.8 L228.4 508.6 L231 511.3 L233.2 512.4 L236.3 514.4 L239 516 L241.9 517.2 L243.6 519.1 L246 520.9 L249.2 523.7 L250.5 525.3 L252.6 527.4 L254.5 530 L256.6 532 L257.5 534.3 L258.8 536.8 L260.8 538.9 L261.3 540.7 L262.7 543.2 L264.3 545.1 L265.3 547.8 L265.8 550.1 L266.8 552.7" fill="none" stroke="#000" stroke-width="1.7" stroke-linejoin="round" stroke-linecap="round"/>
<path d="M95.3 190.3 L97.8 190.4 L99.6 191.7 L101.8 191.3 L107.1 190.9 L109.8 192.5 L112.2 192.5 L117 192.1 L120.5 191.1 L122.9 190.5 L126.3 191.5 L129.3 190.5 L131.8 189.8 L132.3 190.3 L134.7 192.7 L135.3 192.9 L136.1 195.4 L137.3 198.9 L138.2 201.4 L140.8 202.5 L140.9 206.3 L141.3 209 L143.9 210.4 L144.1 212.5 L144.9 216.1 L142.9 214.8 L141.6 216.3 L140.3 215.8 L140.1 215.6 L138.8 212.6 L138.1 210 L136.9 211 L135.8 213.4 L133.5 213.4 L134.2 214 L133 217.3 L134.1 217 L134.6 214.7 L134.8 210 L135.5 205.5 L138.2 203.6 L139.8 200.3 L140.3 199.6 L142.5 201.1 L143.8 204.4 L145.9 204.7 L147.1 202.5 L147.2 199.4 L148 196.8 L146.8 195.1 L146.4 193.2 L145.8 190.9 L146.5 188 L145.4 185.2 L144.5 183.3 L144 182.7 L145 179.8 L145.7 178.3" fill="none" stroke="#000" stroke-width="2" stroke-linejoin="round" stroke-linecap="round"/>
<path d="M137.2 178.3 L139 181.4 L139.8 182.6 L140.6 186.4 L141.6 185.7 L140.6 188.2 L140 190.4 L138.4 192.7 L138.2 195.7 L139.1 195.7 L140.4 199 L142.3 201.4 L145.1 202 L141.6 204.8 L142.8 205.4 L141.5 206.8 L141.3 210.3 L142.4 212 L141.9 211.9 L145.1 214.1 L145.3 213.1 L144.9 214.2 L143.9 215.2 L141.7 218.1 L139.3 219.4 L139.6 217.3 L139.9 217.3 L138.8 213.4 L134.8 212.2 L134.6 211.6 L134.6 207.9 L134.2 207.1 L134.4 205.7" fill="none" stroke="#000" stroke-width="2.2" stroke-linejoin="round" stroke-linecap="round"/>
<path d="M145.7 178.3 L143.2 177.9 L143.4 176.2 L140.6 176.2 L141.3 174.2 L138.9 172.3 L135.8 171.8 L136.4 169.9 L135.8 169.6 L132.5 168 L133.7 169.5 L132.4 167.6 L128.6 165.1 L129.3 162.9 L130 162.2 L126.4 162.2 L125.1 163.2 L125.1 162.4 L123.5 162.7 L121.8 161.8 L123 163 L121.7 161.8 L121.3 163.1 L119.5 161.5 L117.9 160.3 L115.3 158.3 L116.7 157.9 L116 160.8 L113.2 159.6 L112.3 160.2 L113.1 160.8 L108.9 158.3 L110.4 159.8 L108.7 156.6 L108 156 L106 154 L106.2 154.5 L104 153.4 L103.6 156.5 L102.6 155.9 L101.5 154.7 L99.8 155.4 L101.3 152.2 L100.1 151.5 L100 150.7 L97.4 149.1 L98.1 148.3 L96.7 148.5 L93.8 148.2 L94.3 148.5 L90.4 151.2 L91.9 148.3 L91.3 145.1 L88.4 144.1 L88.1 141.9 L86 140.7 L87.8 143.5 L86.2 142.3 L83.5 144.5 L83.4 144.2 L80.7 143 L82.4 143.5 L81.5 141.3 L79 139.8 L79.4 137.3 L77.3 135.7 L76.7 135.1 L75 138.6 L71.4 137.6 L72.2 138.8 L70.6 137 L69.3 137.9 L70.3 133.6 L66.8 131.9 L65.9 131.6 L65.6 131.6 L66.2 128.5 L64.7 128.6 L63.3 127.7 L61.1 127 L60.6 128.3 L60.3 124.5 L60 125.8 L59.3 124 L55.8 121.4 L55.1 120.9 L54.4 119.7 L53.7 118.6 L52.9 115.4 L52.1 115.2 L52.8 114.2 L50.4 113.9 L50.9 111.2 L48.7 111.4 L48.1 111.8 L45.6 109.7 L45.2 108.4 L42.5 108.3 L44.4 105.9 L41 107.2 L39.1 103.1 L37.8 104.6 L38.9 102.3 L37.2 99.8 L36 100.3 L34.3 99.1 L32.9 97.3 L30.7 96.7 L30.3 96.4 L31.3 95.3 L29 92.4 L27.7 92.5 L27.5 93.5 L24.6 91.1 L25 91.3 L25.3 90.8 L23.4 89.6 L22.5 88.7 L21.6 87 L19 86.6 L18.5 84.4 L18.9 84.9 L18.5 80.9 L15.1 81.3 L14.4 80 L13.9 79.1 L12 81.1 L12.5 78.4 L9.3 79.1 L10.3 75.5 L8 75.9 L8.2 73.6 L8.1 72.8 L4.6 73.5 L3.3 71.9 L2.4 70.6 L1.6 69.2 L2.9 68.8 L0.1 68.6 L-1.4 66.4 L-1.7 66.9" fill="none" stroke="#000" stroke-width="2.5" stroke-linejoin="round" stroke-linecap="round"/>
<path d="M147.8 175.6 L148 172.8 L142.4 175 L141.3 170.1 L141.5 169.8 L140.8 168.2 L139.4 167.4 L136.2 168.8 L134.8 167.7 L133.8 162.2 L133.4 162.6 L129.9 159 L131 158.8 L130 160.2 L128.6 160.1 L126.1 160.9 L122.8 163 L121.7 160.9 L123.1 159 L118.5 158.4 L119.3 154.4 L115.5 156.5 L114.1 158.8 L114.8 157.8 L113.1 159.1 L114.1 155.7 L110.7 155 L109.3 153.1 L109.2 150.6 L108.5 151.6 L104.9 154.1 L104.8 152.4 L103.8 155 L105 151.2 L101.6 147.3 L102.5 145.5 L100 144.1 L97.6 144.8 L95.6 144.2 L95.6 148 L94.6 146.2 L93.6 143.4 L91.4 144.3 L92.3 140.6 L90.9 138.5 L88.3 139.6 L88.9 140.9 L85.5 141.5 L84.9 140.7 L84.2 140.7 L82.2 139.3 L78.5 135.6 L79.8 133.1 L76.1 134.9 L75.5 133.5 L72.2 136.7 L71.7 133.5 L70.3 132.2 L72.1 130 L68.9 127.8 L68.8 126.4 L66.8 127.8 L67.8 127.6 L62.6 125 L64.5 122.9 L60.8 122.9 L60.4 122.1 L60.6 119 L57.6 116.2 L56.4 114.2 L56.7 113.3 L56.4 114 L51.7 112.1 L52.6 108.8 L50.9 107.3 L50.7 105.7 L48.9 108.3 L48.3 104.1 L45.6 102.6 L43.3 104.4 L43.8 99.8 L40.5 101.1 L38.1 100.5 L39.5 98.2 L35.8 98.1 L35.1 93.9 L32.9 92.2 L33.9 92.1 L32 91.8 L31.9 88.4 L28.2 90.3 L28.4 87.5 L26.7 85.8 L23.4 83.8 L23 83.1 L22.3 84.7 L19.5 81.5 L21.1 80.8 L18.5 80.7 L15.1 80.5 L16.5 79.1 L15.8 74.9 L11.4 73.9 L11.9 75.8 L12.3 72.3 L9.8 72.4 L7.4 72.1 L8.6 69.8 L7.1 68.8 L4.8 66 L2 64.8 L-0.2 66.7 L0.3 64.1" fill="none" stroke="#000" stroke-width="1.8" stroke-linejoin="round" stroke-linecap="round"/>
<path d="M140.2 174.2 L142.3 170.1 L142.7 168.1" fill="none" stroke="#000" stroke-width="1.9" stroke-linejoin="round" stroke-linecap="round"/>
<path d="M141.9 175.4 L143.5 170.9 L144.3 166.5" fill="none" stroke="#000" stroke-width="2.3" stroke-linejoin="round" stroke-linecap="round"/>
<path d="M145.5 178.2 L148.2 172.1 L149.2 166.1" fill="none" stroke="#000" stroke-width="2.2" stroke-linejoin="round" stroke-linecap="round"/>
<path d="M144.5 177.4 L145.9 174.3 L145.7 171" fill="none" stroke="#000" stroke-width="1.6" stroke-linejoin="round" stroke-linecap="round"/>
<path d="M144.4 177.3 L145.3 175.2 L145.8 173.3" fill="none" stroke="#000" stroke-width="2.1" stroke-linejoin="round" stroke-linecap="round"/>
<path d="M138.3 172.8 L144.5 171.9 L149.4 169.6" fill="none" stroke="#000" stroke-width="2.2" stroke-linejoin="round" stroke-linecap="round"/>
<path d="M138.2 172.7 L139.7 169 L139.7 165" fill="none" stroke="#000" stroke-width="1.5" stroke-linejoin="round" stroke-linecap="round"/>
<path d="M135.8 171.2 L138.5 168.4 L143.3 163.3" fill="none" stroke="#000" stroke-width="1.5" stroke-linejoin="round" stroke-linecap="round"/>
<path d="M133.1 169.4 L139.7 166.1 L143.9 162.5" fill="none" stroke="#000" stroke-width="1.6" stroke-linejoin="round" stroke-linecap="round"/>
<path d="M135.6 171.1 L139.8 169.6 L144.6 165.6" fill="none" stroke="#000" stroke-width="1.4" stroke-linejoin="round" stroke-linecap="round"/>
<path d="M129.8 165 L132.1 162.3 L131.7 161.7" fill="none" stroke="#000" stroke-width="2.4" stroke-linejoin="round" stroke-linecap="round"/>
<path d="M128 161.9 L128.7 157.4 L129.5 152" fill="none" stroke="#000" stroke-width="1.5" stroke-linejoin="round" stroke-linecap="round"/>
<path d="M130.7 166.4 L133.8 166.7 L134.6 164.6" fill="none" stroke="#000" stroke-width="2.2" stroke-linejoin="round" stroke-linecap="round"/>
<path d="M129.4 164.4 L131.4 163.5 L132 161.2" fill="none" stroke="#000" stroke-width="1.4" stroke-linejoin="round" stroke-linecap="round"/>
<path d="M132 168.6 L132.9 167.6 L136 167.2" fill="none" stroke="#000" stroke-width="1.9" stroke-linejoin="round" stroke-linecap="round"/>
<path d="M122.4 163.6 L124.1 160.3 L124.3 159.2" fill="none" stroke="#000" stroke-width="1.6" stroke-linejoin="round" stroke-linecap="round"/>
<path d="M127.4 161.2 L129.7 155 L132 149.5" fill="none" stroke="#000" stroke-width="2.4" stroke-linejoin="round" stroke-linecap="round"/>
<path d="M123.4 163.1 L125.7 160.5 L129.2 156" fill="none" stroke="#000" stroke-width="1.5" stroke-linejoin="round" stroke-linecap="round"/>
<path d="M123.9 162.9 L125.1 159.2 L126.5 157.2" fill="none" stroke="#000" stroke-width="2" stroke-linejoin="round" stroke-linecap="round"/>
<path d="M127.1 161.3 L126.5 160.6 L128.1 157.9" fill="none" stroke="#000" stroke-width="1.9" stroke-linejoin="round" stroke-linecap="round"/>
<path d="M118.2 160.2 L121 154.6 L121.3 149.7" fill="none" stroke="#000" stroke-width="1.9" stroke-linejoin="round" stroke-linecap="round"/>
<path d="M119.2 161.2 L122.7 159.5 L127.9 156" fill="none" stroke="#000" stroke-width="1.8" stroke-linejoin="round" stroke-linecap="round"/>
<path d="M120.4 162.5 L126.8 159.7 L131.1 157.8" fill="none" stroke="#000" stroke-width="2.3" stroke-linejoin="round" stroke-linecap="round"/>
<path d="M117.7 159.6 L124.5 156.2 L128.5 152.9" fill="none" stroke="#000" stroke-width="2.1" stroke-linejoin="round" stroke-linecap="round"/>
<path d="M117.7 159.6 L120.2 157.4 L123.2 153.2" fill="none" stroke="#000" stroke-width="1.8" stroke-linejoin="round" stroke-linecap="round"/>
<path d="M112.7 160.5 L115.8 156.7 L119.9 155.3" fill="none" stroke="#000" stroke-width="2.1" stroke-linejoin="round" stroke-linecap="round"/>
<path d="M115.8 158.8 L117.6 158.2 L121.8 155.3" fill="none" stroke="#000" stroke-width="2" stroke-linejoin="round" stroke-linecap="round"/>
<path d="M113.7 160 L113.2 155.7 L115.2 150.1" fill="none" stroke="#000" stroke-width="2" stroke-linejoin="round" stroke-linecap="round"/>
<path d="M113.3 160.2 L114.7 156.3 L117.9 149.8" fill="none" stroke="#000" stroke-width="1.5" stroke-linejoin="round" stroke-linecap="round"/>
<path d="M113.9 159.8 L117.3 158.9 L122.9 156.9" fill="none" stroke="#000" stroke-width="1.5" stroke-linejoin="round" stroke-linecap="round"/>
<path d="M109.4 157.7 L112.4 156.4 L117.9 153.7" fill="none" stroke="#000" stroke-width="1.5" stroke-linejoin="round" stroke-linecap="round"/>
<path d="M109.6 158.1 L114.3 154 L121.2 152.6" fill="none" stroke="#000" stroke-width="1.4" stroke-linejoin="round" stroke-linecap="round"/>
<path d="M108 155.3 L110.4 155.2 L111.2 153.4" fill="none" stroke="#000" stroke-width="2.3" stroke-linejoin="round" stroke-linecap="round"/>
<path d="M108.6 156.4 L112.9 151 L116.4 148.1" fill="none" stroke="#000" stroke-width="2" stroke-linejoin="round" stroke-linecap="round"/>
<path d="M107 153.7 L109.1 151.6 L112.9 149.6" fill="none" stroke="#000" stroke-width="1.9" stroke-linejoin="round" stroke-linecap="round"/>
<path d="M103.3 155.5 L104.4 153.1 L107.3 150.3" fill="none" stroke="#000" stroke-width="2.3" stroke-linejoin="round" stroke-linecap="round"/>
<path d="M105.1 154.5 L107.7 151.6 L111.9 147.5" fill="none" stroke="#000" stroke-width="1.6" stroke-linejoin="round" stroke-linecap="round"/>
<path d="M104 155.1 L107.4 148.8 L109.8 143.5" fill="none" stroke="#000" stroke-width="2" stroke-linejoin="round" stroke-linecap="round"/>
<path d="M106.1 154.1 L108.8 151.6 L113.2 149.9" fill="none" stroke="#000" stroke-width="1.6" stroke-linejoin="round" stroke-linecap="round"/>
<path d="M106.2 154 L110.7 151.6 L115 149.5" fill="none" stroke="#000" stroke-width="1.7" stroke-linejoin="round" stroke-linecap="round"/>
<path d="M101.1 154 L105.5 148.5 L108.9 144.2" fill="none" stroke="#000" stroke-width="1.6" stroke-linejoin="round" stroke-linecap="round"/>
<path d="M102.1 155.9 L104 153.7 L105.7 150.8" fill="none" stroke="#000" stroke-width="2.1" stroke-linejoin="round" stroke-linecap="round"/>
<path d="M98.3 148.5 L103.6 145.3 L107.2 141.8" fill="none" stroke="#000" stroke-width="1.9" stroke-linejoin="round" stroke-linecap="round"/>
<path d="M98.1 148.2 L102.3 142.9 L104.5 138" fill="none" stroke="#000" stroke-width="2.2" stroke-linejoin="round" stroke-linecap="round"/>
<path d="M102.1 155.8 L106.2 155.4 L110.7 152.9" fill="none" stroke="#000" stroke-width="2.1" stroke-linejoin="round" stroke-linecap="round"/>
<path d="M97.6 147.5 L99.9 146.1 L99.6 143.8" fill="none" stroke="#000" stroke-width="2" stroke-linejoin="round" stroke-linecap="round"/>
<path d="M92.7 149.8 L93.5 147.6 L94.5 143.2" fill="none" stroke="#000" stroke-width="1.6" stroke-linejoin="round" stroke-linecap="round"/>
<path d="M94.8 148.8 L95.3 147.2 L98 143.4" fill="none" stroke="#000" stroke-width="1.7" stroke-linejoin="round" stroke-linecap="round"/>
<path d="M93.1 149.6 L93.3 147.8 L96 145.4" fill="none" stroke="#000" stroke-width="1.9" stroke-linejoin="round" stroke-linecap="round"/>
<path d="M95.2 148.6 L96 148.1 L99.3 145.2" fill="none" stroke="#000" stroke-width="1.9" stroke-linejoin="round" stroke-linecap="round"/>
<path d="M89.2 144.7 L88.3 141.6 L90 137.3" fill="none" stroke="#000" stroke-width="1.9" stroke-linejoin="round" stroke-linecap="round"/>
<path d="M90.7 147.7 L94.6 146 L98.5 144.2" fill="none" stroke="#000" stroke-width="2" stroke-linejoin="round" stroke-linecap="round"/>
<path d="M88 142.4 L89.7 141.8 L90.9 140.1" fill="none" stroke="#000" stroke-width="1.6" stroke-linejoin="round" stroke-linecap="round"/>
<path d="M88.2 142.8 L91.7 136.5 L92.8 132.7" fill="none" stroke="#000" stroke-width="1.9" stroke-linejoin="round" stroke-linecap="round"/>
<path d="M91.5 149.4 L94.1 147.7 L95.5 146" fill="none" stroke="#000" stroke-width="1.6" stroke-linejoin="round" stroke-linecap="round"/>
<path d="M84.6 142.8 L86.4 139.4 L88.7 136.2" fill="none" stroke="#000" stroke-width="1.8" stroke-linejoin="round" stroke-linecap="round"/>
<path d="M86.8 141.6 L89.3 139.1 L90.3 134.2" fill="none" stroke="#000" stroke-width="2.1" stroke-linejoin="round" stroke-linecap="round"/>
<path d="M85.7 142.2 L88.3 140.8 L92.4 137.8" fill="none" stroke="#000" stroke-width="1.4" stroke-linejoin="round" stroke-linecap="round"/>
<path d="M82.5 143.9 L86.5 142.6 L90 139.4" fill="none" stroke="#000" stroke-width="1.8" stroke-linejoin="round" stroke-linecap="round"/>
<path d="M87 141.5 L90.6 139.3 L91.5 138.6" fill="none" stroke="#000" stroke-width="1.9" stroke-linejoin="round" stroke-linecap="round"/>
<path d="M78.3 138.1 L80.2 134.1 L80.6 132.2" fill="none" stroke="#000" stroke-width="1.7" stroke-linejoin="round" stroke-linecap="round"/>
<path d="M79.2 139.5 L83.1 138 L87 136.9" fill="none" stroke="#000" stroke-width="1.6" stroke-linejoin="round" stroke-linecap="round"/>
<path d="M78.1 137.9 L77.9 136.7 L78.5 134" fill="none" stroke="#000" stroke-width="1.7" stroke-linejoin="round" stroke-linecap="round"/>
<path d="M79.9 140.5 L82 139.5 L81.7 136.6" fill="none" stroke="#000" stroke-width="1.5" stroke-linejoin="round" stroke-linecap="round"/>
<path d="M77.4 136.8 L78 134.2 L79.4 129.1" fill="none" stroke="#000" stroke-width="1.6" stroke-linejoin="round" stroke-linecap="round"/>
<path d="M71.9 137.5 L78.4 136.5 L83.5 133.1" fill="none" stroke="#000" stroke-width="1.5" stroke-linejoin="round" stroke-linecap="round"/>
<path d="M72.4 137.4 L75.3 132.1 L80.8 127.9" fill="none" stroke="#000" stroke-width="1.8" stroke-linejoin="round" stroke-linecap="round"/>
<path d="M74.3 137 L74.5 132.5 L77.4 127.1" fill="none" stroke="#000" stroke-width="2.4" stroke-linejoin="round" stroke-linecap="round"/>
<path d="M73.8 137.1 L78.4 135.1 L82 131.4" fill="none" stroke="#000" stroke-width="1.4" stroke-linejoin="round" stroke-linecap="round"/>
<path d="M72.3 137.4 L75.2 133.2 L76.4 131" fill="none" stroke="#000" stroke-width="2.3" stroke-linejoin="round" stroke-linecap="round"/>
<path d="M67.5 131.7 L72.1 130 L78.2 127.7" fill="none" stroke="#000" stroke-width="2.3" stroke-linejoin="round" stroke-linecap="round"/>
<path d="M68.4 133.7 L70 127.6 L70.6 124" fill="none" stroke="#000" stroke-width="1.9" stroke-linejoin="round" stroke-linecap="round"/>
<path d="M70.2 137.6 L70.3 133.5 L71.6 131.4" fill="none" stroke="#000" stroke-width="2.1" stroke-linejoin="round" stroke-linecap="round"/>
<path d="M68.5 133.9 L73.8 131.6 L78.1 128.7" fill="none" stroke="#000" stroke-width="1.9" stroke-linejoin="round" stroke-linecap="round"/>
<path d="M67.6 132 L69.4 127.5 L71.6 125.6" fill="none" stroke="#000" stroke-width="1.6" stroke-linejoin="round" stroke-linecap="round"/>
<path d="M63.2 128.6 L64.2 124.7 L67.4 122.7" fill="none" stroke="#000" stroke-width="2.3" stroke-linejoin="round" stroke-linecap="round"/>
<path d="M62.2 128.1 L65.6 127.6 L68.6 125.6" fill="none" stroke="#000" stroke-width="1.6" stroke-linejoin="round" stroke-linecap="round"/>
<path d="M61.3 127.7 L61.1 122.7 L63.3 120.1" fill="none" stroke="#000" stroke-width="1.4" stroke-linejoin="round" stroke-linecap="round"/>
<path d="M62.3 128.2 L64 124.2 L66.8 118" fill="none" stroke="#000" stroke-width="1.6" stroke-linejoin="round" stroke-linecap="round"/>
<path d="M61.6 127.8 L64.6 122.8 L67.9 118.4" fill="none" stroke="#000" stroke-width="1.8" stroke-linejoin="round" stroke-linecap="round"/>
<path d="M57.9 122.2 L61.6 120.4 L67.5 119.6" fill="none" stroke="#000" stroke-width="1.9" stroke-linejoin="round" stroke-linecap="round"/>
<path d="M57.5 121.6 L62.1 119.3 L69 115.6" fill="none" stroke="#000" stroke-width="1.6" stroke-linejoin="round" stroke-linecap="round"/>
<path d="M59.1 124.3 L59.2 123.3 L59.6 120.2" fill="none" stroke="#000" stroke-width="1.7" stroke-linejoin="round" stroke-linecap="round"/>
<path d="M60.9 127.3 L61.9 121.9 L65.1 118.2" fill="none" stroke="#000" stroke-width="2.3" stroke-linejoin="round" stroke-linecap="round"/>
<path d="M57 120.8 L60.1 117.1 L62.1 114.3" fill="none" stroke="#000" stroke-width="1.8" stroke-linejoin="round" stroke-linecap="round"/>
<path d="M52.6 116 L57.3 115 L61.6 112.2" fill="none" stroke="#000" stroke-width="2.2" stroke-linejoin="round" stroke-linecap="round"/>
<path d="M55.4 118.8 L57.7 114.6 L62 111.9" fill="none" stroke="#000" stroke-width="1.8" stroke-linejoin="round" stroke-linecap="round"/>
<path d="M51.7 115.1 L54.7 114.3 L55.3 114" fill="none" stroke="#000" stroke-width="2" stroke-linejoin="round" stroke-linecap="round"/>
<path d="M55 118.5 L55.9 115.8 L55.4 114.6" fill="none" stroke="#000" stroke-width="1.9" stroke-linejoin="round" stroke-linecap="round"/>
<path d="M55.1 118.5 L55.9 118.3 L57 115.6" fill="none" stroke="#000" stroke-width="1.9" stroke-linejoin="round" stroke-linecap="round"/>
<path d="M46.4 109.2 L49.8 106.3 L53 106" fill="none" stroke="#000" stroke-width="2.3" stroke-linejoin="round" stroke-linecap="round"/>
<path d="M47.9 110.9 L49.2 108.2 L53.1 103.6" fill="none" stroke="#000" stroke-width="1.5" stroke-linejoin="round" stroke-linecap="round"/>
<path d="M50.9 114.2 L52.8 108.7 L55.6 104.4" fill="none" stroke="#000" stroke-width="1.9" stroke-linejoin="round" stroke-linecap="round"/>
<path d="M47.4 110.3 L48.3 106.7 L49 103.8" fill="none" stroke="#000" stroke-width="2.3" stroke-linejoin="round" stroke-linecap="round"/>
<path d="M51.1 114.5 L54.1 110.6 L55.3 108.4" fill="none" stroke="#000" stroke-width="2.2" stroke-linejoin="round" stroke-linecap="round"/>
<path d="M43.1 106.6 L48.1 104.5 L53.1 101.1" fill="none" stroke="#000" stroke-width="1.5" stroke-linejoin="round" stroke-linecap="round"/>
<path d="M41.9 105.7 L42.9 104.9 L45.7 101.8" fill="none" stroke="#000" stroke-width="1.8" stroke-linejoin="round" stroke-linecap="round"/>
<path d="M42.5 106.1 L45 104.4 L49.1 101.1" fill="none" stroke="#000" stroke-width="1.8" stroke-linejoin="round" stroke-linecap="round"/>
<path d="M42.5 106.2 L48.1 102.3 L52.2 98.4" fill="none" stroke="#000" stroke-width="1.9" stroke-linejoin="round" stroke-linecap="round"/>
<path d="M41 105 L41 101 L42 97.1" fill="none" stroke="#000" stroke-width="1.4" stroke-linejoin="round" stroke-linecap="round"/>
<path d="M39.9 104.1 L42.4 98.8 L42.5 95.6" fill="none" stroke="#000" stroke-width="1.7" stroke-linejoin="round" stroke-linecap="round"/>
<path d="M39.9 104.1 L40.5 99.6 L40.6 97" fill="none" stroke="#000" stroke-width="1.5" stroke-linejoin="round" stroke-linecap="round"/>
<path d="M38.3 102.8 L40.4 100.2 L40 98.6" fill="none" stroke="#000" stroke-width="2.1" stroke-linejoin="round" stroke-linecap="round"/>
<path d="M36.4 101.2 L39.2 97.7 L42.3 93.3" fill="none" stroke="#000" stroke-width="1.5" stroke-linejoin="round" stroke-linecap="round"/>
<path d="M40.2 104.3 L40.4 101 L40.7 99.9" fill="none" stroke="#000" stroke-width="1.9" stroke-linejoin="round" stroke-linecap="round"/>
<path d="M31.3 95.9 L33.6 93.6 L35.9 92.4" fill="none" stroke="#000" stroke-width="1.9" stroke-linejoin="round" stroke-linecap="round"/>
<path d="M34.1 99.2 L36.6 95.2 L36.7 90.9" fill="none" stroke="#000" stroke-width="1.9" stroke-linejoin="round" stroke-linecap="round"/>
<path d="M33.2 98.1 L33.4 95.2 L34.3 94.1" fill="none" stroke="#000" stroke-width="2.3" stroke-linejoin="round" stroke-linecap="round"/>
<path d="M32.8 97.6 L34.4 93.5 L36.7 91.2" fill="none" stroke="#000" stroke-width="2.1" stroke-linejoin="round" stroke-linecap="round"/>
<path d="M30 94.3 L32.3 88.9 L33.2 86" fill="none" stroke="#000" stroke-width="2.1" stroke-linejoin="round" stroke-linecap="round"/>
<path d="M26.9 91.8 L28.3 90.5 L31.9 90.3" fill="none" stroke="#000" stroke-width="2.1" stroke-linejoin="round" stroke-linecap="round"/>
<path d="M28.9 93.1 L28.5 88.8 L29.9 82.4" fill="none" stroke="#000" stroke-width="1.4" stroke-linejoin="round" stroke-linecap="round"/>
<path d="M24.7 90.3 L25.4 88.6 L27.3 86.1" fill="none" stroke="#000" stroke-width="2" stroke-linejoin="round" stroke-linecap="round"/>
<path d="M28.3 92.7 L31.3 90.3 L32 88.1" fill="none" stroke="#000" stroke-width="2" stroke-linejoin="round" stroke-linecap="round"/>
<path d="M25 90.5 L29.2 89 L34 86.2" fill="none" stroke="#000" stroke-width="1.5" stroke-linejoin="round" stroke-linecap="round"/>
<path d="M22.9 88.6 L23.9 87.7 L26.6 86.9" fill="none" stroke="#000" stroke-width="1.7" stroke-linejoin="round" stroke-linecap="round"/>
<path d="M22.6 88.2 L23.9 86.4 L25.3 84.4" fill="none" stroke="#000" stroke-width="2.1" stroke-linejoin="round" stroke-linecap="round"/>
<path d="M19.5 84.7 L21.6 81.3 L25.4 78.5" fill="none" stroke="#000" stroke-width="1.7" stroke-linejoin="round" stroke-linecap="round"/>
<path d="M20.4 85.7 L21.1 85 L23.2 82.1" fill="none" stroke="#000" stroke-width="1.6" stroke-linejoin="round" stroke-linecap="round"/>
<path d="M21 86.5 L22.1 85 L25.8 82.1" fill="none" stroke="#000" stroke-width="1.7" stroke-linejoin="round" stroke-linecap="round"/>
<path d="M16.8 82.6 L21.3 81.2 L25.4 79.5" fill="none" stroke="#000" stroke-width="1.5" stroke-linejoin="round" stroke-linecap="round"/>
<path d="M18 83.4 L19 83.2 L22.7 81.3" fill="none" stroke="#000" stroke-width="1.7" stroke-linejoin="round" stroke-linecap="round"/>
<path d="M14.9 81.4 L18.3 79 L22.3 78.5" fill="none" stroke="#000" stroke-width="1.8" stroke-linejoin="round" stroke-linecap="round"/>
<path d="M15.8 82 L18.6 79.1 L19.5 78.8" fill="none" stroke="#000" stroke-width="2.4" stroke-linejoin="round" stroke-linecap="round"/>
<path d="M17.1 82.9 L21.7 82.5 L25.6 79.8" fill="none" stroke="#000" stroke-width="2.1" stroke-linejoin="round" stroke-linecap="round"/>
<path d="M9.1 76 L11.9 72.3 L16.2 67.8" fill="none" stroke="#000" stroke-width="2.2" stroke-linejoin="round" stroke-linecap="round"/>
<path d="M13.4 80.3 L15.8 74.6 L19.7 71" fill="none" stroke="#000" stroke-width="2.2" stroke-linejoin="round" stroke-linecap="round"/>
<path d="M11.5 78.4 L11 76 L12.9 74.8" fill="none" stroke="#000" stroke-width="1.6" stroke-linejoin="round" stroke-linecap="round"/>
<path d="M11.6 78.4 L12.3 77.6 L12 74.3" fill="none" stroke="#000" stroke-width="2.1" stroke-linejoin="round" stroke-linecap="round"/>
<path d="M13.1 79.9 L20 76.8 L24.4 74.3" fill="none" stroke="#000" stroke-width="1.9" stroke-linejoin="round" stroke-linecap="round"/>
<path d="M5.5 72.3 L11.1 68.9 L17.7 68.1" fill="none" stroke="#000" stroke-width="2" stroke-linejoin="round" stroke-linecap="round"/>
<path d="M4.7 71.6 L5.5 71.3 L8.5 70" fill="none" stroke="#000" stroke-width="2.2" stroke-linejoin="round" stroke-linecap="round"/>
<path d="M3.6 70.4 L4.5 68.6 L7.5 65.7" fill="none" stroke="#000" stroke-width="2.4" stroke-linejoin="round" stroke-linecap="round"/>
<path d="M3.8 70.6 L5.6 70.1 L4.6 67.2" fill="none" stroke="#000" stroke-width="2.1" stroke-linejoin="round" stroke-linecap="round"/>
<path d="M4.6 71.5 L8.6 68.9 L10.3 66.6" fill="none" stroke="#000" stroke-width="1.8" stroke-linejoin="round" stroke-linecap="round"/>
<path d="M2 69.3 L4 65.6 L7.6 63.9" fill="none" stroke="#000" stroke-width="1.6" stroke-linejoin="round" stroke-linecap="round"/>
<path d="M2.8 69.9 L4.9 67.6 L5.6 65.9" fill="none" stroke="#000" stroke-width="2.1" stroke-linejoin="round" stroke-linecap="round"/>
<path d="M0.9 68.6 L3.9 67.5 L8.9 65.6" fill="none" stroke="#000" stroke-width="1.7" stroke-linejoin="round" stroke-linecap="round"/>
<path d="M1.8 69.2 L5 67.4 L10.9 66.7" fill="none" stroke="#000" stroke-width="2.3" stroke-linejoin="round" stroke-linecap="round"/>
<path d="M2.5 69.7 L2.9 66.6 L5.3 62.4" fill="none" stroke="#000" stroke-width="2.3" stroke-linejoin="round" stroke-linecap="round"/>
<path d="M13.7 137.2 L15.1 135.5 L18.6 136.2 L20.6 134.2 L23.4 135 L25.7 135.3 L29.5 134.2 L31.8 135.3 L34.1 137 L35.9 135.7 L40.5 137.6 L41.3 138.5 L44.3 141 L46.5 140.2 L49.9 142.1 L53.4 143.8 L54.5 143.3 L58.7 146.9 L59.7 148 L64.7 149.5 L66.2 151.6 L70.4 151.8 L73.2 153.6 L74.8 155.6 L78.5 157.5 L82 160.4 L85.5 162.6 L88.3 164.1 L89.4 164.5 L92.5 166.9 L95.1 167.4 L96.3 170.9 L99.7 171.9 L101 172.7 L105.6 174.9 L108.3 175.3 L109.6 178.3 L111.7 179.5 L114.2 179.1 L115.2 182.4 L117.4 181.7 L119.4 184.3 L122.1 185.1 L122.7 187.2 L123.6 187.6 L123.4 188.9 L121 188.3 L120.2 190.5 L120.5 191.8 L118.9 189.7 L117.2 191.1 L114.5 188.4 L112.9 188.7 L109.8 187.6 L107.1 188.9 L104.4 187.7 L102.2 186.1 L101.1 185.1 L97 184.2 L95.6 183.1 L93.4 181.5 L90.5 181.4 L88.2 180.5 L86.1 178.3 L83.1 179 L82.5 178.3 L80.2 176.4 L76.8 176.1 L74.5 174 L72 172.4 L69.8 170.9 L68.2 169.7 L64.5 168.7 L63.1 167.1 L58.9 164.9 L58.4 162.3 L54.1 161.9 L52 159.6 L50.5 158.3 L46.4 156.6 L44.2 156.5 L41.7 155.4 L38.4 152.8 L37.2 152.1 L34.3 151.9 L31.2 149.1 L28 148.8 L26.1 147.7 L22.8 145.6 L21.8 146.3 L19.8 145.5 L18.5 143.2 L17.1 141.7 L16 141.8 L15.2 139.3 L13.4 138.6 L13.7 137.2" fill="none" stroke="#000" stroke-width="1.8" stroke-linejoin="round" stroke-linecap="round"/>
<path d="M0 68.6 L0.5 68.3 L0.5 72.6 L3.5 72.6 L4.4 72.1 L6.3 74.1 L6 75.9 L5.8 76.2 L2 76.2 L4.3 77.6 L3.5 81.2 L1.8 83 L2.8 84.4 L7.9 82.3 L8.5 85.8 L6.8 86.5 L6.3 89.1 L8.5 90.8 L5 89 L7.2 91.7 L4.6 94.4 L9.3 92.3 L7.5 94.8 L10.3 95.4 L12.2 94.8 L11.4 94.3 L14.5 98.5 L15.4 99.9 L17 101.9 L18.6 100.6 L17.1 100.8 L17.7 103.9 L22.7 102.7 L20.1 101.6 L21.2 102 L24.7 100.6 L25.9 100.4 L28.4 104.4 L26.9 103.3 L30.6 105.8 L30.4 106.1 L34.5 104.5 L32.2 105.8 L33.9 106.1 L35.5 105.6 L37.1 104.7 L37.9 103 L34.3 99.2 L32.4 98.2 L34.4 96.7 L31.3 98 L32.6 96.9 L34.7 98.6 L35.9 100.1 L39.9 98.7 L41.1 97.7" fill="none" stroke="#000" stroke-width="2.2" stroke-linejoin="round" stroke-linecap="round"/>
<path d="M3.4 69.9 L5.4 69 L4.9 71.2 L8.4 74.7 L10.5 73.1 L7.6 74.5 L6 78.5 L4.5 78.8 L6.9 82.2 L6.3 83.7 L10.6 82.2 L12 86.8 L11.2 85.4 L13.6 88 L8.8 88.6 L11.9 92.7 L11.1 95.1 L11.7 97.1 L12.8 95.9 L16.8 97.1 L18.9 97.8 L19.4 96.9 L18.4 99.8 L19 101.2 L20.4 103.2 L24.2 102.7 L24.2 101.1 L25 103.8 L28.1 101.3 L27.6 103.6 L29.2 103.7 L34.9 106.6 L34.6 108.6 L37.6 108.1 L36.4 103.7 L38.5 104 L39.8 106.4 L41.7 102.1 L39.3 101.2 L39.3 100.2 L34.9 97.9 L38.4 98 L40.7 101 L41.9 97.7 L44.6 99.1" fill="none" stroke="#000" stroke-width="1.8" stroke-linejoin="round" stroke-linecap="round"/>
<path d="M139.9 419 L141.6 417.3 L143.5 416 L145.7 416.7 L148.7 417.5 L148.1 420.9 L146.8 423.6 L148.9 425.5 L151.6 427.8 L154.1 429.6 L156 430.3" fill="none" stroke="#000" stroke-width="1.6" stroke-linejoin="round" stroke-linecap="round"/>
<path d="M208.1 523.9 L211.6 525" fill="none" stroke="#000" stroke-width="2" stroke-linejoin="round" stroke-linecap="round"/>
<path d="M233.2 521.2 L237.3 522.2" fill="none" stroke="#000" stroke-width="2" stroke-linejoin="round" stroke-linecap="round"/>
<path d="M231.8 532.2 L234.9 533.2" fill="none" stroke="#000" stroke-width="2" stroke-linejoin="round" stroke-linecap="round"/>
<path d="M222.9 514.3 L224.9 515.4" fill="none" stroke="#000" stroke-width="2" stroke-linejoin="round" stroke-linecap="round"/>
<path d="M264.8 198.9L264.8 373.1" stroke="#000" stroke-width="4.6" stroke-linecap="round"/>
<path d="M309 198.9L309 373.1" stroke="#000" stroke-width="4.6" stroke-linecap="round"/>
<path d="M353.1 198.9L353.1 373.1" stroke="#000" stroke-width="4.6" stroke-linecap="round"/>
<path d="M216.4 275.7L406.3 274.6" stroke="#000" stroke-width="4.6" stroke-linecap="round"/>
<path d="M211.9 211.9L404.6 360.7" stroke="#000" stroke-width="4.6" stroke-linecap="round"/>
<text x="211.9" y="222.2" font-size="31.5" text-anchor="end" fill="#3a3a3a" >C5</text>
<text x="218.1" y="285.6" font-size="31.5" text-anchor="end" fill="#3a3a3a" >C1</text>
<text x="266.4" y="384" font-size="31.5" text-anchor="end" fill="#3a3a3a" >C2</text>
<text x="309.6" y="384" font-size="31.5" text-anchor="end" fill="#3a3a3a" >C3</text>
<text x="352.8" y="384" font-size="31.5" text-anchor="end" fill="#3a3a3a" >C4</text>
</g>
<rect x="0" y="0" width="551.7" height="551.7" fill="none" stroke="#222" stroke-width="1.2"/>
<path d="M198.6 0L198.6 -18M198.6 551.7L198.6 569.7M419.3 0L419.3 -18M419.3 551.7L419.3 569.7M0 375.2L-18.5 375.2M551.7 375.2L570.2 375.2M0 154.5L-18.5 154.5M551.7 154.5L570.2 154.5" fill="none" stroke="#111" stroke-width="1.1"/>
<path d="M22.1 0L22.1 -9M22.1 551.7L22.1 560.7M66.2 0L66.2 -9M66.2 551.7L66.2 560.7M110.3 0L110.3 -9M110.3 551.7L110.3 560.7M154.5 0L154.5 -9M154.5 551.7L154.5 560.7M242.7 0L242.7 -9M242.7 551.7L242.7 560.7M286.9 0L286.9 -9M286.9 551.7L286.9 560.7M331 0L331 -9M331 551.7L331 560.7M375.2 0L375.2 -9M375.2 551.7L375.2 560.7M463.4 0L463.4 -9M463.4 551.7L463.4 560.7M507.6 0L507.6 -9M507.6 551.7L507.6 560.7M551.7 0L551.7 -9M551.7 551.7L551.7 560.7M0 507.6L-9 507.6M551.7 507.6L560.7 507.6M0 463.4L-9 463.4M551.7 463.4L560.7 463.4M0 419.3L-9 419.3M551.7 419.3L560.7 419.3M0 331L-9 331M551.7 331L560.7 331M0 286.9L-9 286.9M551.7 286.9L560.7 286.9M0 242.7L-9 242.7M551.7 242.7L560.7 242.7M0 198.6L-9 198.6M551.7 198.6L560.7 198.6M0 110.3L-9 110.3M551.7 110.3L560.7 110.3M0 66.2L-9 66.2M551.7 66.2L560.7 66.2M0 22.1L-9 22.1M551.7 22.1L560.7 22.1" fill="none" stroke="#777" stroke-width="0.9"/>
<text x="-37" y="164.1" font-size="26.5" text-anchor="end" fill="#000" >50N</text>
<text x="-37" y="384.8" font-size="26.5" text-anchor="end" fill="#000" >40N</text>
<text x="198.6" y="610" font-size="26" text-anchor="middle" fill="#000" >120W</text>
<text x="419.3" y="610" font-size="26" text-anchor="middle" fill="#000" >110W</text>
<text x="276.7" y="-34.8" font-size="41" text-anchor="middle" fill="#000" font-weight="bold" >Transect locations (surface)</text>
<rect x="467.3" y="563.4" width="84.4" height="67.9" fill="#fff" stroke="#8c8c8c" stroke-width="1"/>
<text x="509.5" y="586.9" font-size="24.5" text-anchor="middle" fill="#000" >10 m/s</text>
<path d="M488.2 606.9L533 606.9M526.2 603.9L533 606.9L526.2 609.9" fill="none" stroke="#555" stroke-width="0.8"/>
</g>
<rect x="507" y="2348.3" width="25.1" height="49.1" fill="#9AB8D7" stroke="#333" stroke-width="0.8"/>
<rect x="532.1" y="2348.3" width="25.1" height="49.1" fill="#6CA3CD" stroke="#333" stroke-width="0.8"/>
<rect x="557.1" y="2348.3" width="25.1" height="49.1" fill="#3B8EC2" stroke="#333" stroke-width="0.8"/>
<rect x="582.2" y="2348.3" width="25.1" height="49.1" fill="#0DA6FF" stroke="#333" stroke-width="0.8"/>
<rect x="607.3" y="2348.3" width="25.1" height="49.1" fill="#38BCFF" stroke="#333" stroke-width="0.8"/>
<rect x="632.4" y="2348.3" width="25.1" height="49.1" fill="#40D1FF" stroke="#333" stroke-width="0.8"/>
<rect x="657.4" y="2348.3" width="25.1" height="49.1" fill="#40E7FF" stroke="#333" stroke-width="0.8"/>
<rect x="682.5" y="2348.3" width="25.1" height="49.1" fill="#40FCFF" stroke="#333" stroke-width="0.8"/>
<rect x="707.6" y="2348.3" width="25.1" height="49.1" fill="#40FFDB" stroke="#333" stroke-width="0.8"/>
<rect x="732.6" y="2348.3" width="25.1" height="49.1" fill="#40FFA2" stroke="#333" stroke-width="0.8"/>
<rect x="757.7" y="2348.3" width="25.1" height="49.1" fill="#40FF4C" stroke="#333" stroke-width="0.8"/>
<rect x="782.8" y="2348.3" width="25.1" height="49.1" fill="#65FF40" stroke="#333" stroke-width="0.8"/>
<rect x="807.8" y="2348.3" width="25.1" height="49.1" fill="#90FF40" stroke="#333" stroke-width="0.8"/>
<rect x="832.9" y="2348.3" width="25.1" height="49.1" fill="#BBFF40" stroke="#333" stroke-width="0.8"/>
<rect x="858" y="2348.3" width="25.1" height="49.1" fill="#E6FF40" stroke="#333" stroke-width="0.8"/>
<rect x="883" y="2348.3" width="25.1" height="49.1" fill="#FFF740" stroke="#333" stroke-width="0.8"/>
<rect x="908.1" y="2348.3" width="25.1" height="49.1" fill="#FFE240" stroke="#333" stroke-width="0.8"/>
<rect x="933.2" y="2348.3" width="25.1" height="49.1" fill="#FFB840" stroke="#333" stroke-width="0.8"/>
<rect x="958.3" y="2348.3" width="25.1" height="49.1" fill="#FF8D40" stroke="#333" stroke-width="0.8"/>
<rect x="983.3" y="2348.3" width="25.1" height="49.1" fill="#FF6240" stroke="#333" stroke-width="0.8"/>
<rect x="1008.4" y="2348.3" width="25.1" height="49.1" fill="#FF3740" stroke="#333" stroke-width="0.8"/>
<rect x="1033.5" y="2348.3" width="25.1" height="49.1" fill="#FF3468" stroke="#333" stroke-width="0.8"/>
<rect x="1058.5" y="2348.3" width="25.1" height="49.1" fill="#FF5FBE" stroke="#333" stroke-width="0.8"/>
<rect x="1083.6" y="2348.3" width="25.1" height="49.1" fill="#FF8AE9" stroke="#333" stroke-width="0.8"/>
<rect x="1108.7" y="2348.3" width="25.1" height="49.1" fill="#FFB5F5" stroke="#333" stroke-width="0.8"/>
<rect x="1133.8" y="2348.3" width="25.1" height="49.1" fill="#FFE0E1" stroke="#333" stroke-width="0.8"/>
<text x="532.1" y="2436.6" font-size="33.7" text-anchor="middle" fill="#000" >0</text>
<text x="607.3" y="2436.6" font-size="33.7" text-anchor="middle" fill="#000" >0.3</text>
<text x="682.5" y="2436.6" font-size="33.7" text-anchor="middle" fill="#000" >0.6</text>
<text x="757.7" y="2436.6" font-size="33.7" text-anchor="middle" fill="#000" >0.9</text>
<text x="832.9" y="2436.6" font-size="33.7" text-anchor="middle" fill="#000" >3</text>
<text x="908.1" y="2436.6" font-size="33.7" text-anchor="middle" fill="#000" >6</text>
<text x="983.3" y="2436.6" font-size="33.7" text-anchor="middle" fill="#000" >9</text>
<text x="1058.5" y="2436.6" font-size="33.7" text-anchor="middle" fill="#000" >12</text>
<text x="1133.8" y="2436.6" font-size="33.7" text-anchor="middle" fill="#000" >15</text>
<text transform="translate(1598.3 2368) scale(1.1 1)" font-size="52" fill="#1A3A6B" stroke="#1A3A6B" stroke-width="1.2" letter-spacing="0.4">NCAR</text>
<rect x="1602" y="2379.3" width="110" height="2.9" fill="#1A3A6B"/>
<text x="1598.6" y="2430.4" font-size="51.5" font-weight="bold" fill="#1A3A6B" letter-spacing="-0.6">ACOM</text>
</svg></body></html>
